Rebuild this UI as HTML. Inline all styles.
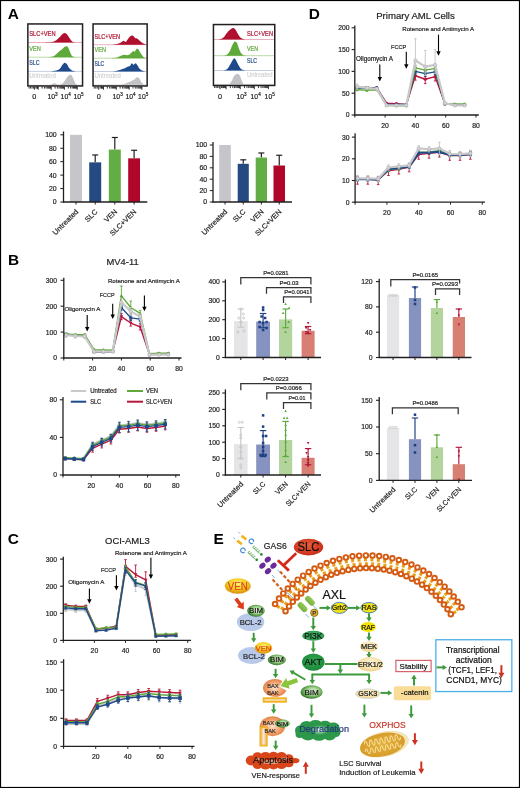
<!DOCTYPE html>
<html><head><meta charset="utf-8"><style>
html,body{margin:0;padding:0;background:#fff;}
body{width:520px;height:788px;overflow:hidden;}
svg{display:block;font-family:"Liberation Sans", sans-serif;will-change:transform;}
</style></head><body>
<svg width="520" height="788" viewBox="0 0 520 788">
<defs>
<radialGradient id="gVen" cx="50%" cy="35%" r="65%"><stop offset="0" stop-color="#fff47a"/><stop offset="0.55" stop-color="#f4cc1e"/><stop offset="1" stop-color="#d88a10"/></radialGradient>
<radialGradient id="gBim" cx="55%" cy="45%" r="60%"><stop offset="0" stop-color="#f4faf0"/><stop offset="0.5" stop-color="#9acb84"/><stop offset="0.85" stop-color="#3f8a36"/><stop offset="1" stop-color="#1a4f1a"/></radialGradient>
<radialGradient id="gSlc" cx="45%" cy="40%" r="65%"><stop offset="0" stop-color="#e8603a"/><stop offset="1" stop-color="#c82816"/></radialGradient>
<radialGradient id="gBeige" cx="50%" cy="40%" r="65%"><stop offset="0" stop-color="#fdf4dc"/><stop offset="0.6" stop-color="#f7e2aa"/><stop offset="1" stop-color="#eccb7e"/></radialGradient>
<radialGradient id="gBax" cx="50%" cy="50%" r="60%"><stop offset="0" stop-color="#fde2cc"/><stop offset="0.5" stop-color="#f2a874"/><stop offset="1" stop-color="#dc7030"/></radialGradient>
<radialGradient id="gPi3k" cx="50%" cy="40%" r="65%"><stop offset="0" stop-color="#44b462"/><stop offset="1" stop-color="#25944a"/></radialGradient>
<radialGradient id="gAkt" cx="50%" cy="40%" r="65%"><stop offset="0" stop-color="#30a650"/><stop offset="1" stop-color="#1a8538"/></radialGradient>
<radialGradient id="gDeg" cx="55%" cy="50%" r="50%"><stop offset="0" stop-color="#ffffff"/><stop offset="0.35" stop-color="#7cc890"/><stop offset="0.7" stop-color="#2e9a4c"/><stop offset="1" stop-color="#2a924a"/></radialGradient>
<radialGradient id="gMito" cx="50%" cy="50%" r="55%"><stop offset="0" stop-color="#e4b23e"/><stop offset="1" stop-color="#d69a28"/></radialGradient>
<linearGradient id="gKin" x1="0" y1="0" x2="0" y2="1"><stop offset="0" stop-color="#98ca5c"/><stop offset="1" stop-color="#74b03e"/></linearGradient>
<linearGradient id="gYbar" x1="0" y1="0" x2="0" y2="1"><stop offset="0" stop-color="#f0b848"/><stop offset="0.5" stop-color="#fbe6d6"/><stop offset="1" stop-color="#f0b848"/></linearGradient>
<linearGradient id="gYbarV" x1="0" y1="0" x2="1" y2="0"><stop offset="0" stop-color="#eeb070"/><stop offset="0.5" stop-color="#fbe6d6"/><stop offset="1" stop-color="#eeb070"/></linearGradient>
</defs>
<rect x="0.5" y="0.5" width="519" height="787" fill="#fff" stroke="#000" stroke-width="1.2"/>
<text x="7.70" y="19.20" font-size="15.4" font-weight="bold" fill="#000">A</text>
<line x1="27.85" y1="42.50" x2="82.55" y2="42.50" stroke="#e8b0bd" stroke-width="1"/>
<path d="M45.50,42.50 C46.58,42.43 50.22,42.48 52.00,42.10 C53.78,41.72 54.95,41.00 56.20,40.20 C57.45,39.40 58.45,38.35 59.50,37.30 C60.55,36.25 61.62,34.63 62.50,33.90 C63.38,33.17 64.05,32.83 64.80,32.90 C65.55,32.97 66.30,33.57 67.00,34.30 C67.70,35.03 68.33,36.30 69.00,37.30 C69.67,38.30 70.33,39.52 71.00,40.30 C71.67,41.08 72.17,41.63 73.00,42.00 C73.83,42.37 75.50,42.42 76.00,42.50 Z" fill="#b0102e" stroke="none" stroke-width="1"/>
<text x="29.25" y="36.30" font-size="6.5" fill="#b0102e" stroke="#b0102e" stroke-width="0.2" textLength="26.3" lengthAdjust="spacingAndGlyphs">SLC+VEN</text>
<line x1="27.85" y1="57.20" x2="82.55" y2="57.20" stroke="#b9dca6" stroke-width="1"/>
<path d="M47.50,57.20 C48.42,57.07 51.58,56.87 53.00,56.40 C54.42,55.93 55.00,55.23 56.00,54.40 C57.00,53.57 58.03,52.23 59.00,51.40 C59.97,50.57 61.00,50.07 61.80,49.40 C62.60,48.73 63.18,47.90 63.80,47.40 C64.42,46.90 64.92,46.53 65.50,46.40 C66.08,46.27 66.72,46.13 67.30,46.60 C67.88,47.07 68.47,48.10 69.00,49.20 C69.53,50.30 69.92,52.03 70.50,53.20 C71.08,54.37 71.58,55.53 72.50,56.20 C73.42,56.87 75.42,57.03 76.00,57.20 Z" fill="#5fa83a" stroke="none" stroke-width="1"/>
<text x="29.25" y="51.00" font-size="6.5" fill="#5fa83a" stroke="#5fa83a" stroke-width="0.2" textLength="11.5" lengthAdjust="spacingAndGlyphs">VEN</text>
<line x1="27.85" y1="71.40" x2="82.55" y2="71.40" stroke="#c5cfe3" stroke-width="1"/>
<path d="M51.00,71.40 C51.92,71.27 55.00,71.07 56.50,70.60 C58.00,70.13 59.03,69.53 60.00,68.60 C60.97,67.67 61.50,65.97 62.30,65.00 C63.10,64.03 64.02,62.92 64.80,62.80 C65.58,62.68 66.30,63.47 67.00,64.30 C67.70,65.13 68.25,66.82 69.00,67.80 C69.75,68.78 70.42,69.60 71.50,70.20 C72.58,70.80 74.83,71.20 75.50,71.40 Z" fill="#1f4a8a" stroke="none" stroke-width="1"/>
<text x="29.25" y="65.00" font-size="6.5" fill="#1f4a8a" stroke="#1f4a8a" stroke-width="0.2" textLength="10.3" lengthAdjust="spacingAndGlyphs">SLC</text>
<line x1="27.85" y1="85.20" x2="82.55" y2="85.20" stroke="#e3e3e5" stroke-width="1"/>
<path d="M50.00,85.20 C50.72,84.88 53.05,83.42 54.30,83.30 C55.55,83.18 56.47,84.28 57.50,84.50 C58.53,84.72 59.58,84.85 60.50,84.60 C61.42,84.35 62.12,83.90 63.00,83.00 C63.88,82.10 64.97,80.33 65.80,79.20 C66.63,78.07 67.27,76.93 68.00,76.20 C68.73,75.47 69.50,74.80 70.20,74.80 C70.90,74.80 71.57,75.30 72.20,76.20 C72.83,77.10 73.40,78.90 74.00,80.20 C74.60,81.50 75.13,83.17 75.80,84.00 C76.47,84.83 77.63,85.00 78.00,85.20 Z" fill="#c2c2c6" stroke="none" stroke-width="1"/>
<text x="29.25" y="78.00" font-size="6.5" fill="#d4d4d6" stroke="#d4d4d6" stroke-width="0.2" textLength="26.5" lengthAdjust="spacingAndGlyphs">Untreated</text>
<rect x="27.85" y="23.95" width="54.70" height="62.00" fill="none" stroke="#231f20" stroke-width="1.5"/>
<path d="M36.94,86.55v2.00M37.61,86.55v2.00M38.20,86.55v3.20M42.11,86.55v2.00M44.40,86.55v2.00M46.03,86.55v2.00M47.29,86.55v2.00M48.32,86.55v2.00M49.19,86.55v2.00M49.94,86.55v2.00M50.61,86.55v2.00M51.20,86.55v3.20M55.11,86.55v2.00M57.40,86.55v2.00M59.03,86.55v2.00M60.29,86.55v2.00M61.32,86.55v2.00M62.19,86.55v2.00M62.94,86.55v2.00M63.61,86.55v2.00M64.40,86.55v3.20M68.31,86.55v2.00M70.60,86.55v2.00M72.23,86.55v2.00M73.49,86.55v2.00M74.52,86.55v2.00M75.39,86.55v2.00M76.14,86.55v2.00M76.81,86.55v2.00M77.20,86.55v3.2M29.05,86.55v2.00M30.55,86.55v2.00M32.05,86.55v2.00M33.55,86.55v2.00M34.40,86.55v3.20M35.90,86.55v2.00M37.40,86.55v2.00" fill="none" stroke="#231f20" stroke-width="0.9"/>
<text x="34.40" y="98.90" font-size="7.3" text-anchor="middle" fill="#231f20" stroke="#231f20" stroke-width="0.2">0</text>
<text x="47.40" y="98.90" font-size="7.3" fill="#231f20" stroke="#231f20" stroke-width="0.2" textLength="7.6" lengthAdjust="spacingAndGlyphs">10</text>
<text x="55.10" y="95.70" font-size="4.6" fill="#231f20" stroke="#231f20" stroke-width="0.2">3</text>
<text x="60.60" y="98.90" font-size="7.3" fill="#231f20" stroke="#231f20" stroke-width="0.2" textLength="7.6" lengthAdjust="spacingAndGlyphs">10</text>
<text x="68.30" y="95.70" font-size="4.6" fill="#231f20" stroke="#231f20" stroke-width="0.2">4</text>
<text x="73.40" y="98.90" font-size="7.3" fill="#231f20" stroke="#231f20" stroke-width="0.2" textLength="7.6" lengthAdjust="spacingAndGlyphs">10</text>
<text x="81.10" y="95.70" font-size="4.6" fill="#231f20" stroke="#231f20" stroke-width="0.2">5</text>
<line x1="93.05" y1="44.70" x2="147.15" y2="44.70" stroke="#e8b0bd" stroke-width="1"/>
<path d="M111.00,44.70 C112.00,44.57 115.33,44.27 117.00,43.90 C118.67,43.53 119.92,43.02 121.00,42.50 C122.08,41.98 122.70,40.90 123.50,40.80 C124.30,40.70 124.97,42.33 125.80,41.90 C126.63,41.47 127.55,39.25 128.50,38.20 C129.45,37.15 130.67,35.95 131.50,35.60 C132.33,35.25 132.92,35.68 133.50,36.10 C134.08,36.52 134.42,37.70 135.00,38.10 C135.58,38.50 136.17,38.03 137.00,38.50 C137.83,38.97 139.00,40.12 140.00,40.90 C141.00,41.68 141.83,42.57 143.00,43.20 C144.17,43.83 146.33,44.45 147.00,44.70 Z" fill="#b0102e" stroke="none" stroke-width="1"/>
<text x="94.45" y="38.50" font-size="6.5" fill="#b0102e" stroke="#b0102e" stroke-width="0.2" textLength="25.6" lengthAdjust="spacingAndGlyphs">SLC+VEN</text>
<line x1="93.05" y1="58.20" x2="147.15" y2="58.20" stroke="#b9dca6" stroke-width="1"/>
<path d="M111.00,58.20 C112.00,58.08 115.33,57.90 117.00,57.50 C118.67,57.10 119.73,56.25 121.00,55.80 C122.27,55.35 123.60,54.88 124.60,54.80 C125.60,54.72 126.18,55.33 127.00,55.30 C127.82,55.27 128.75,55.05 129.50,54.60 C130.25,54.15 130.87,53.22 131.50,52.60 C132.13,51.98 132.75,51.07 133.30,50.90 C133.85,50.73 134.23,51.95 134.80,51.60 C135.37,51.25 136.08,49.17 136.70,48.80 C137.32,48.43 137.90,48.80 138.50,49.40 C139.10,50.00 139.75,51.52 140.30,52.40 C140.85,53.28 141.18,53.87 141.80,54.70 C142.42,55.53 143.13,56.82 144.00,57.40 C144.87,57.98 146.50,58.07 147.00,58.20 Z" fill="#5fa83a" stroke="none" stroke-width="1"/>
<text x="94.45" y="52.20" font-size="6.5" fill="#5fa83a" stroke="#5fa83a" stroke-width="0.2" textLength="11.5" lengthAdjust="spacingAndGlyphs">VEN</text>
<line x1="93.05" y1="71.50" x2="147.15" y2="71.50" stroke="#c5cfe3" stroke-width="1"/>
<path d="M110.00,71.50 C111.00,71.40 114.13,71.25 116.00,70.90 C117.87,70.55 119.70,69.85 121.20,69.40 C122.70,68.95 123.87,68.68 125.00,68.20 C126.13,67.72 127.17,66.88 128.00,66.50 C128.83,66.12 129.37,66.43 130.00,65.90 C130.63,65.37 131.20,63.48 131.80,63.30 C132.40,63.12 132.97,64.80 133.60,64.80 C134.23,64.80 134.95,63.18 135.60,63.30 C136.25,63.42 136.83,64.58 137.50,65.50 C138.17,66.42 138.85,67.95 139.60,68.80 C140.35,69.65 141.10,70.15 142.00,70.60 C142.90,71.05 144.50,71.35 145.00,71.50 Z" fill="#1f4a8a" stroke="none" stroke-width="1"/>
<text x="94.45" y="65.60" font-size="6.5" fill="#1f4a8a" stroke="#1f4a8a" stroke-width="0.2" textLength="9.8" lengthAdjust="spacingAndGlyphs">SLC</text>
<line x1="93.05" y1="84.80" x2="147.15" y2="84.80" stroke="#e3e3e5" stroke-width="1"/>
<path d="M121.00,84.80 C121.83,84.53 124.43,83.75 126.00,83.20 C127.57,82.65 129.23,81.98 130.40,81.50 C131.57,81.02 132.15,80.82 133.00,80.30 C133.85,79.78 134.78,78.92 135.50,78.40 C136.22,77.88 136.67,77.18 137.30,77.20 C137.93,77.22 138.63,77.70 139.30,78.50 C139.97,79.30 140.52,80.95 141.30,82.00 C142.08,83.05 143.55,84.33 144.00,84.80 Z" fill="#c2c2c6" stroke="none" stroke-width="1"/>
<text x="94.45" y="78.30" font-size="6.5" fill="#d4d4d6" stroke="#d4d4d6" stroke-width="0.2" textLength="26.3" lengthAdjust="spacingAndGlyphs">Untreated</text>
<rect x="93.05" y="23.95" width="54.10" height="62.00" fill="none" stroke="#231f20" stroke-width="1.5"/>
<path d="M101.52,86.55v2.00M102.26,86.55v2.00M102.91,86.55v2.00M103.50,86.55v3.20M107.35,86.55v2.00M109.61,86.55v2.00M111.21,86.55v2.00M112.45,86.55v2.00M113.46,86.55v2.00M114.32,86.55v2.00M115.06,86.55v2.00M115.71,86.55v2.00M116.30,86.55v3.20M120.15,86.55v2.00M122.41,86.55v2.00M124.01,86.55v2.00M125.25,86.55v2.00M126.26,86.55v2.00M127.12,86.55v2.00M127.86,86.55v2.00M128.51,86.55v2.00M129.20,86.55v3.20M133.05,86.55v2.00M135.31,86.55v2.00M136.91,86.55v2.00M138.15,86.55v2.00M139.16,86.55v2.00M140.02,86.55v2.00M140.76,86.55v2.00M141.41,86.55v2.00M141.90,86.55v3.2M94.25,86.55v2.00M95.75,86.55v2.00M97.25,86.55v2.00M98.70,86.55v3.20M100.20,86.55v2.00M101.70,86.55v2.00" fill="none" stroke="#231f20" stroke-width="0.9"/>
<text x="98.70" y="98.90" font-size="7.3" text-anchor="middle" fill="#231f20" stroke="#231f20" stroke-width="0.2">0</text>
<text x="112.50" y="98.90" font-size="7.3" fill="#231f20" stroke="#231f20" stroke-width="0.2" textLength="7.6" lengthAdjust="spacingAndGlyphs">10</text>
<text x="120.20" y="95.70" font-size="4.6" fill="#231f20" stroke="#231f20" stroke-width="0.2">3</text>
<text x="125.40" y="98.90" font-size="7.3" fill="#231f20" stroke="#231f20" stroke-width="0.2" textLength="7.6" lengthAdjust="spacingAndGlyphs">10</text>
<text x="133.10" y="95.70" font-size="4.6" fill="#231f20" stroke="#231f20" stroke-width="0.2">4</text>
<text x="138.10" y="98.90" font-size="7.3" fill="#231f20" stroke="#231f20" stroke-width="0.2" textLength="7.6" lengthAdjust="spacingAndGlyphs">10</text>
<text x="145.80" y="95.70" font-size="4.6" fill="#231f20" stroke="#231f20" stroke-width="0.2">5</text>
<line x1="213.45" y1="39.50" x2="274.75" y2="39.50" stroke="#e8b0bd" stroke-width="1"/>
<path d="M218.00,39.50 C218.58,39.37 220.50,39.13 221.50,38.70 C222.50,38.27 223.17,37.77 224.00,36.90 C224.83,36.03 225.75,34.50 226.50,33.50 C227.25,32.50 227.75,31.67 228.50,30.90 C229.25,30.13 230.15,29.37 231.00,28.90 C231.85,28.43 232.77,27.83 233.60,28.10 C234.43,28.37 235.18,29.37 236.00,30.50 C236.82,31.63 237.67,33.67 238.50,34.90 C239.33,36.13 240.08,37.18 241.00,37.90 C241.92,38.62 243.00,38.93 244.00,39.20 C245.00,39.47 246.50,39.45 247.00,39.50 Z" fill="#b0102e" stroke="none" stroke-width="1"/>
<text x="247.00" y="35.80" font-size="6.5" fill="#b0102e" stroke="#b0102e" stroke-width="0.2" textLength="26" lengthAdjust="spacingAndGlyphs">SLC+VEN</text>
<line x1="213.45" y1="55.70" x2="274.75" y2="55.70" stroke="#b9dca6" stroke-width="1"/>
<path d="M224.00,55.70 C224.58,55.45 226.50,55.03 227.50,54.20 C228.50,53.37 229.20,52.20 230.00,50.70 C230.80,49.20 231.50,46.73 232.30,45.20 C233.10,43.67 234.02,41.88 234.80,41.50 C235.58,41.12 236.30,41.70 237.00,42.90 C237.70,44.10 238.33,47.00 239.00,48.70 C239.67,50.40 240.25,52.00 241.00,53.10 C241.75,54.20 242.67,54.87 243.50,55.30 C244.33,55.73 245.58,55.63 246.00,55.70 Z" fill="#5fa83a" stroke="none" stroke-width="1"/>
<text x="247.00" y="50.60" font-size="6.5" fill="#5fa83a" stroke="#5fa83a" stroke-width="0.2" textLength="11" lengthAdjust="spacingAndGlyphs">VEN</text>
<line x1="213.45" y1="70.50" x2="274.75" y2="70.50" stroke="#c5cfe3" stroke-width="1"/>
<path d="M223.50,70.50 C224.17,70.20 226.33,69.78 227.50,68.70 C228.67,67.62 229.42,65.72 230.50,64.00 C231.58,62.28 232.95,58.78 234.00,58.40 C235.05,58.02 235.97,60.43 236.80,61.70 C237.63,62.97 238.22,64.73 239.00,66.00 C239.78,67.27 240.50,68.55 241.50,69.30 C242.50,70.05 244.42,70.30 245.00,70.50 Z" fill="#1f4a8a" stroke="none" stroke-width="1"/>
<text x="247.00" y="63.00" font-size="6.5" fill="#1f4a8a" stroke="#1f4a8a" stroke-width="0.2" textLength="10" lengthAdjust="spacingAndGlyphs">SLC</text>
<line x1="213.45" y1="84.30" x2="274.75" y2="84.30" stroke="#e3e3e5" stroke-width="1"/>
<path d="M229.50,84.30 C229.88,83.72 231.05,82.13 231.80,80.80 C232.55,79.47 233.08,77.47 234.00,76.30 C234.92,75.13 236.30,73.85 237.30,73.80 C238.30,73.75 239.22,74.75 240.00,76.00 C240.78,77.25 241.42,79.92 242.00,81.30 C242.58,82.68 243.25,83.80 243.50,84.30 Z" fill="#c2c2c6" stroke="none" stroke-width="1"/>
<text x="247.00" y="77.20" font-size="6.5" fill="#d4d4d6" stroke="#d4d4d6" stroke-width="0.2" textLength="25.6" lengthAdjust="spacingAndGlyphs">Untreated</text>
<rect x="213.45" y="24.55" width="61.30" height="60.90" fill="none" stroke="#231f20" stroke-width="1.5"/>
<path d="M222.97,86.05v2.00M223.92,86.05v2.00M224.73,86.05v2.00M225.45,86.05v2.00M226.10,86.05v3.20M230.34,86.05v2.00M232.83,86.05v2.00M234.59,86.05v2.00M235.96,86.05v2.00M237.07,86.05v2.00M238.02,86.05v2.00M238.83,86.05v2.00M239.55,86.05v2.00M240.20,86.05v3.20M244.44,86.05v2.00M246.93,86.05v2.00M248.69,86.05v2.00M250.06,86.05v2.00M251.17,86.05v2.00M252.12,86.05v2.00M252.93,86.05v2.00M253.65,86.05v2.00M254.30,86.05v3.20M258.54,86.05v2.00M261.03,86.05v2.00M262.79,86.05v2.00M264.16,86.05v2.00M265.27,86.05v2.00M266.22,86.05v2.00M267.03,86.05v2.00M267.75,86.05v2.00M268.40,86.05v3.2M214.65,86.05v2.00M216.15,86.05v2.00M217.65,86.05v2.00M219.15,86.05v2.00M220.10,86.05v3.20M221.60,86.05v2.00M223.10,86.05v2.00" fill="none" stroke="#231f20" stroke-width="0.9"/>
<text x="220.10" y="98.90" font-size="7.3" text-anchor="middle" fill="#231f20" stroke="#231f20" stroke-width="0.2">0</text>
<text x="236.40" y="98.90" font-size="7.3" fill="#231f20" stroke="#231f20" stroke-width="0.2" textLength="7.6" lengthAdjust="spacingAndGlyphs">10</text>
<text x="244.10" y="95.70" font-size="4.6" fill="#231f20" stroke="#231f20" stroke-width="0.2">3</text>
<text x="250.50" y="98.90" font-size="7.3" fill="#231f20" stroke="#231f20" stroke-width="0.2" textLength="7.6" lengthAdjust="spacingAndGlyphs">10</text>
<text x="258.20" y="95.70" font-size="4.6" fill="#231f20" stroke="#231f20" stroke-width="0.2">4</text>
<text x="264.60" y="98.90" font-size="7.3" fill="#231f20" stroke="#231f20" stroke-width="0.2" textLength="7.6" lengthAdjust="spacingAndGlyphs">10</text>
<text x="272.30" y="95.70" font-size="4.6" fill="#231f20" stroke="#231f20" stroke-width="0.2">5</text>
<rect x="70.00" y="134.80" width="12.00" height="67.20" fill="#c5c5ca"/>
<line x1="95.20" y1="162.35" x2="95.20" y2="154.96" stroke="#231f20" stroke-width="1.2"/>
<line x1="92.20" y1="154.96" x2="98.20" y2="154.96" stroke="#231f20" stroke-width="1.2"/>
<rect x="89.20" y="162.35" width="12.00" height="39.65" fill="#254a82"/>
<line x1="114.80" y1="149.58" x2="114.80" y2="137.49" stroke="#231f20" stroke-width="1.2"/>
<line x1="111.80" y1="137.49" x2="117.80" y2="137.49" stroke="#231f20" stroke-width="1.2"/>
<rect x="108.80" y="149.58" width="12.00" height="52.42" fill="#62ad45"/>
<line x1="134.10" y1="158.32" x2="134.10" y2="150.26" stroke="#231f20" stroke-width="1.2"/>
<line x1="131.10" y1="150.26" x2="137.10" y2="150.26" stroke="#231f20" stroke-width="1.2"/>
<rect x="128.20" y="158.32" width="11.80" height="43.68" fill="#b0062a"/>
<line x1="63.50" y1="131.50" x2="63.50" y2="202.60" stroke="#231f20" stroke-width="1.3"/>
<line x1="62.90" y1="202.00" x2="147.30" y2="202.00" stroke="#231f20" stroke-width="1.3"/>
<line x1="60.30" y1="202.00" x2="63.50" y2="202.00" stroke="#231f20" stroke-width="1"/>
<text x="56.70" y="204.48" font-size="6.9" text-anchor="end" fill="#231f20" stroke="#231f20" stroke-width="0.2">0</text>
<line x1="60.30" y1="188.56" x2="63.50" y2="188.56" stroke="#231f20" stroke-width="1"/>
<text x="56.70" y="191.04" font-size="6.9" text-anchor="end" fill="#231f20" stroke="#231f20" stroke-width="0.2">20</text>
<line x1="60.30" y1="175.12" x2="63.50" y2="175.12" stroke="#231f20" stroke-width="1"/>
<text x="56.70" y="177.60" font-size="6.9" text-anchor="end" fill="#231f20" stroke="#231f20" stroke-width="0.2">40</text>
<line x1="60.30" y1="161.68" x2="63.50" y2="161.68" stroke="#231f20" stroke-width="1"/>
<text x="56.70" y="164.16" font-size="6.9" text-anchor="end" fill="#231f20" stroke="#231f20" stroke-width="0.2">60</text>
<line x1="60.30" y1="148.24" x2="63.50" y2="148.24" stroke="#231f20" stroke-width="1"/>
<text x="56.70" y="150.72" font-size="6.9" text-anchor="end" fill="#231f20" stroke="#231f20" stroke-width="0.2">80</text>
<line x1="60.30" y1="134.80" x2="63.50" y2="134.80" stroke="#231f20" stroke-width="1"/>
<text x="56.70" y="137.28" font-size="6.9" text-anchor="end" fill="#231f20" stroke="#231f20" stroke-width="0.2">100</text>
<line x1="76.00" y1="202.00" x2="76.00" y2="204.50" stroke="#231f20" stroke-width="1"/>
<line x1="95.20" y1="202.00" x2="95.20" y2="204.50" stroke="#231f20" stroke-width="1"/>
<line x1="114.80" y1="202.00" x2="114.80" y2="204.50" stroke="#231f20" stroke-width="1"/>
<line x1="134.10" y1="202.00" x2="134.10" y2="204.50" stroke="#231f20" stroke-width="1"/>
<text x="0" y="0" font-size="7.2" text-anchor="end" fill="#231f20" stroke="#231f20" stroke-width="0.2" transform="translate(78.80,212.20) rotate(-45)" textLength="33" lengthAdjust="spacingAndGlyphs">Untreated</text>
<text x="0" y="0" font-size="7.2" text-anchor="end" fill="#231f20" stroke="#231f20" stroke-width="0.2" transform="translate(98.00,212.20) rotate(-45)" textLength="14.5" lengthAdjust="spacingAndGlyphs">SLC</text>
<text x="0" y="0" font-size="7.2" text-anchor="end" fill="#231f20" stroke="#231f20" stroke-width="0.2" transform="translate(117.60,212.20) rotate(-45)" textLength="15" lengthAdjust="spacingAndGlyphs">VEN</text>
<text x="0" y="0" font-size="7.2" text-anchor="end" fill="#231f20" stroke="#231f20" stroke-width="0.2" transform="translate(136.90,212.20) rotate(-45)" textLength="34" lengthAdjust="spacingAndGlyphs">SLC+VEN</text>
<rect x="219.20" y="145.00" width="11.60" height="57.00" fill="#c5c5ca"/>
<line x1="243.25" y1="163.81" x2="243.25" y2="159.82" stroke="#231f20" stroke-width="1.2"/>
<line x1="240.25" y1="159.82" x2="246.25" y2="159.82" stroke="#231f20" stroke-width="1.2"/>
<rect x="237.70" y="163.81" width="11.10" height="38.19" fill="#254a82"/>
<line x1="261.35" y1="157.54" x2="261.35" y2="152.98" stroke="#231f20" stroke-width="1.2"/>
<line x1="258.35" y1="152.98" x2="264.35" y2="152.98" stroke="#231f20" stroke-width="1.2"/>
<rect x="255.70" y="157.54" width="11.30" height="44.46" fill="#62ad45"/>
<line x1="279.25" y1="165.52" x2="279.25" y2="155.26" stroke="#231f20" stroke-width="1.2"/>
<line x1="276.25" y1="155.26" x2="282.25" y2="155.26" stroke="#231f20" stroke-width="1.2"/>
<rect x="273.50" y="165.52" width="11.50" height="36.48" fill="#b0062a"/>
<line x1="213.00" y1="142.00" x2="213.00" y2="202.60" stroke="#231f20" stroke-width="1.3"/>
<line x1="212.40" y1="202.00" x2="292.00" y2="202.00" stroke="#231f20" stroke-width="1.3"/>
<line x1="209.80" y1="202.00" x2="213.00" y2="202.00" stroke="#231f20" stroke-width="1"/>
<text x="207.20" y="204.48" font-size="6.9" text-anchor="end" fill="#231f20" stroke="#231f20" stroke-width="0.2">0</text>
<line x1="209.80" y1="190.60" x2="213.00" y2="190.60" stroke="#231f20" stroke-width="1"/>
<text x="207.20" y="193.08" font-size="6.9" text-anchor="end" fill="#231f20" stroke="#231f20" stroke-width="0.2">20</text>
<line x1="209.80" y1="179.20" x2="213.00" y2="179.20" stroke="#231f20" stroke-width="1"/>
<text x="207.20" y="181.68" font-size="6.9" text-anchor="end" fill="#231f20" stroke="#231f20" stroke-width="0.2">40</text>
<line x1="209.80" y1="167.80" x2="213.00" y2="167.80" stroke="#231f20" stroke-width="1"/>
<text x="207.20" y="170.28" font-size="6.9" text-anchor="end" fill="#231f20" stroke="#231f20" stroke-width="0.2">60</text>
<line x1="209.80" y1="156.40" x2="213.00" y2="156.40" stroke="#231f20" stroke-width="1"/>
<text x="207.20" y="158.88" font-size="6.9" text-anchor="end" fill="#231f20" stroke="#231f20" stroke-width="0.2">80</text>
<line x1="209.80" y1="145.00" x2="213.00" y2="145.00" stroke="#231f20" stroke-width="1"/>
<text x="207.20" y="147.48" font-size="6.9" text-anchor="end" fill="#231f20" stroke="#231f20" stroke-width="0.2">100</text>
<line x1="225.00" y1="202.00" x2="225.00" y2="204.50" stroke="#231f20" stroke-width="1"/>
<line x1="243.25" y1="202.00" x2="243.25" y2="204.50" stroke="#231f20" stroke-width="1"/>
<line x1="261.35" y1="202.00" x2="261.35" y2="204.50" stroke="#231f20" stroke-width="1"/>
<line x1="279.25" y1="202.00" x2="279.25" y2="204.50" stroke="#231f20" stroke-width="1"/>
<text x="0" y="0" font-size="7.2" text-anchor="end" fill="#231f20" stroke="#231f20" stroke-width="0.2" transform="translate(227.80,212.20) rotate(-45)" textLength="33" lengthAdjust="spacingAndGlyphs">Untreated</text>
<text x="0" y="0" font-size="7.2" text-anchor="end" fill="#231f20" stroke="#231f20" stroke-width="0.2" transform="translate(246.05,212.20) rotate(-45)" textLength="14.5" lengthAdjust="spacingAndGlyphs">SLC</text>
<text x="0" y="0" font-size="7.2" text-anchor="end" fill="#231f20" stroke="#231f20" stroke-width="0.2" transform="translate(264.15,212.20) rotate(-45)" textLength="15" lengthAdjust="spacingAndGlyphs">VEN</text>
<text x="0" y="0" font-size="7.2" text-anchor="end" fill="#231f20" stroke="#231f20" stroke-width="0.2" transform="translate(282.05,212.20) rotate(-45)" textLength="34" lengthAdjust="spacingAndGlyphs">SLC+VEN</text>
<text x="308.70" y="19.20" font-size="15.4" font-weight="bold" fill="#000">D</text>
<text x="376.20" y="19.30" font-size="9.8" fill="#231f20" stroke="#231f20" stroke-width="0.2" textLength="78.6" lengthAdjust="spacingAndGlyphs">Primary AML Cells</text>
<line x1="357.07" y1="87.53" x2="357.07" y2="86.66" stroke="#b8163a" stroke-width="0.9"/>
<line x1="355.77" y1="86.66" x2="358.37" y2="86.66" stroke="#b8163a" stroke-width="0.9"/>
<line x1="357.07" y1="87.53" x2="357.07" y2="88.40" stroke="#b8163a" stroke-width="0.9"/>
<line x1="355.77" y1="88.40" x2="358.37" y2="88.40" stroke="#b8163a" stroke-width="0.9"/>
<line x1="366.92" y1="87.53" x2="366.92" y2="86.66" stroke="#b8163a" stroke-width="0.9"/>
<line x1="365.62" y1="86.66" x2="368.22" y2="86.66" stroke="#b8163a" stroke-width="0.9"/>
<line x1="366.92" y1="87.53" x2="366.92" y2="88.40" stroke="#b8163a" stroke-width="0.9"/>
<line x1="365.62" y1="88.40" x2="368.22" y2="88.40" stroke="#b8163a" stroke-width="0.9"/>
<line x1="376.77" y1="87.97" x2="376.77" y2="87.10" stroke="#b8163a" stroke-width="0.9"/>
<line x1="375.47" y1="87.10" x2="378.07" y2="87.10" stroke="#b8163a" stroke-width="0.9"/>
<line x1="376.77" y1="87.97" x2="376.77" y2="88.84" stroke="#b8163a" stroke-width="0.9"/>
<line x1="375.47" y1="88.84" x2="378.07" y2="88.84" stroke="#b8163a" stroke-width="0.9"/>
<line x1="386.62" y1="103.23" x2="386.62" y2="102.79" stroke="#b8163a" stroke-width="0.9"/>
<line x1="385.31" y1="102.79" x2="387.92" y2="102.79" stroke="#b8163a" stroke-width="0.9"/>
<line x1="386.62" y1="103.23" x2="386.62" y2="103.66" stroke="#b8163a" stroke-width="0.9"/>
<line x1="385.31" y1="103.66" x2="387.92" y2="103.66" stroke="#b8163a" stroke-width="0.9"/>
<line x1="396.46" y1="103.66" x2="396.46" y2="103.23" stroke="#b8163a" stroke-width="0.9"/>
<line x1="395.16" y1="103.23" x2="397.76" y2="103.23" stroke="#b8163a" stroke-width="0.9"/>
<line x1="396.46" y1="103.66" x2="396.46" y2="104.10" stroke="#b8163a" stroke-width="0.9"/>
<line x1="395.16" y1="104.10" x2="397.76" y2="104.10" stroke="#b8163a" stroke-width="0.9"/>
<line x1="406.31" y1="104.54" x2="406.31" y2="104.10" stroke="#b8163a" stroke-width="0.9"/>
<line x1="405.01" y1="104.10" x2="407.61" y2="104.10" stroke="#b8163a" stroke-width="0.9"/>
<line x1="406.31" y1="104.54" x2="406.31" y2="104.97" stroke="#b8163a" stroke-width="0.9"/>
<line x1="405.01" y1="104.97" x2="407.61" y2="104.97" stroke="#b8163a" stroke-width="0.9"/>
<line x1="415.40" y1="75.76" x2="415.40" y2="73.14" stroke="#b8163a" stroke-width="0.9"/>
<line x1="414.10" y1="73.14" x2="416.70" y2="73.14" stroke="#b8163a" stroke-width="0.9"/>
<line x1="415.40" y1="75.76" x2="415.40" y2="80.12" stroke="#b8163a" stroke-width="0.9"/>
<line x1="414.10" y1="80.12" x2="416.70" y2="80.12" stroke="#b8163a" stroke-width="0.9"/>
<line x1="425.25" y1="79.25" x2="425.25" y2="76.63" stroke="#b8163a" stroke-width="0.9"/>
<line x1="423.95" y1="76.63" x2="426.55" y2="76.63" stroke="#b8163a" stroke-width="0.9"/>
<line x1="425.25" y1="79.25" x2="425.25" y2="83.61" stroke="#b8163a" stroke-width="0.9"/>
<line x1="423.95" y1="83.61" x2="426.55" y2="83.61" stroke="#b8163a" stroke-width="0.9"/>
<line x1="435.10" y1="76.63" x2="435.10" y2="74.02" stroke="#b8163a" stroke-width="0.9"/>
<line x1="433.80" y1="74.02" x2="436.40" y2="74.02" stroke="#b8163a" stroke-width="0.9"/>
<line x1="435.10" y1="76.63" x2="435.10" y2="80.99" stroke="#b8163a" stroke-width="0.9"/>
<line x1="433.80" y1="80.99" x2="436.40" y2="80.99" stroke="#b8163a" stroke-width="0.9"/>
<line x1="444.94" y1="103.66" x2="444.94" y2="103.23" stroke="#b8163a" stroke-width="0.9"/>
<line x1="443.64" y1="103.23" x2="446.24" y2="103.23" stroke="#b8163a" stroke-width="0.9"/>
<line x1="444.94" y1="103.66" x2="444.94" y2="104.10" stroke="#b8163a" stroke-width="0.9"/>
<line x1="443.64" y1="104.10" x2="446.24" y2="104.10" stroke="#b8163a" stroke-width="0.9"/>
<line x1="454.79" y1="104.97" x2="454.79" y2="104.54" stroke="#b8163a" stroke-width="0.9"/>
<line x1="453.49" y1="104.54" x2="456.09" y2="104.54" stroke="#b8163a" stroke-width="0.9"/>
<line x1="454.79" y1="104.97" x2="454.79" y2="105.41" stroke="#b8163a" stroke-width="0.9"/>
<line x1="453.49" y1="105.41" x2="456.09" y2="105.41" stroke="#b8163a" stroke-width="0.9"/>
<line x1="464.64" y1="105.41" x2="464.64" y2="104.97" stroke="#b8163a" stroke-width="0.9"/>
<line x1="463.34" y1="104.97" x2="465.94" y2="104.97" stroke="#b8163a" stroke-width="0.9"/>
<line x1="464.64" y1="105.41" x2="464.64" y2="105.84" stroke="#b8163a" stroke-width="0.9"/>
<line x1="463.34" y1="105.84" x2="465.94" y2="105.84" stroke="#b8163a" stroke-width="0.9"/>
<path d="M357.07,87.53 L366.92,87.53 L376.77,87.97 L386.62,103.23 L396.46,103.66 L406.31,104.54 L415.40,75.76 L425.25,79.25 L435.10,76.63 L444.94,103.66 L454.79,104.97 L464.64,105.41" fill="none" stroke="#b8163a" stroke-width="1.4" stroke-linejoin="round"/>
<circle cx="357.07" cy="87.53" r="1.60" fill="#b8163a"/>
<circle cx="366.92" cy="87.53" r="1.60" fill="#b8163a"/>
<circle cx="376.77" cy="87.97" r="1.60" fill="#b8163a"/>
<circle cx="386.62" cy="103.23" r="1.60" fill="#b8163a"/>
<circle cx="396.46" cy="103.66" r="1.60" fill="#b8163a"/>
<circle cx="406.31" cy="104.54" r="1.60" fill="#b8163a"/>
<circle cx="415.40" cy="75.76" r="1.60" fill="#b8163a"/>
<circle cx="425.25" cy="79.25" r="1.60" fill="#b8163a"/>
<circle cx="435.10" cy="76.63" r="1.60" fill="#b8163a"/>
<circle cx="444.94" cy="103.66" r="1.60" fill="#b8163a"/>
<circle cx="454.79" cy="104.97" r="1.60" fill="#b8163a"/>
<circle cx="464.64" cy="105.41" r="1.60" fill="#b8163a"/>
<line x1="357.07" y1="87.97" x2="357.07" y2="87.10" stroke="#1f4a8a" stroke-width="0.9"/>
<line x1="355.77" y1="87.10" x2="358.37" y2="87.10" stroke="#1f4a8a" stroke-width="0.9"/>
<line x1="357.07" y1="87.97" x2="357.07" y2="88.84" stroke="#1f4a8a" stroke-width="0.9"/>
<line x1="355.77" y1="88.84" x2="358.37" y2="88.84" stroke="#1f4a8a" stroke-width="0.9"/>
<line x1="366.92" y1="87.97" x2="366.92" y2="87.10" stroke="#1f4a8a" stroke-width="0.9"/>
<line x1="365.62" y1="87.10" x2="368.22" y2="87.10" stroke="#1f4a8a" stroke-width="0.9"/>
<line x1="366.92" y1="87.97" x2="366.92" y2="88.84" stroke="#1f4a8a" stroke-width="0.9"/>
<line x1="365.62" y1="88.84" x2="368.22" y2="88.84" stroke="#1f4a8a" stroke-width="0.9"/>
<line x1="376.77" y1="87.97" x2="376.77" y2="87.10" stroke="#1f4a8a" stroke-width="0.9"/>
<line x1="375.47" y1="87.10" x2="378.07" y2="87.10" stroke="#1f4a8a" stroke-width="0.9"/>
<line x1="376.77" y1="87.97" x2="376.77" y2="88.84" stroke="#1f4a8a" stroke-width="0.9"/>
<line x1="375.47" y1="88.84" x2="378.07" y2="88.84" stroke="#1f4a8a" stroke-width="0.9"/>
<line x1="386.62" y1="104.54" x2="386.62" y2="104.10" stroke="#1f4a8a" stroke-width="0.9"/>
<line x1="385.31" y1="104.10" x2="387.92" y2="104.10" stroke="#1f4a8a" stroke-width="0.9"/>
<line x1="386.62" y1="104.54" x2="386.62" y2="104.97" stroke="#1f4a8a" stroke-width="0.9"/>
<line x1="385.31" y1="104.97" x2="387.92" y2="104.97" stroke="#1f4a8a" stroke-width="0.9"/>
<line x1="396.46" y1="104.54" x2="396.46" y2="104.10" stroke="#1f4a8a" stroke-width="0.9"/>
<line x1="395.16" y1="104.10" x2="397.76" y2="104.10" stroke="#1f4a8a" stroke-width="0.9"/>
<line x1="396.46" y1="104.54" x2="396.46" y2="104.97" stroke="#1f4a8a" stroke-width="0.9"/>
<line x1="395.16" y1="104.97" x2="397.76" y2="104.97" stroke="#1f4a8a" stroke-width="0.9"/>
<line x1="406.31" y1="104.54" x2="406.31" y2="104.10" stroke="#1f4a8a" stroke-width="0.9"/>
<line x1="405.01" y1="104.10" x2="407.61" y2="104.10" stroke="#1f4a8a" stroke-width="0.9"/>
<line x1="406.31" y1="104.54" x2="406.31" y2="104.97" stroke="#1f4a8a" stroke-width="0.9"/>
<line x1="405.01" y1="104.97" x2="407.61" y2="104.97" stroke="#1f4a8a" stroke-width="0.9"/>
<line x1="415.40" y1="71.40" x2="415.40" y2="68.78" stroke="#1f4a8a" stroke-width="0.9"/>
<line x1="414.10" y1="68.78" x2="416.70" y2="68.78" stroke="#1f4a8a" stroke-width="0.9"/>
<line x1="415.40" y1="71.40" x2="415.40" y2="74.02" stroke="#1f4a8a" stroke-width="0.9"/>
<line x1="414.10" y1="74.02" x2="416.70" y2="74.02" stroke="#1f4a8a" stroke-width="0.9"/>
<line x1="425.25" y1="73.58" x2="425.25" y2="70.96" stroke="#1f4a8a" stroke-width="0.9"/>
<line x1="423.95" y1="70.96" x2="426.55" y2="70.96" stroke="#1f4a8a" stroke-width="0.9"/>
<line x1="425.25" y1="73.58" x2="425.25" y2="76.20" stroke="#1f4a8a" stroke-width="0.9"/>
<line x1="423.95" y1="76.20" x2="426.55" y2="76.20" stroke="#1f4a8a" stroke-width="0.9"/>
<line x1="435.10" y1="71.84" x2="435.10" y2="69.22" stroke="#1f4a8a" stroke-width="0.9"/>
<line x1="433.80" y1="69.22" x2="436.40" y2="69.22" stroke="#1f4a8a" stroke-width="0.9"/>
<line x1="435.10" y1="71.84" x2="435.10" y2="74.45" stroke="#1f4a8a" stroke-width="0.9"/>
<line x1="433.80" y1="74.45" x2="436.40" y2="74.45" stroke="#1f4a8a" stroke-width="0.9"/>
<line x1="444.94" y1="104.10" x2="444.94" y2="103.66" stroke="#1f4a8a" stroke-width="0.9"/>
<line x1="443.64" y1="103.66" x2="446.24" y2="103.66" stroke="#1f4a8a" stroke-width="0.9"/>
<line x1="444.94" y1="104.10" x2="444.94" y2="104.54" stroke="#1f4a8a" stroke-width="0.9"/>
<line x1="443.64" y1="104.54" x2="446.24" y2="104.54" stroke="#1f4a8a" stroke-width="0.9"/>
<line x1="454.79" y1="104.54" x2="454.79" y2="104.10" stroke="#1f4a8a" stroke-width="0.9"/>
<line x1="453.49" y1="104.10" x2="456.09" y2="104.10" stroke="#1f4a8a" stroke-width="0.9"/>
<line x1="454.79" y1="104.54" x2="454.79" y2="104.97" stroke="#1f4a8a" stroke-width="0.9"/>
<line x1="453.49" y1="104.97" x2="456.09" y2="104.97" stroke="#1f4a8a" stroke-width="0.9"/>
<line x1="464.64" y1="104.54" x2="464.64" y2="104.10" stroke="#1f4a8a" stroke-width="0.9"/>
<line x1="463.34" y1="104.10" x2="465.94" y2="104.10" stroke="#1f4a8a" stroke-width="0.9"/>
<line x1="464.64" y1="104.54" x2="464.64" y2="104.97" stroke="#1f4a8a" stroke-width="0.9"/>
<line x1="463.34" y1="104.97" x2="465.94" y2="104.97" stroke="#1f4a8a" stroke-width="0.9"/>
<path d="M357.07,87.97 L366.92,87.97 L376.77,87.97 L386.62,104.54 L396.46,104.54 L406.31,104.54 L415.40,71.40 L425.25,73.58 L435.10,71.84 L444.94,104.10 L454.79,104.54 L464.64,104.54" fill="none" stroke="#1f4a8a" stroke-width="1.4" stroke-linejoin="round"/>
<circle cx="357.07" cy="87.97" r="1.60" fill="#1f4a8a"/>
<circle cx="366.92" cy="87.97" r="1.60" fill="#1f4a8a"/>
<circle cx="376.77" cy="87.97" r="1.60" fill="#1f4a8a"/>
<circle cx="386.62" cy="104.54" r="1.60" fill="#1f4a8a"/>
<circle cx="396.46" cy="104.54" r="1.60" fill="#1f4a8a"/>
<circle cx="406.31" cy="104.54" r="1.60" fill="#1f4a8a"/>
<circle cx="415.40" cy="71.40" r="1.60" fill="#1f4a8a"/>
<circle cx="425.25" cy="73.58" r="1.60" fill="#1f4a8a"/>
<circle cx="435.10" cy="71.84" r="1.60" fill="#1f4a8a"/>
<circle cx="444.94" cy="104.10" r="1.60" fill="#1f4a8a"/>
<circle cx="454.79" cy="104.54" r="1.60" fill="#1f4a8a"/>
<circle cx="464.64" cy="104.54" r="1.60" fill="#1f4a8a"/>
<line x1="357.07" y1="89.71" x2="357.07" y2="88.84" stroke="#5fa83a" stroke-width="0.9"/>
<line x1="355.77" y1="88.84" x2="358.37" y2="88.84" stroke="#5fa83a" stroke-width="0.9"/>
<line x1="357.07" y1="89.71" x2="357.07" y2="90.58" stroke="#5fa83a" stroke-width="0.9"/>
<line x1="355.77" y1="90.58" x2="358.37" y2="90.58" stroke="#5fa83a" stroke-width="0.9"/>
<line x1="366.92" y1="90.15" x2="366.92" y2="89.28" stroke="#5fa83a" stroke-width="0.9"/>
<line x1="365.62" y1="89.28" x2="368.22" y2="89.28" stroke="#5fa83a" stroke-width="0.9"/>
<line x1="366.92" y1="90.15" x2="366.92" y2="91.02" stroke="#5fa83a" stroke-width="0.9"/>
<line x1="365.62" y1="91.02" x2="368.22" y2="91.02" stroke="#5fa83a" stroke-width="0.9"/>
<line x1="376.77" y1="89.71" x2="376.77" y2="88.84" stroke="#5fa83a" stroke-width="0.9"/>
<line x1="375.47" y1="88.84" x2="378.07" y2="88.84" stroke="#5fa83a" stroke-width="0.9"/>
<line x1="376.77" y1="89.71" x2="376.77" y2="90.58" stroke="#5fa83a" stroke-width="0.9"/>
<line x1="375.47" y1="90.58" x2="378.07" y2="90.58" stroke="#5fa83a" stroke-width="0.9"/>
<line x1="386.62" y1="105.41" x2="386.62" y2="104.97" stroke="#5fa83a" stroke-width="0.9"/>
<line x1="385.31" y1="104.97" x2="387.92" y2="104.97" stroke="#5fa83a" stroke-width="0.9"/>
<line x1="386.62" y1="105.41" x2="386.62" y2="105.84" stroke="#5fa83a" stroke-width="0.9"/>
<line x1="385.31" y1="105.84" x2="387.92" y2="105.84" stroke="#5fa83a" stroke-width="0.9"/>
<line x1="396.46" y1="105.84" x2="396.46" y2="105.41" stroke="#5fa83a" stroke-width="0.9"/>
<line x1="395.16" y1="105.41" x2="397.76" y2="105.41" stroke="#5fa83a" stroke-width="0.9"/>
<line x1="396.46" y1="105.84" x2="396.46" y2="106.28" stroke="#5fa83a" stroke-width="0.9"/>
<line x1="395.16" y1="106.28" x2="397.76" y2="106.28" stroke="#5fa83a" stroke-width="0.9"/>
<line x1="406.31" y1="105.84" x2="406.31" y2="105.41" stroke="#5fa83a" stroke-width="0.9"/>
<line x1="405.01" y1="105.41" x2="407.61" y2="105.41" stroke="#5fa83a" stroke-width="0.9"/>
<line x1="406.31" y1="105.84" x2="406.31" y2="106.28" stroke="#5fa83a" stroke-width="0.9"/>
<line x1="405.01" y1="106.28" x2="407.61" y2="106.28" stroke="#5fa83a" stroke-width="0.9"/>
<line x1="415.40" y1="67.91" x2="415.40" y2="65.30" stroke="#5fa83a" stroke-width="0.9"/>
<line x1="414.10" y1="65.30" x2="416.70" y2="65.30" stroke="#5fa83a" stroke-width="0.9"/>
<line x1="415.40" y1="67.91" x2="415.40" y2="70.53" stroke="#5fa83a" stroke-width="0.9"/>
<line x1="414.10" y1="70.53" x2="416.70" y2="70.53" stroke="#5fa83a" stroke-width="0.9"/>
<line x1="425.25" y1="70.09" x2="425.25" y2="67.48" stroke="#5fa83a" stroke-width="0.9"/>
<line x1="423.95" y1="67.48" x2="426.55" y2="67.48" stroke="#5fa83a" stroke-width="0.9"/>
<line x1="425.25" y1="70.09" x2="425.25" y2="72.71" stroke="#5fa83a" stroke-width="0.9"/>
<line x1="423.95" y1="72.71" x2="426.55" y2="72.71" stroke="#5fa83a" stroke-width="0.9"/>
<line x1="435.10" y1="68.35" x2="435.10" y2="65.73" stroke="#5fa83a" stroke-width="0.9"/>
<line x1="433.80" y1="65.73" x2="436.40" y2="65.73" stroke="#5fa83a" stroke-width="0.9"/>
<line x1="435.10" y1="68.35" x2="435.10" y2="70.96" stroke="#5fa83a" stroke-width="0.9"/>
<line x1="433.80" y1="70.96" x2="436.40" y2="70.96" stroke="#5fa83a" stroke-width="0.9"/>
<line x1="444.94" y1="104.10" x2="444.94" y2="103.66" stroke="#5fa83a" stroke-width="0.9"/>
<line x1="443.64" y1="103.66" x2="446.24" y2="103.66" stroke="#5fa83a" stroke-width="0.9"/>
<line x1="444.94" y1="104.10" x2="444.94" y2="104.54" stroke="#5fa83a" stroke-width="0.9"/>
<line x1="443.64" y1="104.54" x2="446.24" y2="104.54" stroke="#5fa83a" stroke-width="0.9"/>
<line x1="454.79" y1="104.10" x2="454.79" y2="103.66" stroke="#5fa83a" stroke-width="0.9"/>
<line x1="453.49" y1="103.66" x2="456.09" y2="103.66" stroke="#5fa83a" stroke-width="0.9"/>
<line x1="454.79" y1="104.10" x2="454.79" y2="104.54" stroke="#5fa83a" stroke-width="0.9"/>
<line x1="453.49" y1="104.54" x2="456.09" y2="104.54" stroke="#5fa83a" stroke-width="0.9"/>
<line x1="464.64" y1="104.10" x2="464.64" y2="103.66" stroke="#5fa83a" stroke-width="0.9"/>
<line x1="463.34" y1="103.66" x2="465.94" y2="103.66" stroke="#5fa83a" stroke-width="0.9"/>
<line x1="464.64" y1="104.10" x2="464.64" y2="104.54" stroke="#5fa83a" stroke-width="0.9"/>
<line x1="463.34" y1="104.54" x2="465.94" y2="104.54" stroke="#5fa83a" stroke-width="0.9"/>
<path d="M357.07,89.71 L366.92,90.15 L376.77,89.71 L386.62,105.41 L396.46,105.84 L406.31,105.84 L415.40,67.91 L425.25,70.09 L435.10,68.35 L444.94,104.10 L454.79,104.10 L464.64,104.10" fill="none" stroke="#5fa83a" stroke-width="1.4" stroke-linejoin="round"/>
<circle cx="357.07" cy="89.71" r="1.60" fill="#5fa83a"/>
<circle cx="366.92" cy="90.15" r="1.60" fill="#5fa83a"/>
<circle cx="376.77" cy="89.71" r="1.60" fill="#5fa83a"/>
<circle cx="386.62" cy="105.41" r="1.60" fill="#5fa83a"/>
<circle cx="396.46" cy="105.84" r="1.60" fill="#5fa83a"/>
<circle cx="406.31" cy="105.84" r="1.60" fill="#5fa83a"/>
<circle cx="415.40" cy="67.91" r="1.60" fill="#5fa83a"/>
<circle cx="425.25" cy="70.09" r="1.60" fill="#5fa83a"/>
<circle cx="435.10" cy="68.35" r="1.60" fill="#5fa83a"/>
<circle cx="444.94" cy="104.10" r="1.60" fill="#5fa83a"/>
<circle cx="454.79" cy="104.10" r="1.60" fill="#5fa83a"/>
<circle cx="464.64" cy="104.10" r="1.60" fill="#5fa83a"/>
<line x1="357.07" y1="86.66" x2="357.07" y2="84.04" stroke="#c4c4c6" stroke-width="0.9"/>
<line x1="355.77" y1="84.04" x2="358.37" y2="84.04" stroke="#c4c4c6" stroke-width="0.9"/>
<line x1="357.07" y1="86.66" x2="357.07" y2="89.28" stroke="#c4c4c6" stroke-width="0.9"/>
<line x1="355.77" y1="89.28" x2="358.37" y2="89.28" stroke="#c4c4c6" stroke-width="0.9"/>
<line x1="366.92" y1="87.97" x2="366.92" y2="86.66" stroke="#c4c4c6" stroke-width="0.9"/>
<line x1="365.62" y1="86.66" x2="368.22" y2="86.66" stroke="#c4c4c6" stroke-width="0.9"/>
<line x1="366.92" y1="87.97" x2="366.92" y2="89.28" stroke="#c4c4c6" stroke-width="0.9"/>
<line x1="365.62" y1="89.28" x2="368.22" y2="89.28" stroke="#c4c4c6" stroke-width="0.9"/>
<line x1="376.77" y1="88.84" x2="376.77" y2="87.53" stroke="#c4c4c6" stroke-width="0.9"/>
<line x1="375.47" y1="87.53" x2="378.07" y2="87.53" stroke="#c4c4c6" stroke-width="0.9"/>
<line x1="376.77" y1="88.84" x2="376.77" y2="90.15" stroke="#c4c4c6" stroke-width="0.9"/>
<line x1="375.47" y1="90.15" x2="378.07" y2="90.15" stroke="#c4c4c6" stroke-width="0.9"/>
<line x1="386.62" y1="105.41" x2="386.62" y2="104.54" stroke="#c4c4c6" stroke-width="0.9"/>
<line x1="385.31" y1="104.54" x2="387.92" y2="104.54" stroke="#c4c4c6" stroke-width="0.9"/>
<line x1="386.62" y1="105.41" x2="386.62" y2="106.28" stroke="#c4c4c6" stroke-width="0.9"/>
<line x1="385.31" y1="106.28" x2="387.92" y2="106.28" stroke="#c4c4c6" stroke-width="0.9"/>
<line x1="396.46" y1="105.41" x2="396.46" y2="104.54" stroke="#c4c4c6" stroke-width="0.9"/>
<line x1="395.16" y1="104.54" x2="397.76" y2="104.54" stroke="#c4c4c6" stroke-width="0.9"/>
<line x1="396.46" y1="105.41" x2="396.46" y2="106.28" stroke="#c4c4c6" stroke-width="0.9"/>
<line x1="395.16" y1="106.28" x2="397.76" y2="106.28" stroke="#c4c4c6" stroke-width="0.9"/>
<line x1="406.31" y1="105.41" x2="406.31" y2="104.54" stroke="#c4c4c6" stroke-width="0.9"/>
<line x1="405.01" y1="104.54" x2="407.61" y2="104.54" stroke="#c4c4c6" stroke-width="0.9"/>
<line x1="406.31" y1="105.41" x2="406.31" y2="106.28" stroke="#c4c4c6" stroke-width="0.9"/>
<line x1="405.01" y1="106.28" x2="407.61" y2="106.28" stroke="#c4c4c6" stroke-width="0.9"/>
<line x1="415.40" y1="60.50" x2="415.40" y2="38.70" stroke="#c4c4c6" stroke-width="0.9"/>
<line x1="414.10" y1="38.70" x2="416.70" y2="38.70" stroke="#c4c4c6" stroke-width="0.9"/>
<line x1="415.40" y1="60.50" x2="415.40" y2="69.22" stroke="#c4c4c6" stroke-width="0.9"/>
<line x1="414.10" y1="69.22" x2="416.70" y2="69.22" stroke="#c4c4c6" stroke-width="0.9"/>
<line x1="425.25" y1="66.60" x2="425.25" y2="50.47" stroke="#c4c4c6" stroke-width="0.9"/>
<line x1="423.95" y1="50.47" x2="426.55" y2="50.47" stroke="#c4c4c6" stroke-width="0.9"/>
<line x1="425.25" y1="66.60" x2="425.25" y2="75.32" stroke="#c4c4c6" stroke-width="0.9"/>
<line x1="423.95" y1="75.32" x2="426.55" y2="75.32" stroke="#c4c4c6" stroke-width="0.9"/>
<line x1="435.10" y1="64.86" x2="435.10" y2="49.60" stroke="#c4c4c6" stroke-width="0.9"/>
<line x1="433.80" y1="49.60" x2="436.40" y2="49.60" stroke="#c4c4c6" stroke-width="0.9"/>
<line x1="435.10" y1="64.86" x2="435.10" y2="73.58" stroke="#c4c4c6" stroke-width="0.9"/>
<line x1="433.80" y1="73.58" x2="436.40" y2="73.58" stroke="#c4c4c6" stroke-width="0.9"/>
<line x1="444.94" y1="103.23" x2="444.94" y2="101.92" stroke="#c4c4c6" stroke-width="0.9"/>
<line x1="443.64" y1="101.92" x2="446.24" y2="101.92" stroke="#c4c4c6" stroke-width="0.9"/>
<line x1="444.94" y1="103.23" x2="444.94" y2="104.54" stroke="#c4c4c6" stroke-width="0.9"/>
<line x1="443.64" y1="104.54" x2="446.24" y2="104.54" stroke="#c4c4c6" stroke-width="0.9"/>
<line x1="454.79" y1="105.41" x2="454.79" y2="104.54" stroke="#c4c4c6" stroke-width="0.9"/>
<line x1="453.49" y1="104.54" x2="456.09" y2="104.54" stroke="#c4c4c6" stroke-width="0.9"/>
<line x1="454.79" y1="105.41" x2="454.79" y2="106.28" stroke="#c4c4c6" stroke-width="0.9"/>
<line x1="453.49" y1="106.28" x2="456.09" y2="106.28" stroke="#c4c4c6" stroke-width="0.9"/>
<line x1="464.64" y1="105.41" x2="464.64" y2="104.54" stroke="#c4c4c6" stroke-width="0.9"/>
<line x1="463.34" y1="104.54" x2="465.94" y2="104.54" stroke="#c4c4c6" stroke-width="0.9"/>
<line x1="464.64" y1="105.41" x2="464.64" y2="106.28" stroke="#c4c4c6" stroke-width="0.9"/>
<line x1="463.34" y1="106.28" x2="465.94" y2="106.28" stroke="#c4c4c6" stroke-width="0.9"/>
<path d="M357.07,86.66 L366.92,87.97 L376.77,88.84 L386.62,105.41 L396.46,105.41 L406.31,105.41 L415.40,60.50 L425.25,66.60 L435.10,64.86 L444.94,103.23 L454.79,105.41 L464.64,105.41" fill="none" stroke="#c9c9cb" stroke-width="2.2" stroke-linejoin="round"/>
<circle cx="357.07" cy="86.66" r="1.70" fill="#d4d4d6" stroke="#b0b0b4" stroke-width="0.6"/>
<circle cx="366.92" cy="87.97" r="1.70" fill="#d4d4d6" stroke="#b0b0b4" stroke-width="0.6"/>
<circle cx="376.77" cy="88.84" r="1.70" fill="#d4d4d6" stroke="#b0b0b4" stroke-width="0.6"/>
<circle cx="386.62" cy="105.41" r="1.70" fill="#d4d4d6" stroke="#b0b0b4" stroke-width="0.6"/>
<circle cx="396.46" cy="105.41" r="1.70" fill="#d4d4d6" stroke="#b0b0b4" stroke-width="0.6"/>
<circle cx="406.31" cy="105.41" r="1.70" fill="#d4d4d6" stroke="#b0b0b4" stroke-width="0.6"/>
<circle cx="415.40" cy="60.50" r="1.70" fill="#d4d4d6" stroke="#b0b0b4" stroke-width="0.6"/>
<circle cx="425.25" cy="66.60" r="1.70" fill="#d4d4d6" stroke="#b0b0b4" stroke-width="0.6"/>
<circle cx="435.10" cy="64.86" r="1.70" fill="#d4d4d6" stroke="#b0b0b4" stroke-width="0.6"/>
<circle cx="444.94" cy="103.23" r="1.70" fill="#d4d4d6" stroke="#b0b0b4" stroke-width="0.6"/>
<circle cx="454.79" cy="105.41" r="1.70" fill="#d4d4d6" stroke="#b0b0b4" stroke-width="0.6"/>
<circle cx="464.64" cy="105.41" r="1.70" fill="#d4d4d6" stroke="#b0b0b4" stroke-width="0.6"/>
<line x1="354.80" y1="25.50" x2="354.80" y2="115.60" stroke="#231f20" stroke-width="1.3"/>
<line x1="354.20" y1="115.00" x2="478.80" y2="115.00" stroke="#231f20" stroke-width="1.3"/>
<line x1="351.60" y1="115.00" x2="354.80" y2="115.00" stroke="#231f20" stroke-width="1.1"/>
<text x="349.50" y="117.45" font-size="6.8" text-anchor="end" fill="#231f20" stroke="#231f20" stroke-width="0.2">0</text>
<line x1="351.60" y1="93.20" x2="354.80" y2="93.20" stroke="#231f20" stroke-width="1.1"/>
<text x="349.50" y="95.65" font-size="6.8" text-anchor="end" fill="#231f20" stroke="#231f20" stroke-width="0.2">50</text>
<line x1="351.60" y1="71.40" x2="354.80" y2="71.40" stroke="#231f20" stroke-width="1.1"/>
<text x="349.50" y="73.85" font-size="6.8" text-anchor="end" fill="#231f20" stroke="#231f20" stroke-width="0.2">100</text>
<line x1="351.60" y1="49.60" x2="354.80" y2="49.60" stroke="#231f20" stroke-width="1.1"/>
<text x="349.50" y="52.05" font-size="6.8" text-anchor="end" fill="#231f20" stroke="#231f20" stroke-width="0.2">150</text>
<line x1="351.60" y1="27.80" x2="354.80" y2="27.80" stroke="#231f20" stroke-width="1.1"/>
<text x="349.50" y="30.25" font-size="6.8" text-anchor="end" fill="#231f20" stroke="#231f20" stroke-width="0.2">200</text>
<line x1="354.80" y1="115.00" x2="354.80" y2="117.50" stroke="#231f20" stroke-width="1"/>
<line x1="385.10" y1="115.00" x2="385.10" y2="117.50" stroke="#231f20" stroke-width="1"/>
<line x1="415.40" y1="115.00" x2="415.40" y2="117.50" stroke="#231f20" stroke-width="1"/>
<line x1="445.70" y1="115.00" x2="445.70" y2="117.50" stroke="#231f20" stroke-width="1"/>
<line x1="476.00" y1="115.00" x2="476.00" y2="117.50" stroke="#231f20" stroke-width="1"/>
<text x="385.10" y="128.30" font-size="6.8" text-anchor="middle" fill="#231f20" stroke="#231f20" stroke-width="0.2">20</text>
<text x="415.40" y="128.30" font-size="6.8" text-anchor="middle" fill="#231f20" stroke="#231f20" stroke-width="0.2">40</text>
<text x="445.70" y="128.30" font-size="6.8" text-anchor="middle" fill="#231f20" stroke="#231f20" stroke-width="0.2">60</text>
<text x="476.00" y="128.30" font-size="6.8" text-anchor="middle" fill="#231f20" stroke="#231f20" stroke-width="0.2">80</text>
<text x="356.00" y="60.80" font-size="6.3" fill="#231f20" stroke="#231f20" stroke-width="0.2" textLength="37" lengthAdjust="spacingAndGlyphs">Oligomycin A</text>
<line x1="379.80" y1="64.50" x2="379.80" y2="77.40" stroke="#000" stroke-width="1.1"/>
<path d="M377.60,76.90 L382.00,76.90 L379.80,81.40 Z" fill="#000" stroke="none" stroke-width="1"/>
<text x="391.00" y="48.60" font-size="6.1" fill="#231f20" stroke="#231f20" stroke-width="0.2" textLength="15.3" lengthAdjust="spacingAndGlyphs">FCCP</text>
<line x1="406.30" y1="51.80" x2="406.30" y2="64.80" stroke="#000" stroke-width="1.1"/>
<path d="M404.10,64.30 L408.50,64.30 L406.30,68.80 Z" fill="#000" stroke="none" stroke-width="1"/>
<text x="402.30" y="31.20" font-size="6.2" fill="#231f20" stroke="#231f20" stroke-width="0.2" textLength="71.7" lengthAdjust="spacingAndGlyphs">Rotenone and Antimycin A</text>
<line x1="438.50" y1="34.60" x2="438.50" y2="51.80" stroke="#000" stroke-width="1.1"/>
<path d="M436.30,51.30 L440.70,51.30 L438.50,55.80 Z" fill="#000" stroke="none" stroke-width="1"/>
<line x1="357.49" y1="179.41" x2="357.49" y2="176.16" stroke="#b8163a" stroke-width="0.9"/>
<line x1="356.19" y1="176.16" x2="358.79" y2="176.16" stroke="#b8163a" stroke-width="0.9"/>
<line x1="357.49" y1="179.41" x2="357.49" y2="184.19" stroke="#b8163a" stroke-width="0.9"/>
<line x1="356.19" y1="184.19" x2="358.79" y2="184.19" stroke="#b8163a" stroke-width="0.9"/>
<line x1="367.82" y1="179.41" x2="367.82" y2="176.16" stroke="#b8163a" stroke-width="0.9"/>
<line x1="366.52" y1="176.16" x2="369.12" y2="176.16" stroke="#b8163a" stroke-width="0.9"/>
<line x1="367.82" y1="179.41" x2="367.82" y2="184.19" stroke="#b8163a" stroke-width="0.9"/>
<line x1="366.52" y1="184.19" x2="369.12" y2="184.19" stroke="#b8163a" stroke-width="0.9"/>
<line x1="378.16" y1="179.85" x2="378.16" y2="176.59" stroke="#b8163a" stroke-width="0.9"/>
<line x1="376.86" y1="176.59" x2="379.46" y2="176.59" stroke="#b8163a" stroke-width="0.9"/>
<line x1="378.16" y1="179.85" x2="378.16" y2="184.62" stroke="#b8163a" stroke-width="0.9"/>
<line x1="376.86" y1="184.62" x2="379.46" y2="184.62" stroke="#b8163a" stroke-width="0.9"/>
<line x1="388.49" y1="170.73" x2="388.49" y2="167.48" stroke="#b8163a" stroke-width="0.9"/>
<line x1="387.19" y1="167.48" x2="389.79" y2="167.48" stroke="#b8163a" stroke-width="0.9"/>
<line x1="388.49" y1="170.73" x2="388.49" y2="175.51" stroke="#b8163a" stroke-width="0.9"/>
<line x1="387.19" y1="175.51" x2="389.79" y2="175.51" stroke="#b8163a" stroke-width="0.9"/>
<line x1="398.83" y1="169.22" x2="398.83" y2="165.96" stroke="#b8163a" stroke-width="0.9"/>
<line x1="397.53" y1="165.96" x2="400.13" y2="165.96" stroke="#b8163a" stroke-width="0.9"/>
<line x1="398.83" y1="169.22" x2="398.83" y2="173.99" stroke="#b8163a" stroke-width="0.9"/>
<line x1="397.53" y1="173.99" x2="400.13" y2="173.99" stroke="#b8163a" stroke-width="0.9"/>
<line x1="409.16" y1="167.05" x2="409.16" y2="163.79" stroke="#b8163a" stroke-width="0.9"/>
<line x1="407.86" y1="163.79" x2="410.46" y2="163.79" stroke="#b8163a" stroke-width="0.9"/>
<line x1="409.16" y1="167.05" x2="409.16" y2="171.82" stroke="#b8163a" stroke-width="0.9"/>
<line x1="407.86" y1="171.82" x2="410.46" y2="171.82" stroke="#b8163a" stroke-width="0.9"/>
<line x1="418.70" y1="154.46" x2="418.70" y2="151.20" stroke="#b8163a" stroke-width="0.9"/>
<line x1="417.40" y1="151.20" x2="420.00" y2="151.20" stroke="#b8163a" stroke-width="0.9"/>
<line x1="418.70" y1="154.46" x2="418.70" y2="159.23" stroke="#b8163a" stroke-width="0.9"/>
<line x1="417.40" y1="159.23" x2="420.00" y2="159.23" stroke="#b8163a" stroke-width="0.9"/>
<line x1="429.04" y1="153.38" x2="429.04" y2="150.12" stroke="#b8163a" stroke-width="0.9"/>
<line x1="427.74" y1="150.12" x2="430.34" y2="150.12" stroke="#b8163a" stroke-width="0.9"/>
<line x1="429.04" y1="153.38" x2="429.04" y2="158.15" stroke="#b8163a" stroke-width="0.9"/>
<line x1="427.74" y1="158.15" x2="430.34" y2="158.15" stroke="#b8163a" stroke-width="0.9"/>
<line x1="439.37" y1="152.29" x2="439.37" y2="149.03" stroke="#b8163a" stroke-width="0.9"/>
<line x1="438.07" y1="149.03" x2="440.67" y2="149.03" stroke="#b8163a" stroke-width="0.9"/>
<line x1="439.37" y1="152.29" x2="439.37" y2="157.06" stroke="#b8163a" stroke-width="0.9"/>
<line x1="438.07" y1="157.06" x2="440.67" y2="157.06" stroke="#b8163a" stroke-width="0.9"/>
<line x1="449.71" y1="155.54" x2="449.71" y2="152.29" stroke="#b8163a" stroke-width="0.9"/>
<line x1="448.41" y1="152.29" x2="451.01" y2="152.29" stroke="#b8163a" stroke-width="0.9"/>
<line x1="449.71" y1="155.54" x2="449.71" y2="160.32" stroke="#b8163a" stroke-width="0.9"/>
<line x1="448.41" y1="160.32" x2="451.01" y2="160.32" stroke="#b8163a" stroke-width="0.9"/>
<line x1="460.04" y1="155.54" x2="460.04" y2="152.29" stroke="#b8163a" stroke-width="0.9"/>
<line x1="458.74" y1="152.29" x2="461.34" y2="152.29" stroke="#b8163a" stroke-width="0.9"/>
<line x1="460.04" y1="155.54" x2="460.04" y2="160.32" stroke="#b8163a" stroke-width="0.9"/>
<line x1="458.74" y1="160.32" x2="461.34" y2="160.32" stroke="#b8163a" stroke-width="0.9"/>
<line x1="470.38" y1="154.46" x2="470.38" y2="151.20" stroke="#b8163a" stroke-width="0.9"/>
<line x1="469.07" y1="151.20" x2="471.68" y2="151.20" stroke="#b8163a" stroke-width="0.9"/>
<line x1="470.38" y1="154.46" x2="470.38" y2="159.23" stroke="#b8163a" stroke-width="0.9"/>
<line x1="469.07" y1="159.23" x2="471.68" y2="159.23" stroke="#b8163a" stroke-width="0.9"/>
<path d="M357.49,179.41 L367.82,179.41 L378.16,179.85 L388.49,170.73 L398.83,169.22 L409.16,167.05 L418.70,154.46 L429.04,153.38 L439.37,152.29 L449.71,155.54 L460.04,155.54 L470.38,154.46" fill="none" stroke="#b8163a" stroke-width="1.4" stroke-linejoin="round"/>
<circle cx="357.49" cy="179.41" r="1.30" fill="#b8163a"/>
<circle cx="367.82" cy="179.41" r="1.30" fill="#b8163a"/>
<circle cx="378.16" cy="179.85" r="1.30" fill="#b8163a"/>
<circle cx="388.49" cy="170.73" r="1.30" fill="#b8163a"/>
<circle cx="398.83" cy="169.22" r="1.30" fill="#b8163a"/>
<circle cx="409.16" cy="167.05" r="1.30" fill="#b8163a"/>
<circle cx="418.70" cy="154.46" r="1.30" fill="#b8163a"/>
<circle cx="429.04" cy="153.38" r="1.30" fill="#b8163a"/>
<circle cx="439.37" cy="152.29" r="1.30" fill="#b8163a"/>
<circle cx="449.71" cy="155.54" r="1.30" fill="#b8163a"/>
<circle cx="460.04" cy="155.54" r="1.30" fill="#b8163a"/>
<circle cx="470.38" cy="154.46" r="1.30" fill="#b8163a"/>
<line x1="357.49" y1="179.20" x2="357.49" y2="177.46" stroke="#5fa83a" stroke-width="0.9"/>
<line x1="356.19" y1="177.46" x2="358.79" y2="177.46" stroke="#5fa83a" stroke-width="0.9"/>
<line x1="357.49" y1="179.20" x2="357.49" y2="180.93" stroke="#5fa83a" stroke-width="0.9"/>
<line x1="356.19" y1="180.93" x2="358.79" y2="180.93" stroke="#5fa83a" stroke-width="0.9"/>
<line x1="367.82" y1="179.20" x2="367.82" y2="177.46" stroke="#5fa83a" stroke-width="0.9"/>
<line x1="366.52" y1="177.46" x2="369.12" y2="177.46" stroke="#5fa83a" stroke-width="0.9"/>
<line x1="367.82" y1="179.20" x2="367.82" y2="180.93" stroke="#5fa83a" stroke-width="0.9"/>
<line x1="366.52" y1="180.93" x2="369.12" y2="180.93" stroke="#5fa83a" stroke-width="0.9"/>
<line x1="378.16" y1="179.41" x2="378.16" y2="177.68" stroke="#5fa83a" stroke-width="0.9"/>
<line x1="376.86" y1="177.68" x2="379.46" y2="177.68" stroke="#5fa83a" stroke-width="0.9"/>
<line x1="378.16" y1="179.41" x2="378.16" y2="181.15" stroke="#5fa83a" stroke-width="0.9"/>
<line x1="376.86" y1="181.15" x2="379.46" y2="181.15" stroke="#5fa83a" stroke-width="0.9"/>
<line x1="388.49" y1="169.65" x2="388.49" y2="167.91" stroke="#5fa83a" stroke-width="0.9"/>
<line x1="387.19" y1="167.91" x2="389.79" y2="167.91" stroke="#5fa83a" stroke-width="0.9"/>
<line x1="388.49" y1="169.65" x2="388.49" y2="171.39" stroke="#5fa83a" stroke-width="0.9"/>
<line x1="387.19" y1="171.39" x2="389.79" y2="171.39" stroke="#5fa83a" stroke-width="0.9"/>
<line x1="398.83" y1="168.56" x2="398.83" y2="166.83" stroke="#5fa83a" stroke-width="0.9"/>
<line x1="397.53" y1="166.83" x2="400.13" y2="166.83" stroke="#5fa83a" stroke-width="0.9"/>
<line x1="398.83" y1="168.56" x2="398.83" y2="170.30" stroke="#5fa83a" stroke-width="0.9"/>
<line x1="397.53" y1="170.30" x2="400.13" y2="170.30" stroke="#5fa83a" stroke-width="0.9"/>
<line x1="409.16" y1="166.39" x2="409.16" y2="164.66" stroke="#5fa83a" stroke-width="0.9"/>
<line x1="407.86" y1="164.66" x2="410.46" y2="164.66" stroke="#5fa83a" stroke-width="0.9"/>
<line x1="409.16" y1="166.39" x2="409.16" y2="168.13" stroke="#5fa83a" stroke-width="0.9"/>
<line x1="407.86" y1="168.13" x2="410.46" y2="168.13" stroke="#5fa83a" stroke-width="0.9"/>
<line x1="418.70" y1="152.29" x2="418.70" y2="150.55" stroke="#5fa83a" stroke-width="0.9"/>
<line x1="417.40" y1="150.55" x2="420.00" y2="150.55" stroke="#5fa83a" stroke-width="0.9"/>
<line x1="418.70" y1="152.29" x2="418.70" y2="154.03" stroke="#5fa83a" stroke-width="0.9"/>
<line x1="417.40" y1="154.03" x2="420.00" y2="154.03" stroke="#5fa83a" stroke-width="0.9"/>
<line x1="429.04" y1="151.86" x2="429.04" y2="150.12" stroke="#5fa83a" stroke-width="0.9"/>
<line x1="427.74" y1="150.12" x2="430.34" y2="150.12" stroke="#5fa83a" stroke-width="0.9"/>
<line x1="429.04" y1="151.86" x2="429.04" y2="153.59" stroke="#5fa83a" stroke-width="0.9"/>
<line x1="427.74" y1="153.59" x2="430.34" y2="153.59" stroke="#5fa83a" stroke-width="0.9"/>
<line x1="439.37" y1="150.77" x2="439.37" y2="149.03" stroke="#5fa83a" stroke-width="0.9"/>
<line x1="438.07" y1="149.03" x2="440.67" y2="149.03" stroke="#5fa83a" stroke-width="0.9"/>
<line x1="439.37" y1="150.77" x2="439.37" y2="152.51" stroke="#5fa83a" stroke-width="0.9"/>
<line x1="438.07" y1="152.51" x2="440.67" y2="152.51" stroke="#5fa83a" stroke-width="0.9"/>
<line x1="449.71" y1="154.89" x2="449.71" y2="153.16" stroke="#5fa83a" stroke-width="0.9"/>
<line x1="448.41" y1="153.16" x2="451.01" y2="153.16" stroke="#5fa83a" stroke-width="0.9"/>
<line x1="449.71" y1="154.89" x2="449.71" y2="156.63" stroke="#5fa83a" stroke-width="0.9"/>
<line x1="448.41" y1="156.63" x2="451.01" y2="156.63" stroke="#5fa83a" stroke-width="0.9"/>
<line x1="460.04" y1="154.89" x2="460.04" y2="153.16" stroke="#5fa83a" stroke-width="0.9"/>
<line x1="458.74" y1="153.16" x2="461.34" y2="153.16" stroke="#5fa83a" stroke-width="0.9"/>
<line x1="460.04" y1="154.89" x2="460.04" y2="156.63" stroke="#5fa83a" stroke-width="0.9"/>
<line x1="458.74" y1="156.63" x2="461.34" y2="156.63" stroke="#5fa83a" stroke-width="0.9"/>
<line x1="470.38" y1="154.03" x2="470.38" y2="152.29" stroke="#5fa83a" stroke-width="0.9"/>
<line x1="469.07" y1="152.29" x2="471.68" y2="152.29" stroke="#5fa83a" stroke-width="0.9"/>
<line x1="470.38" y1="154.03" x2="470.38" y2="155.76" stroke="#5fa83a" stroke-width="0.9"/>
<line x1="469.07" y1="155.76" x2="471.68" y2="155.76" stroke="#5fa83a" stroke-width="0.9"/>
<path d="M357.49,179.20 L367.82,179.20 L378.16,179.41 L388.49,169.65 L398.83,168.56 L409.16,166.39 L418.70,152.29 L429.04,151.86 L439.37,150.77 L449.71,154.89 L460.04,154.89 L470.38,154.03" fill="none" stroke="#5fa83a" stroke-width="1.4" stroke-linejoin="round"/>
<circle cx="357.49" cy="179.20" r="1.30" fill="#5fa83a"/>
<circle cx="367.82" cy="179.20" r="1.30" fill="#5fa83a"/>
<circle cx="378.16" cy="179.41" r="1.30" fill="#5fa83a"/>
<circle cx="388.49" cy="169.65" r="1.30" fill="#5fa83a"/>
<circle cx="398.83" cy="168.56" r="1.30" fill="#5fa83a"/>
<circle cx="409.16" cy="166.39" r="1.30" fill="#5fa83a"/>
<circle cx="418.70" cy="152.29" r="1.30" fill="#5fa83a"/>
<circle cx="429.04" cy="151.86" r="1.30" fill="#5fa83a"/>
<circle cx="439.37" cy="150.77" r="1.30" fill="#5fa83a"/>
<circle cx="449.71" cy="154.89" r="1.30" fill="#5fa83a"/>
<circle cx="460.04" cy="154.89" r="1.30" fill="#5fa83a"/>
<circle cx="470.38" cy="154.03" r="1.30" fill="#5fa83a"/>
<line x1="357.49" y1="179.20" x2="357.49" y2="177.46" stroke="#1f4a8a" stroke-width="0.9"/>
<line x1="356.19" y1="177.46" x2="358.79" y2="177.46" stroke="#1f4a8a" stroke-width="0.9"/>
<line x1="357.49" y1="179.20" x2="357.49" y2="180.93" stroke="#1f4a8a" stroke-width="0.9"/>
<line x1="356.19" y1="180.93" x2="358.79" y2="180.93" stroke="#1f4a8a" stroke-width="0.9"/>
<line x1="367.82" y1="179.20" x2="367.82" y2="177.46" stroke="#1f4a8a" stroke-width="0.9"/>
<line x1="366.52" y1="177.46" x2="369.12" y2="177.46" stroke="#1f4a8a" stroke-width="0.9"/>
<line x1="367.82" y1="179.20" x2="367.82" y2="180.93" stroke="#1f4a8a" stroke-width="0.9"/>
<line x1="366.52" y1="180.93" x2="369.12" y2="180.93" stroke="#1f4a8a" stroke-width="0.9"/>
<line x1="378.16" y1="179.63" x2="378.16" y2="177.90" stroke="#1f4a8a" stroke-width="0.9"/>
<line x1="376.86" y1="177.90" x2="379.46" y2="177.90" stroke="#1f4a8a" stroke-width="0.9"/>
<line x1="378.16" y1="179.63" x2="378.16" y2="181.37" stroke="#1f4a8a" stroke-width="0.9"/>
<line x1="376.86" y1="181.37" x2="379.46" y2="181.37" stroke="#1f4a8a" stroke-width="0.9"/>
<line x1="388.49" y1="169.00" x2="388.49" y2="167.26" stroke="#1f4a8a" stroke-width="0.9"/>
<line x1="387.19" y1="167.26" x2="389.79" y2="167.26" stroke="#1f4a8a" stroke-width="0.9"/>
<line x1="388.49" y1="169.00" x2="388.49" y2="170.73" stroke="#1f4a8a" stroke-width="0.9"/>
<line x1="387.19" y1="170.73" x2="389.79" y2="170.73" stroke="#1f4a8a" stroke-width="0.9"/>
<line x1="398.83" y1="167.91" x2="398.83" y2="166.18" stroke="#1f4a8a" stroke-width="0.9"/>
<line x1="397.53" y1="166.18" x2="400.13" y2="166.18" stroke="#1f4a8a" stroke-width="0.9"/>
<line x1="398.83" y1="167.91" x2="398.83" y2="169.65" stroke="#1f4a8a" stroke-width="0.9"/>
<line x1="397.53" y1="169.65" x2="400.13" y2="169.65" stroke="#1f4a8a" stroke-width="0.9"/>
<line x1="409.16" y1="166.83" x2="409.16" y2="165.09" stroke="#1f4a8a" stroke-width="0.9"/>
<line x1="407.86" y1="165.09" x2="410.46" y2="165.09" stroke="#1f4a8a" stroke-width="0.9"/>
<line x1="409.16" y1="166.83" x2="409.16" y2="168.56" stroke="#1f4a8a" stroke-width="0.9"/>
<line x1="407.86" y1="168.56" x2="410.46" y2="168.56" stroke="#1f4a8a" stroke-width="0.9"/>
<line x1="418.70" y1="152.72" x2="418.70" y2="150.99" stroke="#1f4a8a" stroke-width="0.9"/>
<line x1="417.40" y1="150.99" x2="420.00" y2="150.99" stroke="#1f4a8a" stroke-width="0.9"/>
<line x1="418.70" y1="152.72" x2="418.70" y2="154.46" stroke="#1f4a8a" stroke-width="0.9"/>
<line x1="417.40" y1="154.46" x2="420.00" y2="154.46" stroke="#1f4a8a" stroke-width="0.9"/>
<line x1="429.04" y1="152.51" x2="429.04" y2="150.77" stroke="#1f4a8a" stroke-width="0.9"/>
<line x1="427.74" y1="150.77" x2="430.34" y2="150.77" stroke="#1f4a8a" stroke-width="0.9"/>
<line x1="429.04" y1="152.51" x2="429.04" y2="154.24" stroke="#1f4a8a" stroke-width="0.9"/>
<line x1="427.74" y1="154.24" x2="430.34" y2="154.24" stroke="#1f4a8a" stroke-width="0.9"/>
<line x1="439.37" y1="151.86" x2="439.37" y2="150.12" stroke="#1f4a8a" stroke-width="0.9"/>
<line x1="438.07" y1="150.12" x2="440.67" y2="150.12" stroke="#1f4a8a" stroke-width="0.9"/>
<line x1="439.37" y1="151.86" x2="439.37" y2="153.59" stroke="#1f4a8a" stroke-width="0.9"/>
<line x1="438.07" y1="153.59" x2="440.67" y2="153.59" stroke="#1f4a8a" stroke-width="0.9"/>
<line x1="449.71" y1="154.89" x2="449.71" y2="153.16" stroke="#1f4a8a" stroke-width="0.9"/>
<line x1="448.41" y1="153.16" x2="451.01" y2="153.16" stroke="#1f4a8a" stroke-width="0.9"/>
<line x1="449.71" y1="154.89" x2="449.71" y2="156.63" stroke="#1f4a8a" stroke-width="0.9"/>
<line x1="448.41" y1="156.63" x2="451.01" y2="156.63" stroke="#1f4a8a" stroke-width="0.9"/>
<line x1="460.04" y1="154.89" x2="460.04" y2="153.16" stroke="#1f4a8a" stroke-width="0.9"/>
<line x1="458.74" y1="153.16" x2="461.34" y2="153.16" stroke="#1f4a8a" stroke-width="0.9"/>
<line x1="460.04" y1="154.89" x2="460.04" y2="156.63" stroke="#1f4a8a" stroke-width="0.9"/>
<line x1="458.74" y1="156.63" x2="461.34" y2="156.63" stroke="#1f4a8a" stroke-width="0.9"/>
<line x1="470.38" y1="154.03" x2="470.38" y2="152.29" stroke="#1f4a8a" stroke-width="0.9"/>
<line x1="469.07" y1="152.29" x2="471.68" y2="152.29" stroke="#1f4a8a" stroke-width="0.9"/>
<line x1="470.38" y1="154.03" x2="470.38" y2="155.76" stroke="#1f4a8a" stroke-width="0.9"/>
<line x1="469.07" y1="155.76" x2="471.68" y2="155.76" stroke="#1f4a8a" stroke-width="0.9"/>
<path d="M357.49,179.20 L367.82,179.20 L378.16,179.63 L388.49,169.00 L398.83,167.91 L409.16,166.83 L418.70,152.72 L429.04,152.51 L439.37,151.86 L449.71,154.89 L460.04,154.89 L470.38,154.03" fill="none" stroke="#1f4a8a" stroke-width="2.0" stroke-linejoin="round"/>
<circle cx="357.49" cy="179.20" r="1.40" fill="#1f4a8a"/>
<circle cx="367.82" cy="179.20" r="1.40" fill="#1f4a8a"/>
<circle cx="378.16" cy="179.63" r="1.40" fill="#1f4a8a"/>
<circle cx="388.49" cy="169.00" r="1.40" fill="#1f4a8a"/>
<circle cx="398.83" cy="167.91" r="1.40" fill="#1f4a8a"/>
<circle cx="409.16" cy="166.83" r="1.40" fill="#1f4a8a"/>
<circle cx="418.70" cy="152.72" r="1.40" fill="#1f4a8a"/>
<circle cx="429.04" cy="152.51" r="1.40" fill="#1f4a8a"/>
<circle cx="439.37" cy="151.86" r="1.40" fill="#1f4a8a"/>
<circle cx="449.71" cy="154.89" r="1.40" fill="#1f4a8a"/>
<circle cx="460.04" cy="154.89" r="1.40" fill="#1f4a8a"/>
<circle cx="470.38" cy="154.03" r="1.40" fill="#1f4a8a"/>
<line x1="357.49" y1="178.33" x2="357.49" y2="175.73" stroke="#c4c4c6" stroke-width="0.9"/>
<line x1="356.19" y1="175.73" x2="358.79" y2="175.73" stroke="#c4c4c6" stroke-width="0.9"/>
<line x1="357.49" y1="178.33" x2="357.49" y2="180.93" stroke="#c4c4c6" stroke-width="0.9"/>
<line x1="356.19" y1="180.93" x2="358.79" y2="180.93" stroke="#c4c4c6" stroke-width="0.9"/>
<line x1="367.82" y1="178.33" x2="367.82" y2="175.73" stroke="#c4c4c6" stroke-width="0.9"/>
<line x1="366.52" y1="175.73" x2="369.12" y2="175.73" stroke="#c4c4c6" stroke-width="0.9"/>
<line x1="367.82" y1="178.33" x2="367.82" y2="180.93" stroke="#c4c4c6" stroke-width="0.9"/>
<line x1="366.52" y1="180.93" x2="369.12" y2="180.93" stroke="#c4c4c6" stroke-width="0.9"/>
<line x1="378.16" y1="178.76" x2="378.16" y2="176.16" stroke="#c4c4c6" stroke-width="0.9"/>
<line x1="376.86" y1="176.16" x2="379.46" y2="176.16" stroke="#c4c4c6" stroke-width="0.9"/>
<line x1="378.16" y1="178.76" x2="378.16" y2="181.37" stroke="#c4c4c6" stroke-width="0.9"/>
<line x1="376.86" y1="181.37" x2="379.46" y2="181.37" stroke="#c4c4c6" stroke-width="0.9"/>
<line x1="388.49" y1="167.48" x2="388.49" y2="164.88" stroke="#c4c4c6" stroke-width="0.9"/>
<line x1="387.19" y1="164.88" x2="389.79" y2="164.88" stroke="#c4c4c6" stroke-width="0.9"/>
<line x1="388.49" y1="167.48" x2="388.49" y2="170.08" stroke="#c4c4c6" stroke-width="0.9"/>
<line x1="387.19" y1="170.08" x2="389.79" y2="170.08" stroke="#c4c4c6" stroke-width="0.9"/>
<line x1="398.83" y1="166.39" x2="398.83" y2="163.79" stroke="#c4c4c6" stroke-width="0.9"/>
<line x1="397.53" y1="163.79" x2="400.13" y2="163.79" stroke="#c4c4c6" stroke-width="0.9"/>
<line x1="398.83" y1="166.39" x2="398.83" y2="169.00" stroke="#c4c4c6" stroke-width="0.9"/>
<line x1="397.53" y1="169.00" x2="400.13" y2="169.00" stroke="#c4c4c6" stroke-width="0.9"/>
<line x1="409.16" y1="165.31" x2="409.16" y2="162.71" stroke="#c4c4c6" stroke-width="0.9"/>
<line x1="407.86" y1="162.71" x2="410.46" y2="162.71" stroke="#c4c4c6" stroke-width="0.9"/>
<line x1="409.16" y1="165.31" x2="409.16" y2="167.91" stroke="#c4c4c6" stroke-width="0.9"/>
<line x1="407.86" y1="167.91" x2="410.46" y2="167.91" stroke="#c4c4c6" stroke-width="0.9"/>
<line x1="418.70" y1="148.38" x2="418.70" y2="145.78" stroke="#c4c4c6" stroke-width="0.9"/>
<line x1="417.40" y1="145.78" x2="420.00" y2="145.78" stroke="#c4c4c6" stroke-width="0.9"/>
<line x1="418.70" y1="148.38" x2="418.70" y2="150.99" stroke="#c4c4c6" stroke-width="0.9"/>
<line x1="417.40" y1="150.99" x2="420.00" y2="150.99" stroke="#c4c4c6" stroke-width="0.9"/>
<line x1="429.04" y1="149.25" x2="429.04" y2="146.65" stroke="#c4c4c6" stroke-width="0.9"/>
<line x1="427.74" y1="146.65" x2="430.34" y2="146.65" stroke="#c4c4c6" stroke-width="0.9"/>
<line x1="429.04" y1="149.25" x2="429.04" y2="151.86" stroke="#c4c4c6" stroke-width="0.9"/>
<line x1="427.74" y1="151.86" x2="430.34" y2="151.86" stroke="#c4c4c6" stroke-width="0.9"/>
<line x1="439.37" y1="148.38" x2="439.37" y2="142.31" stroke="#c4c4c6" stroke-width="0.9"/>
<line x1="438.07" y1="142.31" x2="440.67" y2="142.31" stroke="#c4c4c6" stroke-width="0.9"/>
<line x1="439.37" y1="148.38" x2="439.37" y2="154.46" stroke="#c4c4c6" stroke-width="0.9"/>
<line x1="438.07" y1="154.46" x2="440.67" y2="154.46" stroke="#c4c4c6" stroke-width="0.9"/>
<line x1="449.71" y1="153.81" x2="449.71" y2="150.55" stroke="#c4c4c6" stroke-width="0.9"/>
<line x1="448.41" y1="150.55" x2="451.01" y2="150.55" stroke="#c4c4c6" stroke-width="0.9"/>
<line x1="449.71" y1="153.81" x2="449.71" y2="157.06" stroke="#c4c4c6" stroke-width="0.9"/>
<line x1="448.41" y1="157.06" x2="451.01" y2="157.06" stroke="#c4c4c6" stroke-width="0.9"/>
<line x1="460.04" y1="154.03" x2="460.04" y2="151.42" stroke="#c4c4c6" stroke-width="0.9"/>
<line x1="458.74" y1="151.42" x2="461.34" y2="151.42" stroke="#c4c4c6" stroke-width="0.9"/>
<line x1="460.04" y1="154.03" x2="460.04" y2="156.63" stroke="#c4c4c6" stroke-width="0.9"/>
<line x1="458.74" y1="156.63" x2="461.34" y2="156.63" stroke="#c4c4c6" stroke-width="0.9"/>
<line x1="470.38" y1="153.38" x2="470.38" y2="150.12" stroke="#c4c4c6" stroke-width="0.9"/>
<line x1="469.07" y1="150.12" x2="471.68" y2="150.12" stroke="#c4c4c6" stroke-width="0.9"/>
<line x1="470.38" y1="153.38" x2="470.38" y2="156.63" stroke="#c4c4c6" stroke-width="0.9"/>
<line x1="469.07" y1="156.63" x2="471.68" y2="156.63" stroke="#c4c4c6" stroke-width="0.9"/>
<path d="M357.49,178.33 L367.82,178.33 L378.16,178.76 L388.49,167.48 L398.83,166.39 L409.16,165.31 L418.70,148.38 L429.04,149.25 L439.37,148.38 L449.71,153.81 L460.04,154.03 L470.38,153.38" fill="none" stroke="#c9c9cb" stroke-width="2.2" stroke-linejoin="round"/>
<circle cx="357.49" cy="178.33" r="1.70" fill="#d4d4d6" stroke="#b0b0b4" stroke-width="0.6"/>
<circle cx="367.82" cy="178.33" r="1.70" fill="#d4d4d6" stroke="#b0b0b4" stroke-width="0.6"/>
<circle cx="378.16" cy="178.76" r="1.70" fill="#d4d4d6" stroke="#b0b0b4" stroke-width="0.6"/>
<circle cx="388.49" cy="167.48" r="1.70" fill="#d4d4d6" stroke="#b0b0b4" stroke-width="0.6"/>
<circle cx="398.83" cy="166.39" r="1.70" fill="#d4d4d6" stroke="#b0b0b4" stroke-width="0.6"/>
<circle cx="409.16" cy="165.31" r="1.70" fill="#d4d4d6" stroke="#b0b0b4" stroke-width="0.6"/>
<circle cx="418.70" cy="148.38" r="1.70" fill="#d4d4d6" stroke="#b0b0b4" stroke-width="0.6"/>
<circle cx="429.04" cy="149.25" r="1.70" fill="#d4d4d6" stroke="#b0b0b4" stroke-width="0.6"/>
<circle cx="439.37" cy="148.38" r="1.70" fill="#d4d4d6" stroke="#b0b0b4" stroke-width="0.6"/>
<circle cx="449.71" cy="153.81" r="1.70" fill="#d4d4d6" stroke="#b0b0b4" stroke-width="0.6"/>
<circle cx="460.04" cy="154.03" r="1.70" fill="#d4d4d6" stroke="#b0b0b4" stroke-width="0.6"/>
<circle cx="470.38" cy="153.38" r="1.70" fill="#d4d4d6" stroke="#b0b0b4" stroke-width="0.6"/>
<line x1="355.10" y1="133.30" x2="355.10" y2="202.80" stroke="#231f20" stroke-width="1.3"/>
<line x1="354.50" y1="202.20" x2="485.00" y2="202.20" stroke="#231f20" stroke-width="1.3"/>
<line x1="351.90" y1="202.20" x2="355.10" y2="202.20" stroke="#231f20" stroke-width="1.1"/>
<text x="349.50" y="204.65" font-size="6.8" text-anchor="end" fill="#231f20" stroke="#231f20" stroke-width="0.2">0</text>
<line x1="351.90" y1="180.50" x2="355.10" y2="180.50" stroke="#231f20" stroke-width="1.1"/>
<text x="349.50" y="182.95" font-size="6.8" text-anchor="end" fill="#231f20" stroke="#231f20" stroke-width="0.2">10</text>
<line x1="351.90" y1="158.80" x2="355.10" y2="158.80" stroke="#231f20" stroke-width="1.1"/>
<text x="349.50" y="161.25" font-size="6.8" text-anchor="end" fill="#231f20" stroke="#231f20" stroke-width="0.2">20</text>
<line x1="351.90" y1="137.10" x2="355.10" y2="137.10" stroke="#231f20" stroke-width="1.1"/>
<text x="349.50" y="139.55" font-size="6.8" text-anchor="end" fill="#231f20" stroke="#231f20" stroke-width="0.2">30</text>
<line x1="355.10" y1="202.20" x2="355.10" y2="204.70" stroke="#231f20" stroke-width="1"/>
<line x1="386.90" y1="202.20" x2="386.90" y2="204.70" stroke="#231f20" stroke-width="1"/>
<line x1="418.70" y1="202.20" x2="418.70" y2="204.70" stroke="#231f20" stroke-width="1"/>
<line x1="450.50" y1="202.20" x2="450.50" y2="204.70" stroke="#231f20" stroke-width="1"/>
<line x1="482.30" y1="202.20" x2="482.30" y2="204.70" stroke="#231f20" stroke-width="1"/>
<text x="386.90" y="215.40" font-size="6.8" text-anchor="middle" fill="#231f20" stroke="#231f20" stroke-width="0.2">20</text>
<text x="418.70" y="215.40" font-size="6.8" text-anchor="middle" fill="#231f20" stroke="#231f20" stroke-width="0.2">40</text>
<text x="450.50" y="215.40" font-size="6.8" text-anchor="middle" fill="#231f20" stroke="#231f20" stroke-width="0.2">60</text>
<text x="482.30" y="215.40" font-size="6.8" text-anchor="middle" fill="#231f20" stroke="#231f20" stroke-width="0.2">80</text>
<text x="8.00" y="264.90" font-size="15.4" font-weight="bold" fill="#000">B</text>
<text x="106.50" y="265.20" font-size="9.4" fill="#231f20" stroke="#231f20" stroke-width="0.2" textLength="32.2" lengthAdjust="spacingAndGlyphs">MV4-11</text>
<line x1="65.96" y1="334.69" x2="65.96" y2="333.91" stroke="#b8163a" stroke-width="0.9"/>
<line x1="64.66" y1="333.91" x2="67.26" y2="333.91" stroke="#b8163a" stroke-width="0.9"/>
<line x1="65.96" y1="334.69" x2="65.96" y2="335.47" stroke="#b8163a" stroke-width="0.9"/>
<line x1="64.66" y1="335.47" x2="67.26" y2="335.47" stroke="#b8163a" stroke-width="0.9"/>
<line x1="75.32" y1="335.21" x2="75.32" y2="334.43" stroke="#b8163a" stroke-width="0.9"/>
<line x1="74.02" y1="334.43" x2="76.62" y2="334.43" stroke="#b8163a" stroke-width="0.9"/>
<line x1="75.32" y1="335.21" x2="75.32" y2="335.98" stroke="#b8163a" stroke-width="0.9"/>
<line x1="74.02" y1="335.98" x2="76.62" y2="335.98" stroke="#b8163a" stroke-width="0.9"/>
<line x1="84.68" y1="335.21" x2="84.68" y2="334.43" stroke="#b8163a" stroke-width="0.9"/>
<line x1="83.38" y1="334.43" x2="85.98" y2="334.43" stroke="#b8163a" stroke-width="0.9"/>
<line x1="84.68" y1="335.21" x2="84.68" y2="335.98" stroke="#b8163a" stroke-width="0.9"/>
<line x1="83.38" y1="335.98" x2="85.98" y2="335.98" stroke="#b8163a" stroke-width="0.9"/>
<line x1="94.04" y1="351.52" x2="94.04" y2="351.01" stroke="#b8163a" stroke-width="0.9"/>
<line x1="92.74" y1="351.01" x2="95.34" y2="351.01" stroke="#b8163a" stroke-width="0.9"/>
<line x1="94.04" y1="351.52" x2="94.04" y2="352.04" stroke="#b8163a" stroke-width="0.9"/>
<line x1="92.74" y1="352.04" x2="95.34" y2="352.04" stroke="#b8163a" stroke-width="0.9"/>
<line x1="103.40" y1="351.52" x2="103.40" y2="351.01" stroke="#b8163a" stroke-width="0.9"/>
<line x1="102.10" y1="351.01" x2="104.70" y2="351.01" stroke="#b8163a" stroke-width="0.9"/>
<line x1="103.40" y1="351.52" x2="103.40" y2="352.04" stroke="#b8163a" stroke-width="0.9"/>
<line x1="102.10" y1="352.04" x2="104.70" y2="352.04" stroke="#b8163a" stroke-width="0.9"/>
<line x1="112.76" y1="351.52" x2="112.76" y2="351.01" stroke="#b8163a" stroke-width="0.9"/>
<line x1="111.46" y1="351.01" x2="114.06" y2="351.01" stroke="#b8163a" stroke-width="0.9"/>
<line x1="112.76" y1="351.52" x2="112.76" y2="352.04" stroke="#b8163a" stroke-width="0.9"/>
<line x1="111.46" y1="352.04" x2="114.06" y2="352.04" stroke="#b8163a" stroke-width="0.9"/>
<line x1="121.40" y1="316.56" x2="121.40" y2="313.45" stroke="#b8163a" stroke-width="0.9"/>
<line x1="120.10" y1="313.45" x2="122.70" y2="313.45" stroke="#b8163a" stroke-width="0.9"/>
<line x1="121.40" y1="316.56" x2="121.40" y2="319.67" stroke="#b8163a" stroke-width="0.9"/>
<line x1="120.10" y1="319.67" x2="122.70" y2="319.67" stroke="#b8163a" stroke-width="0.9"/>
<line x1="130.76" y1="323.03" x2="130.76" y2="319.93" stroke="#b8163a" stroke-width="0.9"/>
<line x1="129.46" y1="319.93" x2="132.06" y2="319.93" stroke="#b8163a" stroke-width="0.9"/>
<line x1="130.76" y1="323.03" x2="130.76" y2="326.14" stroke="#b8163a" stroke-width="0.9"/>
<line x1="129.46" y1="326.14" x2="132.06" y2="326.14" stroke="#b8163a" stroke-width="0.9"/>
<line x1="140.12" y1="326.92" x2="140.12" y2="323.81" stroke="#b8163a" stroke-width="0.9"/>
<line x1="138.82" y1="323.81" x2="141.42" y2="323.81" stroke="#b8163a" stroke-width="0.9"/>
<line x1="140.12" y1="326.92" x2="140.12" y2="330.03" stroke="#b8163a" stroke-width="0.9"/>
<line x1="138.82" y1="330.03" x2="141.42" y2="330.03" stroke="#b8163a" stroke-width="0.9"/>
<line x1="149.48" y1="354.63" x2="149.48" y2="354.12" stroke="#b8163a" stroke-width="0.9"/>
<line x1="148.18" y1="354.12" x2="150.78" y2="354.12" stroke="#b8163a" stroke-width="0.9"/>
<line x1="149.48" y1="354.63" x2="149.48" y2="355.15" stroke="#b8163a" stroke-width="0.9"/>
<line x1="148.18" y1="355.15" x2="150.78" y2="355.15" stroke="#b8163a" stroke-width="0.9"/>
<line x1="158.84" y1="354.12" x2="158.84" y2="353.60" stroke="#b8163a" stroke-width="0.9"/>
<line x1="157.54" y1="353.60" x2="160.14" y2="353.60" stroke="#b8163a" stroke-width="0.9"/>
<line x1="158.84" y1="354.12" x2="158.84" y2="354.63" stroke="#b8163a" stroke-width="0.9"/>
<line x1="157.54" y1="354.63" x2="160.14" y2="354.63" stroke="#b8163a" stroke-width="0.9"/>
<line x1="168.20" y1="354.12" x2="168.20" y2="353.60" stroke="#b8163a" stroke-width="0.9"/>
<line x1="166.90" y1="353.60" x2="169.50" y2="353.60" stroke="#b8163a" stroke-width="0.9"/>
<line x1="168.20" y1="354.12" x2="168.20" y2="354.63" stroke="#b8163a" stroke-width="0.9"/>
<line x1="166.90" y1="354.63" x2="169.50" y2="354.63" stroke="#b8163a" stroke-width="0.9"/>
<path d="M65.96,334.69 L75.32,335.21 L84.68,335.21 L94.04,351.52 L103.40,351.52 L112.76,351.52 L121.40,316.56 L130.76,323.03 L140.12,326.92 L149.48,354.63 L158.84,354.12 L168.20,354.12" fill="none" stroke="#b8163a" stroke-width="1.4" stroke-linejoin="round"/>
<path d="M65.96,336.61 L67.72,333.41 L64.20,333.41 Z" fill="#b8163a" stroke="none" stroke-width="1"/>
<path d="M75.32,337.13 L77.08,333.93 L73.56,333.93 Z" fill="#b8163a" stroke="none" stroke-width="1"/>
<path d="M84.68,337.13 L86.44,333.93 L82.92,333.93 Z" fill="#b8163a" stroke="none" stroke-width="1"/>
<path d="M94.04,353.44 L95.80,350.25 L92.28,350.25 Z" fill="#b8163a" stroke="none" stroke-width="1"/>
<path d="M103.40,353.44 L105.16,350.25 L101.64,350.25 Z" fill="#b8163a" stroke="none" stroke-width="1"/>
<path d="M112.76,353.44 L114.52,350.25 L111.00,350.25 Z" fill="#b8163a" stroke="none" stroke-width="1"/>
<path d="M121.40,318.48 L123.16,315.28 L119.64,315.28 Z" fill="#b8163a" stroke="none" stroke-width="1"/>
<path d="M130.76,324.95 L132.52,321.75 L129.00,321.75 Z" fill="#b8163a" stroke="none" stroke-width="1"/>
<path d="M140.12,328.84 L141.88,325.64 L138.36,325.64 Z" fill="#b8163a" stroke="none" stroke-width="1"/>
<path d="M149.48,356.55 L151.24,353.35 L147.72,353.35 Z" fill="#b8163a" stroke="none" stroke-width="1"/>
<path d="M158.84,356.04 L160.60,352.84 L157.08,352.84 Z" fill="#b8163a" stroke="none" stroke-width="1"/>
<path d="M168.20,356.04 L169.96,352.84 L166.44,352.84 Z" fill="#b8163a" stroke="none" stroke-width="1"/>
<line x1="65.96" y1="334.17" x2="65.96" y2="333.40" stroke="#1f4a8a" stroke-width="0.9"/>
<line x1="64.66" y1="333.40" x2="67.26" y2="333.40" stroke="#1f4a8a" stroke-width="0.9"/>
<line x1="65.96" y1="334.17" x2="65.96" y2="334.95" stroke="#1f4a8a" stroke-width="0.9"/>
<line x1="64.66" y1="334.95" x2="67.26" y2="334.95" stroke="#1f4a8a" stroke-width="0.9"/>
<line x1="75.32" y1="335.21" x2="75.32" y2="334.43" stroke="#1f4a8a" stroke-width="0.9"/>
<line x1="74.02" y1="334.43" x2="76.62" y2="334.43" stroke="#1f4a8a" stroke-width="0.9"/>
<line x1="75.32" y1="335.21" x2="75.32" y2="335.98" stroke="#1f4a8a" stroke-width="0.9"/>
<line x1="74.02" y1="335.98" x2="76.62" y2="335.98" stroke="#1f4a8a" stroke-width="0.9"/>
<line x1="84.68" y1="335.47" x2="84.68" y2="334.69" stroke="#1f4a8a" stroke-width="0.9"/>
<line x1="83.38" y1="334.69" x2="85.98" y2="334.69" stroke="#1f4a8a" stroke-width="0.9"/>
<line x1="84.68" y1="335.47" x2="84.68" y2="336.24" stroke="#1f4a8a" stroke-width="0.9"/>
<line x1="83.38" y1="336.24" x2="85.98" y2="336.24" stroke="#1f4a8a" stroke-width="0.9"/>
<line x1="94.04" y1="351.78" x2="94.04" y2="351.27" stroke="#1f4a8a" stroke-width="0.9"/>
<line x1="92.74" y1="351.27" x2="95.34" y2="351.27" stroke="#1f4a8a" stroke-width="0.9"/>
<line x1="94.04" y1="351.78" x2="94.04" y2="352.30" stroke="#1f4a8a" stroke-width="0.9"/>
<line x1="92.74" y1="352.30" x2="95.34" y2="352.30" stroke="#1f4a8a" stroke-width="0.9"/>
<line x1="103.40" y1="351.78" x2="103.40" y2="351.27" stroke="#1f4a8a" stroke-width="0.9"/>
<line x1="102.10" y1="351.27" x2="104.70" y2="351.27" stroke="#1f4a8a" stroke-width="0.9"/>
<line x1="103.40" y1="351.78" x2="103.40" y2="352.30" stroke="#1f4a8a" stroke-width="0.9"/>
<line x1="102.10" y1="352.30" x2="104.70" y2="352.30" stroke="#1f4a8a" stroke-width="0.9"/>
<line x1="112.76" y1="351.52" x2="112.76" y2="351.01" stroke="#1f4a8a" stroke-width="0.9"/>
<line x1="111.46" y1="351.01" x2="114.06" y2="351.01" stroke="#1f4a8a" stroke-width="0.9"/>
<line x1="112.76" y1="351.52" x2="112.76" y2="352.04" stroke="#1f4a8a" stroke-width="0.9"/>
<line x1="111.46" y1="352.04" x2="114.06" y2="352.04" stroke="#1f4a8a" stroke-width="0.9"/>
<line x1="121.40" y1="307.50" x2="121.40" y2="304.91" stroke="#1f4a8a" stroke-width="0.9"/>
<line x1="120.10" y1="304.91" x2="122.70" y2="304.91" stroke="#1f4a8a" stroke-width="0.9"/>
<line x1="121.40" y1="307.50" x2="121.40" y2="310.08" stroke="#1f4a8a" stroke-width="0.9"/>
<line x1="120.10" y1="310.08" x2="122.70" y2="310.08" stroke="#1f4a8a" stroke-width="0.9"/>
<line x1="130.76" y1="317.86" x2="130.76" y2="315.27" stroke="#1f4a8a" stroke-width="0.9"/>
<line x1="129.46" y1="315.27" x2="132.06" y2="315.27" stroke="#1f4a8a" stroke-width="0.9"/>
<line x1="130.76" y1="317.86" x2="130.76" y2="320.44" stroke="#1f4a8a" stroke-width="0.9"/>
<line x1="129.46" y1="320.44" x2="132.06" y2="320.44" stroke="#1f4a8a" stroke-width="0.9"/>
<line x1="140.12" y1="319.15" x2="140.12" y2="316.56" stroke="#1f4a8a" stroke-width="0.9"/>
<line x1="138.82" y1="316.56" x2="141.42" y2="316.56" stroke="#1f4a8a" stroke-width="0.9"/>
<line x1="140.12" y1="319.15" x2="140.12" y2="321.74" stroke="#1f4a8a" stroke-width="0.9"/>
<line x1="138.82" y1="321.74" x2="141.42" y2="321.74" stroke="#1f4a8a" stroke-width="0.9"/>
<line x1="149.48" y1="354.63" x2="149.48" y2="354.12" stroke="#1f4a8a" stroke-width="0.9"/>
<line x1="148.18" y1="354.12" x2="150.78" y2="354.12" stroke="#1f4a8a" stroke-width="0.9"/>
<line x1="149.48" y1="354.63" x2="149.48" y2="355.15" stroke="#1f4a8a" stroke-width="0.9"/>
<line x1="148.18" y1="355.15" x2="150.78" y2="355.15" stroke="#1f4a8a" stroke-width="0.9"/>
<line x1="158.84" y1="354.12" x2="158.84" y2="353.60" stroke="#1f4a8a" stroke-width="0.9"/>
<line x1="157.54" y1="353.60" x2="160.14" y2="353.60" stroke="#1f4a8a" stroke-width="0.9"/>
<line x1="158.84" y1="354.12" x2="158.84" y2="354.63" stroke="#1f4a8a" stroke-width="0.9"/>
<line x1="157.54" y1="354.63" x2="160.14" y2="354.63" stroke="#1f4a8a" stroke-width="0.9"/>
<line x1="168.20" y1="354.12" x2="168.20" y2="353.60" stroke="#1f4a8a" stroke-width="0.9"/>
<line x1="166.90" y1="353.60" x2="169.50" y2="353.60" stroke="#1f4a8a" stroke-width="0.9"/>
<line x1="168.20" y1="354.12" x2="168.20" y2="354.63" stroke="#1f4a8a" stroke-width="0.9"/>
<line x1="166.90" y1="354.63" x2="169.50" y2="354.63" stroke="#1f4a8a" stroke-width="0.9"/>
<path d="M65.96,334.17 L75.32,335.21 L84.68,335.47 L94.04,351.78 L103.40,351.78 L112.76,351.52 L121.40,307.50 L130.76,317.86 L140.12,319.15 L149.48,354.63 L158.84,354.12 L168.20,354.12" fill="none" stroke="#1f4a8a" stroke-width="1.4" stroke-linejoin="round"/>
<rect x="64.46" y="332.67" width="3.00" height="3.00" fill="#1f4a8a"/>
<rect x="73.82" y="333.71" width="3.00" height="3.00" fill="#1f4a8a"/>
<rect x="83.18" y="333.97" width="3.00" height="3.00" fill="#1f4a8a"/>
<rect x="92.54" y="350.28" width="3.00" height="3.00" fill="#1f4a8a"/>
<rect x="101.90" y="350.28" width="3.00" height="3.00" fill="#1f4a8a"/>
<rect x="111.26" y="350.02" width="3.00" height="3.00" fill="#1f4a8a"/>
<rect x="119.90" y="306.00" width="3.00" height="3.00" fill="#1f4a8a"/>
<rect x="129.26" y="316.36" width="3.00" height="3.00" fill="#1f4a8a"/>
<rect x="138.62" y="317.65" width="3.00" height="3.00" fill="#1f4a8a"/>
<rect x="147.98" y="353.13" width="3.00" height="3.00" fill="#1f4a8a"/>
<rect x="157.34" y="352.62" width="3.00" height="3.00" fill="#1f4a8a"/>
<rect x="166.70" y="352.62" width="3.00" height="3.00" fill="#1f4a8a"/>
<line x1="65.96" y1="333.91" x2="65.96" y2="333.14" stroke="#5fa83a" stroke-width="0.9"/>
<line x1="64.66" y1="333.14" x2="67.26" y2="333.14" stroke="#5fa83a" stroke-width="0.9"/>
<line x1="65.96" y1="333.91" x2="65.96" y2="334.69" stroke="#5fa83a" stroke-width="0.9"/>
<line x1="64.66" y1="334.69" x2="67.26" y2="334.69" stroke="#5fa83a" stroke-width="0.9"/>
<line x1="75.32" y1="334.69" x2="75.32" y2="333.91" stroke="#5fa83a" stroke-width="0.9"/>
<line x1="74.02" y1="333.91" x2="76.62" y2="333.91" stroke="#5fa83a" stroke-width="0.9"/>
<line x1="75.32" y1="334.69" x2="75.32" y2="335.47" stroke="#5fa83a" stroke-width="0.9"/>
<line x1="74.02" y1="335.47" x2="76.62" y2="335.47" stroke="#5fa83a" stroke-width="0.9"/>
<line x1="84.68" y1="334.69" x2="84.68" y2="333.91" stroke="#5fa83a" stroke-width="0.9"/>
<line x1="83.38" y1="333.91" x2="85.98" y2="333.91" stroke="#5fa83a" stroke-width="0.9"/>
<line x1="84.68" y1="334.69" x2="84.68" y2="335.47" stroke="#5fa83a" stroke-width="0.9"/>
<line x1="83.38" y1="335.47" x2="85.98" y2="335.47" stroke="#5fa83a" stroke-width="0.9"/>
<line x1="94.04" y1="349.71" x2="94.04" y2="349.19" stroke="#5fa83a" stroke-width="0.9"/>
<line x1="92.74" y1="349.19" x2="95.34" y2="349.19" stroke="#5fa83a" stroke-width="0.9"/>
<line x1="94.04" y1="349.71" x2="94.04" y2="350.23" stroke="#5fa83a" stroke-width="0.9"/>
<line x1="92.74" y1="350.23" x2="95.34" y2="350.23" stroke="#5fa83a" stroke-width="0.9"/>
<line x1="103.40" y1="349.97" x2="103.40" y2="349.45" stroke="#5fa83a" stroke-width="0.9"/>
<line x1="102.10" y1="349.45" x2="104.70" y2="349.45" stroke="#5fa83a" stroke-width="0.9"/>
<line x1="103.40" y1="349.97" x2="103.40" y2="350.49" stroke="#5fa83a" stroke-width="0.9"/>
<line x1="102.10" y1="350.49" x2="104.70" y2="350.49" stroke="#5fa83a" stroke-width="0.9"/>
<line x1="112.76" y1="350.23" x2="112.76" y2="349.71" stroke="#5fa83a" stroke-width="0.9"/>
<line x1="111.46" y1="349.71" x2="114.06" y2="349.71" stroke="#5fa83a" stroke-width="0.9"/>
<line x1="112.76" y1="350.23" x2="112.76" y2="350.75" stroke="#5fa83a" stroke-width="0.9"/>
<line x1="111.46" y1="350.75" x2="114.06" y2="350.75" stroke="#5fa83a" stroke-width="0.9"/>
<line x1="121.40" y1="295.84" x2="121.40" y2="286.00" stroke="#5fa83a" stroke-width="0.9"/>
<line x1="120.10" y1="286.00" x2="122.70" y2="286.00" stroke="#5fa83a" stroke-width="0.9"/>
<line x1="121.40" y1="295.84" x2="121.40" y2="305.68" stroke="#5fa83a" stroke-width="0.9"/>
<line x1="120.10" y1="305.68" x2="122.70" y2="305.68" stroke="#5fa83a" stroke-width="0.9"/>
<line x1="130.76" y1="307.50" x2="130.76" y2="301.02" stroke="#5fa83a" stroke-width="0.9"/>
<line x1="129.46" y1="301.02" x2="132.06" y2="301.02" stroke="#5fa83a" stroke-width="0.9"/>
<line x1="130.76" y1="307.50" x2="130.76" y2="313.97" stroke="#5fa83a" stroke-width="0.9"/>
<line x1="129.46" y1="313.97" x2="132.06" y2="313.97" stroke="#5fa83a" stroke-width="0.9"/>
<line x1="140.12" y1="313.45" x2="140.12" y2="310.34" stroke="#5fa83a" stroke-width="0.9"/>
<line x1="138.82" y1="310.34" x2="141.42" y2="310.34" stroke="#5fa83a" stroke-width="0.9"/>
<line x1="140.12" y1="313.45" x2="140.12" y2="316.56" stroke="#5fa83a" stroke-width="0.9"/>
<line x1="138.82" y1="316.56" x2="141.42" y2="316.56" stroke="#5fa83a" stroke-width="0.9"/>
<line x1="149.48" y1="353.60" x2="149.48" y2="353.08" stroke="#5fa83a" stroke-width="0.9"/>
<line x1="148.18" y1="353.08" x2="150.78" y2="353.08" stroke="#5fa83a" stroke-width="0.9"/>
<line x1="149.48" y1="353.60" x2="149.48" y2="354.11" stroke="#5fa83a" stroke-width="0.9"/>
<line x1="148.18" y1="354.11" x2="150.78" y2="354.11" stroke="#5fa83a" stroke-width="0.9"/>
<line x1="158.84" y1="353.08" x2="158.84" y2="352.56" stroke="#5fa83a" stroke-width="0.9"/>
<line x1="157.54" y1="352.56" x2="160.14" y2="352.56" stroke="#5fa83a" stroke-width="0.9"/>
<line x1="158.84" y1="353.08" x2="158.84" y2="353.60" stroke="#5fa83a" stroke-width="0.9"/>
<line x1="157.54" y1="353.60" x2="160.14" y2="353.60" stroke="#5fa83a" stroke-width="0.9"/>
<line x1="168.20" y1="353.08" x2="168.20" y2="352.56" stroke="#5fa83a" stroke-width="0.9"/>
<line x1="166.90" y1="352.56" x2="169.50" y2="352.56" stroke="#5fa83a" stroke-width="0.9"/>
<line x1="168.20" y1="353.08" x2="168.20" y2="353.60" stroke="#5fa83a" stroke-width="0.9"/>
<line x1="166.90" y1="353.60" x2="169.50" y2="353.60" stroke="#5fa83a" stroke-width="0.9"/>
<path d="M65.96,333.91 L75.32,334.69 L84.68,334.69 L94.04,349.71 L103.40,349.97 L112.76,350.23 L121.40,295.84 L130.76,307.50 L140.12,313.45 L149.48,353.60 L158.84,353.08 L168.20,353.08" fill="none" stroke="#5fa83a" stroke-width="1.4" stroke-linejoin="round"/>
<path d="M65.96,331.99 L67.72,335.19 L64.20,335.19 Z" fill="#5fa83a" stroke="none" stroke-width="1"/>
<path d="M75.32,332.77 L77.08,335.97 L73.56,335.97 Z" fill="#5fa83a" stroke="none" stroke-width="1"/>
<path d="M84.68,332.77 L86.44,335.97 L82.92,335.97 Z" fill="#5fa83a" stroke="none" stroke-width="1"/>
<path d="M94.04,347.79 L95.80,350.99 L92.28,350.99 Z" fill="#5fa83a" stroke="none" stroke-width="1"/>
<path d="M103.40,348.05 L105.16,351.25 L101.64,351.25 Z" fill="#5fa83a" stroke="none" stroke-width="1"/>
<path d="M112.76,348.31 L114.52,351.51 L111.00,351.51 Z" fill="#5fa83a" stroke="none" stroke-width="1"/>
<path d="M121.40,293.92 L123.16,297.12 L119.64,297.12 Z" fill="#5fa83a" stroke="none" stroke-width="1"/>
<path d="M130.76,305.57 L132.52,308.77 L129.00,308.77 Z" fill="#5fa83a" stroke="none" stroke-width="1"/>
<path d="M140.12,311.53 L141.88,314.73 L138.36,314.73 Z" fill="#5fa83a" stroke="none" stroke-width="1"/>
<path d="M149.48,351.68 L151.24,354.88 L147.72,354.88 Z" fill="#5fa83a" stroke="none" stroke-width="1"/>
<path d="M158.84,351.16 L160.60,354.36 L157.08,354.36 Z" fill="#5fa83a" stroke="none" stroke-width="1"/>
<path d="M168.20,351.16 L169.96,354.36 L166.44,354.36 Z" fill="#5fa83a" stroke="none" stroke-width="1"/>
<line x1="65.96" y1="335.21" x2="65.96" y2="333.14" stroke="#c4c4c6" stroke-width="0.9"/>
<line x1="64.66" y1="333.14" x2="67.26" y2="333.14" stroke="#c4c4c6" stroke-width="0.9"/>
<line x1="65.96" y1="335.21" x2="65.96" y2="337.28" stroke="#c4c4c6" stroke-width="0.9"/>
<line x1="64.66" y1="337.28" x2="67.26" y2="337.28" stroke="#c4c4c6" stroke-width="0.9"/>
<line x1="75.32" y1="335.99" x2="75.32" y2="333.91" stroke="#c4c4c6" stroke-width="0.9"/>
<line x1="74.02" y1="333.91" x2="76.62" y2="333.91" stroke="#c4c4c6" stroke-width="0.9"/>
<line x1="75.32" y1="335.99" x2="75.32" y2="338.06" stroke="#c4c4c6" stroke-width="0.9"/>
<line x1="74.02" y1="338.06" x2="76.62" y2="338.06" stroke="#c4c4c6" stroke-width="0.9"/>
<line x1="84.68" y1="336.50" x2="84.68" y2="334.43" stroke="#c4c4c6" stroke-width="0.9"/>
<line x1="83.38" y1="334.43" x2="85.98" y2="334.43" stroke="#c4c4c6" stroke-width="0.9"/>
<line x1="84.68" y1="336.50" x2="84.68" y2="338.57" stroke="#c4c4c6" stroke-width="0.9"/>
<line x1="83.38" y1="338.57" x2="85.98" y2="338.57" stroke="#c4c4c6" stroke-width="0.9"/>
<line x1="94.04" y1="351.52" x2="94.04" y2="350.75" stroke="#c4c4c6" stroke-width="0.9"/>
<line x1="92.74" y1="350.75" x2="95.34" y2="350.75" stroke="#c4c4c6" stroke-width="0.9"/>
<line x1="94.04" y1="351.52" x2="94.04" y2="352.30" stroke="#c4c4c6" stroke-width="0.9"/>
<line x1="92.74" y1="352.30" x2="95.34" y2="352.30" stroke="#c4c4c6" stroke-width="0.9"/>
<line x1="103.40" y1="351.52" x2="103.40" y2="350.75" stroke="#c4c4c6" stroke-width="0.9"/>
<line x1="102.10" y1="350.75" x2="104.70" y2="350.75" stroke="#c4c4c6" stroke-width="0.9"/>
<line x1="103.40" y1="351.52" x2="103.40" y2="352.30" stroke="#c4c4c6" stroke-width="0.9"/>
<line x1="102.10" y1="352.30" x2="104.70" y2="352.30" stroke="#c4c4c6" stroke-width="0.9"/>
<line x1="112.76" y1="351.52" x2="112.76" y2="350.75" stroke="#c4c4c6" stroke-width="0.9"/>
<line x1="111.46" y1="350.75" x2="114.06" y2="350.75" stroke="#c4c4c6" stroke-width="0.9"/>
<line x1="112.76" y1="351.52" x2="112.76" y2="352.30" stroke="#c4c4c6" stroke-width="0.9"/>
<line x1="111.46" y1="352.30" x2="114.06" y2="352.30" stroke="#c4c4c6" stroke-width="0.9"/>
<line x1="121.40" y1="302.31" x2="121.40" y2="298.43" stroke="#c4c4c6" stroke-width="0.9"/>
<line x1="120.10" y1="298.43" x2="122.70" y2="298.43" stroke="#c4c4c6" stroke-width="0.9"/>
<line x1="121.40" y1="302.31" x2="121.40" y2="306.20" stroke="#c4c4c6" stroke-width="0.9"/>
<line x1="120.10" y1="306.20" x2="122.70" y2="306.20" stroke="#c4c4c6" stroke-width="0.9"/>
<line x1="130.76" y1="311.38" x2="130.76" y2="307.50" stroke="#c4c4c6" stroke-width="0.9"/>
<line x1="129.46" y1="307.50" x2="132.06" y2="307.50" stroke="#c4c4c6" stroke-width="0.9"/>
<line x1="130.76" y1="311.38" x2="130.76" y2="315.26" stroke="#c4c4c6" stroke-width="0.9"/>
<line x1="129.46" y1="315.26" x2="132.06" y2="315.26" stroke="#c4c4c6" stroke-width="0.9"/>
<line x1="140.12" y1="316.56" x2="140.12" y2="313.97" stroke="#c4c4c6" stroke-width="0.9"/>
<line x1="138.82" y1="313.97" x2="141.42" y2="313.97" stroke="#c4c4c6" stroke-width="0.9"/>
<line x1="140.12" y1="316.56" x2="140.12" y2="319.15" stroke="#c4c4c6" stroke-width="0.9"/>
<line x1="138.82" y1="319.15" x2="141.42" y2="319.15" stroke="#c4c4c6" stroke-width="0.9"/>
<line x1="149.48" y1="354.89" x2="149.48" y2="354.12" stroke="#c4c4c6" stroke-width="0.9"/>
<line x1="148.18" y1="354.12" x2="150.78" y2="354.12" stroke="#c4c4c6" stroke-width="0.9"/>
<line x1="149.48" y1="354.89" x2="149.48" y2="355.67" stroke="#c4c4c6" stroke-width="0.9"/>
<line x1="148.18" y1="355.67" x2="150.78" y2="355.67" stroke="#c4c4c6" stroke-width="0.9"/>
<line x1="158.84" y1="354.63" x2="158.84" y2="353.86" stroke="#c4c4c6" stroke-width="0.9"/>
<line x1="157.54" y1="353.86" x2="160.14" y2="353.86" stroke="#c4c4c6" stroke-width="0.9"/>
<line x1="158.84" y1="354.63" x2="158.84" y2="355.41" stroke="#c4c4c6" stroke-width="0.9"/>
<line x1="157.54" y1="355.41" x2="160.14" y2="355.41" stroke="#c4c4c6" stroke-width="0.9"/>
<line x1="168.20" y1="354.63" x2="168.20" y2="353.86" stroke="#c4c4c6" stroke-width="0.9"/>
<line x1="166.90" y1="353.86" x2="169.50" y2="353.86" stroke="#c4c4c6" stroke-width="0.9"/>
<line x1="168.20" y1="354.63" x2="168.20" y2="355.41" stroke="#c4c4c6" stroke-width="0.9"/>
<line x1="166.90" y1="355.41" x2="169.50" y2="355.41" stroke="#c4c4c6" stroke-width="0.9"/>
<path d="M65.96,335.21 L75.32,335.99 L84.68,336.50 L94.04,351.52 L103.40,351.52 L112.76,351.52 L121.40,302.31 L130.76,311.38 L140.12,316.56 L149.48,354.89 L158.84,354.63 L168.20,354.63" fill="none" stroke="#c9c9cb" stroke-width="2.2" stroke-linejoin="round"/>
<circle cx="65.96" cy="335.21" r="1.70" fill="#d4d4d6" stroke="#b0b0b4" stroke-width="0.6"/>
<circle cx="75.32" cy="335.99" r="1.70" fill="#d4d4d6" stroke="#b0b0b4" stroke-width="0.6"/>
<circle cx="84.68" cy="336.50" r="1.70" fill="#d4d4d6" stroke="#b0b0b4" stroke-width="0.6"/>
<circle cx="94.04" cy="351.52" r="1.70" fill="#d4d4d6" stroke="#b0b0b4" stroke-width="0.6"/>
<circle cx="103.40" cy="351.52" r="1.70" fill="#d4d4d6" stroke="#b0b0b4" stroke-width="0.6"/>
<circle cx="112.76" cy="351.52" r="1.70" fill="#d4d4d6" stroke="#b0b0b4" stroke-width="0.6"/>
<circle cx="121.40" cy="302.31" r="1.70" fill="#d4d4d6" stroke="#b0b0b4" stroke-width="0.6"/>
<circle cx="130.76" cy="311.38" r="1.70" fill="#d4d4d6" stroke="#b0b0b4" stroke-width="0.6"/>
<circle cx="140.12" cy="316.56" r="1.70" fill="#d4d4d6" stroke="#b0b0b4" stroke-width="0.6"/>
<circle cx="149.48" cy="354.89" r="1.70" fill="#d4d4d6" stroke="#b0b0b4" stroke-width="0.6"/>
<circle cx="158.84" cy="354.63" r="1.70" fill="#d4d4d6" stroke="#b0b0b4" stroke-width="0.6"/>
<circle cx="168.20" cy="354.63" r="1.70" fill="#d4d4d6" stroke="#b0b0b4" stroke-width="0.6"/>
<line x1="63.80" y1="277.70" x2="63.80" y2="358.60" stroke="#231f20" stroke-width="1.3"/>
<line x1="63.20" y1="358.00" x2="181.50" y2="358.00" stroke="#231f20" stroke-width="1.3"/>
<line x1="60.60" y1="358.00" x2="63.80" y2="358.00" stroke="#231f20" stroke-width="1.1"/>
<text x="57.00" y="360.45" font-size="6.8" text-anchor="end" fill="#231f20" stroke="#231f20" stroke-width="0.2">0</text>
<line x1="60.60" y1="332.10" x2="63.80" y2="332.10" stroke="#231f20" stroke-width="1.1"/>
<text x="57.00" y="334.55" font-size="6.8" text-anchor="end" fill="#231f20" stroke="#231f20" stroke-width="0.2">100</text>
<line x1="60.60" y1="306.20" x2="63.80" y2="306.20" stroke="#231f20" stroke-width="1.1"/>
<text x="57.00" y="308.65" font-size="6.8" text-anchor="end" fill="#231f20" stroke="#231f20" stroke-width="0.2">200</text>
<line x1="60.60" y1="280.30" x2="63.80" y2="280.30" stroke="#231f20" stroke-width="1.1"/>
<text x="57.00" y="282.75" font-size="6.8" text-anchor="end" fill="#231f20" stroke="#231f20" stroke-width="0.2">300</text>
<line x1="63.80" y1="358.00" x2="63.80" y2="360.50" stroke="#231f20" stroke-width="1"/>
<line x1="92.60" y1="358.00" x2="92.60" y2="360.50" stroke="#231f20" stroke-width="1"/>
<line x1="121.40" y1="358.00" x2="121.40" y2="360.50" stroke="#231f20" stroke-width="1"/>
<line x1="150.20" y1="358.00" x2="150.20" y2="360.50" stroke="#231f20" stroke-width="1"/>
<line x1="179.00" y1="358.00" x2="179.00" y2="360.50" stroke="#231f20" stroke-width="1"/>
<text x="92.60" y="370.50" font-size="6.8" text-anchor="middle" fill="#231f20" stroke="#231f20" stroke-width="0.2">20</text>
<text x="121.40" y="370.50" font-size="6.8" text-anchor="middle" fill="#231f20" stroke="#231f20" stroke-width="0.2">40</text>
<text x="150.20" y="370.50" font-size="6.8" text-anchor="middle" fill="#231f20" stroke="#231f20" stroke-width="0.2">60</text>
<text x="179.00" y="370.50" font-size="6.8" text-anchor="middle" fill="#231f20" stroke="#231f20" stroke-width="0.2">80</text>
<text x="64.40" y="310.70" font-size="6.1" fill="#231f20" stroke="#231f20" stroke-width="0.2" textLength="36" lengthAdjust="spacingAndGlyphs">Oligomycin A</text>
<line x1="87.20" y1="315.00" x2="87.20" y2="327.50" stroke="#000" stroke-width="1.1"/>
<path d="M85.00,327.00 L89.40,327.00 L87.20,331.50 Z" fill="#000" stroke="none" stroke-width="1"/>
<text x="99.80" y="297.20" font-size="6.1" fill="#231f20" stroke="#231f20" stroke-width="0.2" textLength="14.8" lengthAdjust="spacingAndGlyphs">FCCP</text>
<line x1="112.70" y1="303.70" x2="112.70" y2="315.00" stroke="#000" stroke-width="1.1"/>
<path d="M110.50,314.50 L114.90,314.50 L112.70,319.00 Z" fill="#000" stroke="none" stroke-width="1"/>
<text x="107.90" y="282.80" font-size="6.1" fill="#231f20" stroke="#231f20" stroke-width="0.2" textLength="72" lengthAdjust="spacingAndGlyphs">Rotenone and Antimycin A</text>
<line x1="144.40" y1="295.40" x2="144.40" y2="307.30" stroke="#000" stroke-width="1.1"/>
<path d="M142.20,306.80 L146.60,306.80 L144.40,311.30 Z" fill="#000" stroke="none" stroke-width="1"/>
<line x1="65.11" y1="458.83" x2="65.11" y2="457.89" stroke="#b8163a" stroke-width="0.9"/>
<line x1="63.81" y1="457.89" x2="66.41" y2="457.89" stroke="#b8163a" stroke-width="0.9"/>
<line x1="65.11" y1="458.83" x2="65.11" y2="459.77" stroke="#b8163a" stroke-width="0.9"/>
<line x1="63.81" y1="459.77" x2="66.41" y2="459.77" stroke="#b8163a" stroke-width="0.9"/>
<line x1="74.28" y1="459.30" x2="74.28" y2="458.36" stroke="#b8163a" stroke-width="0.9"/>
<line x1="72.98" y1="458.36" x2="75.58" y2="458.36" stroke="#b8163a" stroke-width="0.9"/>
<line x1="74.28" y1="459.30" x2="74.28" y2="460.24" stroke="#b8163a" stroke-width="0.9"/>
<line x1="72.98" y1="460.24" x2="75.58" y2="460.24" stroke="#b8163a" stroke-width="0.9"/>
<line x1="83.44" y1="459.77" x2="83.44" y2="458.83" stroke="#b8163a" stroke-width="0.9"/>
<line x1="82.14" y1="458.83" x2="84.74" y2="458.83" stroke="#b8163a" stroke-width="0.9"/>
<line x1="83.44" y1="459.77" x2="83.44" y2="460.71" stroke="#b8163a" stroke-width="0.9"/>
<line x1="82.14" y1="460.71" x2="84.74" y2="460.71" stroke="#b8163a" stroke-width="0.9"/>
<line x1="92.61" y1="448.40" x2="92.61" y2="444.64" stroke="#b8163a" stroke-width="0.9"/>
<line x1="91.31" y1="444.64" x2="93.91" y2="444.64" stroke="#b8163a" stroke-width="0.9"/>
<line x1="92.61" y1="448.40" x2="92.61" y2="452.16" stroke="#b8163a" stroke-width="0.9"/>
<line x1="91.31" y1="452.16" x2="93.91" y2="452.16" stroke="#b8163a" stroke-width="0.9"/>
<line x1="101.78" y1="444.17" x2="101.78" y2="440.41" stroke="#b8163a" stroke-width="0.9"/>
<line x1="100.48" y1="440.41" x2="103.08" y2="440.41" stroke="#b8163a" stroke-width="0.9"/>
<line x1="101.78" y1="444.17" x2="101.78" y2="447.93" stroke="#b8163a" stroke-width="0.9"/>
<line x1="100.48" y1="447.93" x2="103.08" y2="447.93" stroke="#b8163a" stroke-width="0.9"/>
<line x1="110.94" y1="440.22" x2="110.94" y2="436.46" stroke="#b8163a" stroke-width="0.9"/>
<line x1="109.64" y1="436.46" x2="112.24" y2="436.46" stroke="#b8163a" stroke-width="0.9"/>
<line x1="110.94" y1="440.22" x2="110.94" y2="443.98" stroke="#b8163a" stroke-width="0.9"/>
<line x1="109.64" y1="443.98" x2="112.24" y2="443.98" stroke="#b8163a" stroke-width="0.9"/>
<line x1="119.40" y1="429.22" x2="119.40" y2="425.46" stroke="#b8163a" stroke-width="0.9"/>
<line x1="118.10" y1="425.46" x2="120.70" y2="425.46" stroke="#b8163a" stroke-width="0.9"/>
<line x1="119.40" y1="429.22" x2="119.40" y2="432.98" stroke="#b8163a" stroke-width="0.9"/>
<line x1="118.10" y1="432.98" x2="120.70" y2="432.98" stroke="#b8163a" stroke-width="0.9"/>
<line x1="128.56" y1="428.47" x2="128.56" y2="424.71" stroke="#b8163a" stroke-width="0.9"/>
<line x1="127.27" y1="424.71" x2="129.87" y2="424.71" stroke="#b8163a" stroke-width="0.9"/>
<line x1="128.56" y1="428.47" x2="128.56" y2="432.23" stroke="#b8163a" stroke-width="0.9"/>
<line x1="127.27" y1="432.23" x2="129.87" y2="432.23" stroke="#b8163a" stroke-width="0.9"/>
<line x1="137.73" y1="427.06" x2="137.73" y2="423.30" stroke="#b8163a" stroke-width="0.9"/>
<line x1="136.43" y1="423.30" x2="139.03" y2="423.30" stroke="#b8163a" stroke-width="0.9"/>
<line x1="137.73" y1="427.06" x2="137.73" y2="430.82" stroke="#b8163a" stroke-width="0.9"/>
<line x1="136.43" y1="430.82" x2="139.03" y2="430.82" stroke="#b8163a" stroke-width="0.9"/>
<line x1="146.89" y1="428.47" x2="146.89" y2="424.71" stroke="#b8163a" stroke-width="0.9"/>
<line x1="145.59" y1="424.71" x2="148.19" y2="424.71" stroke="#b8163a" stroke-width="0.9"/>
<line x1="146.89" y1="428.47" x2="146.89" y2="432.23" stroke="#b8163a" stroke-width="0.9"/>
<line x1="145.59" y1="432.23" x2="148.19" y2="432.23" stroke="#b8163a" stroke-width="0.9"/>
<line x1="156.06" y1="427.53" x2="156.06" y2="423.77" stroke="#b8163a" stroke-width="0.9"/>
<line x1="154.76" y1="423.77" x2="157.36" y2="423.77" stroke="#b8163a" stroke-width="0.9"/>
<line x1="156.06" y1="427.53" x2="156.06" y2="431.29" stroke="#b8163a" stroke-width="0.9"/>
<line x1="154.76" y1="431.29" x2="157.36" y2="431.29" stroke="#b8163a" stroke-width="0.9"/>
<line x1="165.22" y1="426.12" x2="165.22" y2="422.36" stroke="#b8163a" stroke-width="0.9"/>
<line x1="163.92" y1="422.36" x2="166.53" y2="422.36" stroke="#b8163a" stroke-width="0.9"/>
<line x1="165.22" y1="426.12" x2="165.22" y2="429.88" stroke="#b8163a" stroke-width="0.9"/>
<line x1="163.92" y1="429.88" x2="166.53" y2="429.88" stroke="#b8163a" stroke-width="0.9"/>
<path d="M65.11,458.83 L74.28,459.30 L83.44,459.77 L92.61,448.40 L101.78,444.17 L110.94,440.22 L119.40,429.22 L128.56,428.47 L137.73,427.06 L146.89,428.47 L156.06,427.53 L165.22,426.12" fill="none" stroke="#b8163a" stroke-width="1.4" stroke-linejoin="round"/>
<path d="M65.11,460.75 L66.88,457.55 L63.35,457.55 Z" fill="#b8163a" stroke="none" stroke-width="1"/>
<path d="M74.28,461.22 L76.04,458.02 L72.52,458.02 Z" fill="#b8163a" stroke="none" stroke-width="1"/>
<path d="M83.44,461.69 L85.20,458.49 L81.68,458.49 Z" fill="#b8163a" stroke="none" stroke-width="1"/>
<path d="M92.61,450.32 L94.37,447.12 L90.85,447.12 Z" fill="#b8163a" stroke="none" stroke-width="1"/>
<path d="M101.78,446.09 L103.54,442.89 L100.02,442.89 Z" fill="#b8163a" stroke="none" stroke-width="1"/>
<path d="M110.94,442.14 L112.70,438.94 L109.18,438.94 Z" fill="#b8163a" stroke="none" stroke-width="1"/>
<path d="M119.40,431.14 L121.16,427.94 L117.64,427.94 Z" fill="#b8163a" stroke="none" stroke-width="1"/>
<path d="M128.56,430.39 L130.32,427.19 L126.80,427.19 Z" fill="#b8163a" stroke="none" stroke-width="1"/>
<path d="M137.73,428.98 L139.49,425.78 L135.97,425.78 Z" fill="#b8163a" stroke="none" stroke-width="1"/>
<path d="M146.89,430.39 L148.65,427.19 L145.13,427.19 Z" fill="#b8163a" stroke="none" stroke-width="1"/>
<path d="M156.06,429.45 L157.82,426.25 L154.30,426.25 Z" fill="#b8163a" stroke="none" stroke-width="1"/>
<path d="M165.22,428.04 L166.98,424.84 L163.47,424.84 Z" fill="#b8163a" stroke="none" stroke-width="1"/>
<line x1="65.11" y1="458.08" x2="65.11" y2="457.14" stroke="#c4c4c6" stroke-width="0.9"/>
<line x1="63.81" y1="457.14" x2="66.41" y2="457.14" stroke="#c4c4c6" stroke-width="0.9"/>
<line x1="65.11" y1="458.08" x2="65.11" y2="459.02" stroke="#c4c4c6" stroke-width="0.9"/>
<line x1="63.81" y1="459.02" x2="66.41" y2="459.02" stroke="#c4c4c6" stroke-width="0.9"/>
<line x1="74.28" y1="458.55" x2="74.28" y2="457.61" stroke="#c4c4c6" stroke-width="0.9"/>
<line x1="72.98" y1="457.61" x2="75.58" y2="457.61" stroke="#c4c4c6" stroke-width="0.9"/>
<line x1="74.28" y1="458.55" x2="74.28" y2="459.49" stroke="#c4c4c6" stroke-width="0.9"/>
<line x1="72.98" y1="459.49" x2="75.58" y2="459.49" stroke="#c4c4c6" stroke-width="0.9"/>
<line x1="83.44" y1="459.02" x2="83.44" y2="458.08" stroke="#c4c4c6" stroke-width="0.9"/>
<line x1="82.14" y1="458.08" x2="84.74" y2="458.08" stroke="#c4c4c6" stroke-width="0.9"/>
<line x1="83.44" y1="459.02" x2="83.44" y2="459.96" stroke="#c4c4c6" stroke-width="0.9"/>
<line x1="82.14" y1="459.96" x2="84.74" y2="459.96" stroke="#c4c4c6" stroke-width="0.9"/>
<line x1="92.61" y1="444.45" x2="92.61" y2="441.63" stroke="#c4c4c6" stroke-width="0.9"/>
<line x1="91.31" y1="441.63" x2="93.91" y2="441.63" stroke="#c4c4c6" stroke-width="0.9"/>
<line x1="92.61" y1="444.45" x2="92.61" y2="447.27" stroke="#c4c4c6" stroke-width="0.9"/>
<line x1="91.31" y1="447.27" x2="93.91" y2="447.27" stroke="#c4c4c6" stroke-width="0.9"/>
<line x1="101.78" y1="440.22" x2="101.78" y2="437.40" stroke="#c4c4c6" stroke-width="0.9"/>
<line x1="100.48" y1="437.40" x2="103.08" y2="437.40" stroke="#c4c4c6" stroke-width="0.9"/>
<line x1="101.78" y1="440.22" x2="101.78" y2="443.04" stroke="#c4c4c6" stroke-width="0.9"/>
<line x1="100.48" y1="443.04" x2="103.08" y2="443.04" stroke="#c4c4c6" stroke-width="0.9"/>
<line x1="110.94" y1="436.27" x2="110.94" y2="433.45" stroke="#c4c4c6" stroke-width="0.9"/>
<line x1="109.64" y1="433.45" x2="112.24" y2="433.45" stroke="#c4c4c6" stroke-width="0.9"/>
<line x1="110.94" y1="436.27" x2="110.94" y2="439.09" stroke="#c4c4c6" stroke-width="0.9"/>
<line x1="109.64" y1="439.09" x2="112.24" y2="439.09" stroke="#c4c4c6" stroke-width="0.9"/>
<line x1="119.40" y1="425.27" x2="119.40" y2="422.45" stroke="#c4c4c6" stroke-width="0.9"/>
<line x1="118.10" y1="422.45" x2="120.70" y2="422.45" stroke="#c4c4c6" stroke-width="0.9"/>
<line x1="119.40" y1="425.27" x2="119.40" y2="428.09" stroke="#c4c4c6" stroke-width="0.9"/>
<line x1="118.10" y1="428.09" x2="120.70" y2="428.09" stroke="#c4c4c6" stroke-width="0.9"/>
<line x1="128.56" y1="424.52" x2="128.56" y2="421.70" stroke="#c4c4c6" stroke-width="0.9"/>
<line x1="127.27" y1="421.70" x2="129.87" y2="421.70" stroke="#c4c4c6" stroke-width="0.9"/>
<line x1="128.56" y1="424.52" x2="128.56" y2="427.34" stroke="#c4c4c6" stroke-width="0.9"/>
<line x1="127.27" y1="427.34" x2="129.87" y2="427.34" stroke="#c4c4c6" stroke-width="0.9"/>
<line x1="137.73" y1="423.11" x2="137.73" y2="420.29" stroke="#c4c4c6" stroke-width="0.9"/>
<line x1="136.43" y1="420.29" x2="139.03" y2="420.29" stroke="#c4c4c6" stroke-width="0.9"/>
<line x1="137.73" y1="423.11" x2="137.73" y2="425.93" stroke="#c4c4c6" stroke-width="0.9"/>
<line x1="136.43" y1="425.93" x2="139.03" y2="425.93" stroke="#c4c4c6" stroke-width="0.9"/>
<line x1="146.89" y1="424.52" x2="146.89" y2="421.70" stroke="#c4c4c6" stroke-width="0.9"/>
<line x1="145.59" y1="421.70" x2="148.19" y2="421.70" stroke="#c4c4c6" stroke-width="0.9"/>
<line x1="146.89" y1="424.52" x2="146.89" y2="427.34" stroke="#c4c4c6" stroke-width="0.9"/>
<line x1="145.59" y1="427.34" x2="148.19" y2="427.34" stroke="#c4c4c6" stroke-width="0.9"/>
<line x1="156.06" y1="423.58" x2="156.06" y2="420.76" stroke="#c4c4c6" stroke-width="0.9"/>
<line x1="154.76" y1="420.76" x2="157.36" y2="420.76" stroke="#c4c4c6" stroke-width="0.9"/>
<line x1="156.06" y1="423.58" x2="156.06" y2="426.40" stroke="#c4c4c6" stroke-width="0.9"/>
<line x1="154.76" y1="426.40" x2="157.36" y2="426.40" stroke="#c4c4c6" stroke-width="0.9"/>
<line x1="165.22" y1="422.17" x2="165.22" y2="419.35" stroke="#c4c4c6" stroke-width="0.9"/>
<line x1="163.92" y1="419.35" x2="166.53" y2="419.35" stroke="#c4c4c6" stroke-width="0.9"/>
<line x1="165.22" y1="422.17" x2="165.22" y2="424.99" stroke="#c4c4c6" stroke-width="0.9"/>
<line x1="163.92" y1="424.99" x2="166.53" y2="424.99" stroke="#c4c4c6" stroke-width="0.9"/>
<path d="M65.11,458.08 L74.28,458.55 L83.44,459.02 L92.61,444.45 L101.78,440.22 L110.94,436.27 L119.40,425.27 L128.56,424.52 L137.73,423.11 L146.89,424.52 L156.06,423.58 L165.22,422.17" fill="none" stroke="#c9c9cb" stroke-width="2.2" stroke-linejoin="round"/>
<circle cx="65.11" cy="458.08" r="1.70" fill="#d4d4d6" stroke="#b0b0b4" stroke-width="0.6"/>
<circle cx="74.28" cy="458.55" r="1.70" fill="#d4d4d6" stroke="#b0b0b4" stroke-width="0.6"/>
<circle cx="83.44" cy="459.02" r="1.70" fill="#d4d4d6" stroke="#b0b0b4" stroke-width="0.6"/>
<circle cx="92.61" cy="444.45" r="1.70" fill="#d4d4d6" stroke="#b0b0b4" stroke-width="0.6"/>
<circle cx="101.78" cy="440.22" r="1.70" fill="#d4d4d6" stroke="#b0b0b4" stroke-width="0.6"/>
<circle cx="110.94" cy="436.27" r="1.70" fill="#d4d4d6" stroke="#b0b0b4" stroke-width="0.6"/>
<circle cx="119.40" cy="425.27" r="1.70" fill="#d4d4d6" stroke="#b0b0b4" stroke-width="0.6"/>
<circle cx="128.56" cy="424.52" r="1.70" fill="#d4d4d6" stroke="#b0b0b4" stroke-width="0.6"/>
<circle cx="137.73" cy="423.11" r="1.70" fill="#d4d4d6" stroke="#b0b0b4" stroke-width="0.6"/>
<circle cx="146.89" cy="424.52" r="1.70" fill="#d4d4d6" stroke="#b0b0b4" stroke-width="0.6"/>
<circle cx="156.06" cy="423.58" r="1.70" fill="#d4d4d6" stroke="#b0b0b4" stroke-width="0.6"/>
<circle cx="165.22" cy="422.17" r="1.70" fill="#d4d4d6" stroke="#b0b0b4" stroke-width="0.6"/>
<line x1="65.11" y1="457.80" x2="65.11" y2="456.86" stroke="#5fa83a" stroke-width="0.9"/>
<line x1="63.81" y1="456.86" x2="66.41" y2="456.86" stroke="#5fa83a" stroke-width="0.9"/>
<line x1="65.11" y1="457.80" x2="65.11" y2="458.74" stroke="#5fa83a" stroke-width="0.9"/>
<line x1="63.81" y1="458.74" x2="66.41" y2="458.74" stroke="#5fa83a" stroke-width="0.9"/>
<line x1="74.28" y1="458.27" x2="74.28" y2="457.33" stroke="#5fa83a" stroke-width="0.9"/>
<line x1="72.98" y1="457.33" x2="75.58" y2="457.33" stroke="#5fa83a" stroke-width="0.9"/>
<line x1="74.28" y1="458.27" x2="74.28" y2="459.21" stroke="#5fa83a" stroke-width="0.9"/>
<line x1="72.98" y1="459.21" x2="75.58" y2="459.21" stroke="#5fa83a" stroke-width="0.9"/>
<line x1="83.44" y1="458.74" x2="83.44" y2="457.80" stroke="#5fa83a" stroke-width="0.9"/>
<line x1="82.14" y1="457.80" x2="84.74" y2="457.80" stroke="#5fa83a" stroke-width="0.9"/>
<line x1="83.44" y1="458.74" x2="83.44" y2="459.68" stroke="#5fa83a" stroke-width="0.9"/>
<line x1="82.14" y1="459.68" x2="84.74" y2="459.68" stroke="#5fa83a" stroke-width="0.9"/>
<line x1="92.61" y1="445.11" x2="92.61" y2="443.23" stroke="#5fa83a" stroke-width="0.9"/>
<line x1="91.31" y1="443.23" x2="93.91" y2="443.23" stroke="#5fa83a" stroke-width="0.9"/>
<line x1="92.61" y1="445.11" x2="92.61" y2="446.99" stroke="#5fa83a" stroke-width="0.9"/>
<line x1="91.31" y1="446.99" x2="93.91" y2="446.99" stroke="#5fa83a" stroke-width="0.9"/>
<line x1="101.78" y1="440.88" x2="101.78" y2="439.00" stroke="#5fa83a" stroke-width="0.9"/>
<line x1="100.48" y1="439.00" x2="103.08" y2="439.00" stroke="#5fa83a" stroke-width="0.9"/>
<line x1="101.78" y1="440.88" x2="101.78" y2="442.76" stroke="#5fa83a" stroke-width="0.9"/>
<line x1="100.48" y1="442.76" x2="103.08" y2="442.76" stroke="#5fa83a" stroke-width="0.9"/>
<line x1="110.94" y1="436.93" x2="110.94" y2="435.05" stroke="#5fa83a" stroke-width="0.9"/>
<line x1="109.64" y1="435.05" x2="112.24" y2="435.05" stroke="#5fa83a" stroke-width="0.9"/>
<line x1="110.94" y1="436.93" x2="110.94" y2="438.81" stroke="#5fa83a" stroke-width="0.9"/>
<line x1="109.64" y1="438.81" x2="112.24" y2="438.81" stroke="#5fa83a" stroke-width="0.9"/>
<line x1="119.40" y1="425.93" x2="119.40" y2="424.05" stroke="#5fa83a" stroke-width="0.9"/>
<line x1="118.10" y1="424.05" x2="120.70" y2="424.05" stroke="#5fa83a" stroke-width="0.9"/>
<line x1="119.40" y1="425.93" x2="119.40" y2="427.81" stroke="#5fa83a" stroke-width="0.9"/>
<line x1="118.10" y1="427.81" x2="120.70" y2="427.81" stroke="#5fa83a" stroke-width="0.9"/>
<line x1="128.56" y1="425.18" x2="128.56" y2="423.30" stroke="#5fa83a" stroke-width="0.9"/>
<line x1="127.27" y1="423.30" x2="129.87" y2="423.30" stroke="#5fa83a" stroke-width="0.9"/>
<line x1="128.56" y1="425.18" x2="128.56" y2="427.06" stroke="#5fa83a" stroke-width="0.9"/>
<line x1="127.27" y1="427.06" x2="129.87" y2="427.06" stroke="#5fa83a" stroke-width="0.9"/>
<line x1="137.73" y1="423.77" x2="137.73" y2="421.89" stroke="#5fa83a" stroke-width="0.9"/>
<line x1="136.43" y1="421.89" x2="139.03" y2="421.89" stroke="#5fa83a" stroke-width="0.9"/>
<line x1="137.73" y1="423.77" x2="137.73" y2="425.65" stroke="#5fa83a" stroke-width="0.9"/>
<line x1="136.43" y1="425.65" x2="139.03" y2="425.65" stroke="#5fa83a" stroke-width="0.9"/>
<line x1="146.89" y1="425.18" x2="146.89" y2="423.30" stroke="#5fa83a" stroke-width="0.9"/>
<line x1="145.59" y1="423.30" x2="148.19" y2="423.30" stroke="#5fa83a" stroke-width="0.9"/>
<line x1="146.89" y1="425.18" x2="146.89" y2="427.06" stroke="#5fa83a" stroke-width="0.9"/>
<line x1="145.59" y1="427.06" x2="148.19" y2="427.06" stroke="#5fa83a" stroke-width="0.9"/>
<line x1="156.06" y1="424.24" x2="156.06" y2="422.36" stroke="#5fa83a" stroke-width="0.9"/>
<line x1="154.76" y1="422.36" x2="157.36" y2="422.36" stroke="#5fa83a" stroke-width="0.9"/>
<line x1="156.06" y1="424.24" x2="156.06" y2="426.12" stroke="#5fa83a" stroke-width="0.9"/>
<line x1="154.76" y1="426.12" x2="157.36" y2="426.12" stroke="#5fa83a" stroke-width="0.9"/>
<line x1="165.22" y1="422.83" x2="165.22" y2="420.95" stroke="#5fa83a" stroke-width="0.9"/>
<line x1="163.92" y1="420.95" x2="166.53" y2="420.95" stroke="#5fa83a" stroke-width="0.9"/>
<line x1="165.22" y1="422.83" x2="165.22" y2="424.71" stroke="#5fa83a" stroke-width="0.9"/>
<line x1="163.92" y1="424.71" x2="166.53" y2="424.71" stroke="#5fa83a" stroke-width="0.9"/>
<path d="M65.11,457.80 L74.28,458.27 L83.44,458.74 L92.61,445.11 L101.78,440.88 L110.94,436.93 L119.40,425.93 L128.56,425.18 L137.73,423.77 L146.89,425.18 L156.06,424.24 L165.22,422.83" fill="none" stroke="#5fa83a" stroke-width="1.4" stroke-linejoin="round"/>
<path d="M65.11,455.88 L66.88,459.08 L63.35,459.08 Z" fill="#5fa83a" stroke="none" stroke-width="1"/>
<path d="M74.28,456.35 L76.04,459.55 L72.52,459.55 Z" fill="#5fa83a" stroke="none" stroke-width="1"/>
<path d="M83.44,456.82 L85.20,460.02 L81.68,460.02 Z" fill="#5fa83a" stroke="none" stroke-width="1"/>
<path d="M92.61,443.19 L94.37,446.39 L90.85,446.39 Z" fill="#5fa83a" stroke="none" stroke-width="1"/>
<path d="M101.78,438.96 L103.54,442.16 L100.02,442.16 Z" fill="#5fa83a" stroke="none" stroke-width="1"/>
<path d="M110.94,435.01 L112.70,438.21 L109.18,438.21 Z" fill="#5fa83a" stroke="none" stroke-width="1"/>
<path d="M119.40,424.01 L121.16,427.21 L117.64,427.21 Z" fill="#5fa83a" stroke="none" stroke-width="1"/>
<path d="M128.56,423.26 L130.32,426.46 L126.80,426.46 Z" fill="#5fa83a" stroke="none" stroke-width="1"/>
<path d="M137.73,421.85 L139.49,425.05 L135.97,425.05 Z" fill="#5fa83a" stroke="none" stroke-width="1"/>
<path d="M146.89,423.26 L148.65,426.46 L145.13,426.46 Z" fill="#5fa83a" stroke="none" stroke-width="1"/>
<path d="M156.06,422.32 L157.82,425.52 L154.30,425.52 Z" fill="#5fa83a" stroke="none" stroke-width="1"/>
<path d="M165.22,420.91 L166.98,424.11 L163.47,424.11 Z" fill="#5fa83a" stroke="none" stroke-width="1"/>
<line x1="65.11" y1="458.55" x2="65.11" y2="457.42" stroke="#1f4a8a" stroke-width="0.9"/>
<line x1="63.81" y1="457.42" x2="66.41" y2="457.42" stroke="#1f4a8a" stroke-width="0.9"/>
<line x1="65.11" y1="458.55" x2="65.11" y2="459.68" stroke="#1f4a8a" stroke-width="0.9"/>
<line x1="63.81" y1="459.68" x2="66.41" y2="459.68" stroke="#1f4a8a" stroke-width="0.9"/>
<line x1="74.28" y1="459.02" x2="74.28" y2="457.89" stroke="#1f4a8a" stroke-width="0.9"/>
<line x1="72.98" y1="457.89" x2="75.58" y2="457.89" stroke="#1f4a8a" stroke-width="0.9"/>
<line x1="74.28" y1="459.02" x2="74.28" y2="460.15" stroke="#1f4a8a" stroke-width="0.9"/>
<line x1="72.98" y1="460.15" x2="75.58" y2="460.15" stroke="#1f4a8a" stroke-width="0.9"/>
<line x1="83.44" y1="459.49" x2="83.44" y2="458.36" stroke="#1f4a8a" stroke-width="0.9"/>
<line x1="82.14" y1="458.36" x2="84.74" y2="458.36" stroke="#1f4a8a" stroke-width="0.9"/>
<line x1="83.44" y1="459.49" x2="83.44" y2="460.62" stroke="#1f4a8a" stroke-width="0.9"/>
<line x1="82.14" y1="460.62" x2="84.74" y2="460.62" stroke="#1f4a8a" stroke-width="0.9"/>
<line x1="92.61" y1="446.52" x2="92.61" y2="442.76" stroke="#1f4a8a" stroke-width="0.9"/>
<line x1="91.31" y1="442.76" x2="93.91" y2="442.76" stroke="#1f4a8a" stroke-width="0.9"/>
<line x1="92.61" y1="446.52" x2="92.61" y2="450.28" stroke="#1f4a8a" stroke-width="0.9"/>
<line x1="91.31" y1="450.28" x2="93.91" y2="450.28" stroke="#1f4a8a" stroke-width="0.9"/>
<line x1="101.78" y1="442.29" x2="101.78" y2="438.53" stroke="#1f4a8a" stroke-width="0.9"/>
<line x1="100.48" y1="438.53" x2="103.08" y2="438.53" stroke="#1f4a8a" stroke-width="0.9"/>
<line x1="101.78" y1="442.29" x2="101.78" y2="446.05" stroke="#1f4a8a" stroke-width="0.9"/>
<line x1="100.48" y1="446.05" x2="103.08" y2="446.05" stroke="#1f4a8a" stroke-width="0.9"/>
<line x1="110.94" y1="438.34" x2="110.94" y2="434.58" stroke="#1f4a8a" stroke-width="0.9"/>
<line x1="109.64" y1="434.58" x2="112.24" y2="434.58" stroke="#1f4a8a" stroke-width="0.9"/>
<line x1="110.94" y1="438.34" x2="110.94" y2="442.10" stroke="#1f4a8a" stroke-width="0.9"/>
<line x1="109.64" y1="442.10" x2="112.24" y2="442.10" stroke="#1f4a8a" stroke-width="0.9"/>
<line x1="119.40" y1="427.34" x2="119.40" y2="422.17" stroke="#1f4a8a" stroke-width="0.9"/>
<line x1="118.10" y1="422.17" x2="120.70" y2="422.17" stroke="#1f4a8a" stroke-width="0.9"/>
<line x1="119.40" y1="427.34" x2="119.40" y2="432.51" stroke="#1f4a8a" stroke-width="0.9"/>
<line x1="118.10" y1="432.51" x2="120.70" y2="432.51" stroke="#1f4a8a" stroke-width="0.9"/>
<line x1="128.56" y1="426.59" x2="128.56" y2="421.42" stroke="#1f4a8a" stroke-width="0.9"/>
<line x1="127.27" y1="421.42" x2="129.87" y2="421.42" stroke="#1f4a8a" stroke-width="0.9"/>
<line x1="128.56" y1="426.59" x2="128.56" y2="431.76" stroke="#1f4a8a" stroke-width="0.9"/>
<line x1="127.27" y1="431.76" x2="129.87" y2="431.76" stroke="#1f4a8a" stroke-width="0.9"/>
<line x1="137.73" y1="425.18" x2="137.73" y2="420.01" stroke="#1f4a8a" stroke-width="0.9"/>
<line x1="136.43" y1="420.01" x2="139.03" y2="420.01" stroke="#1f4a8a" stroke-width="0.9"/>
<line x1="137.73" y1="425.18" x2="137.73" y2="430.35" stroke="#1f4a8a" stroke-width="0.9"/>
<line x1="136.43" y1="430.35" x2="139.03" y2="430.35" stroke="#1f4a8a" stroke-width="0.9"/>
<line x1="146.89" y1="426.59" x2="146.89" y2="421.89" stroke="#1f4a8a" stroke-width="0.9"/>
<line x1="145.59" y1="421.89" x2="148.19" y2="421.89" stroke="#1f4a8a" stroke-width="0.9"/>
<line x1="146.89" y1="426.59" x2="146.89" y2="431.29" stroke="#1f4a8a" stroke-width="0.9"/>
<line x1="145.59" y1="431.29" x2="148.19" y2="431.29" stroke="#1f4a8a" stroke-width="0.9"/>
<line x1="156.06" y1="425.65" x2="156.06" y2="420.95" stroke="#1f4a8a" stroke-width="0.9"/>
<line x1="154.76" y1="420.95" x2="157.36" y2="420.95" stroke="#1f4a8a" stroke-width="0.9"/>
<line x1="156.06" y1="425.65" x2="156.06" y2="430.35" stroke="#1f4a8a" stroke-width="0.9"/>
<line x1="154.76" y1="430.35" x2="157.36" y2="430.35" stroke="#1f4a8a" stroke-width="0.9"/>
<line x1="165.22" y1="424.24" x2="165.22" y2="419.54" stroke="#1f4a8a" stroke-width="0.9"/>
<line x1="163.92" y1="419.54" x2="166.53" y2="419.54" stroke="#1f4a8a" stroke-width="0.9"/>
<line x1="165.22" y1="424.24" x2="165.22" y2="428.94" stroke="#1f4a8a" stroke-width="0.9"/>
<line x1="163.92" y1="428.94" x2="166.53" y2="428.94" stroke="#1f4a8a" stroke-width="0.9"/>
<path d="M65.11,458.55 L74.28,459.02 L83.44,459.49 L92.61,446.52 L101.78,442.29 L110.94,438.34 L119.40,427.34 L128.56,426.59 L137.73,425.18 L146.89,426.59 L156.06,425.65 L165.22,424.24" fill="none" stroke="#1f4a8a" stroke-width="1.4" stroke-linejoin="round"/>
<rect x="63.31" y="456.75" width="3.60" height="3.60" fill="#1f4a8a"/>
<rect x="72.48" y="457.22" width="3.60" height="3.60" fill="#1f4a8a"/>
<rect x="81.64" y="457.69" width="3.60" height="3.60" fill="#1f4a8a"/>
<rect x="90.81" y="444.72" width="3.60" height="3.60" fill="#1f4a8a"/>
<rect x="99.98" y="440.49" width="3.60" height="3.60" fill="#1f4a8a"/>
<rect x="109.14" y="436.54" width="3.60" height="3.60" fill="#1f4a8a"/>
<rect x="117.60" y="425.54" width="3.60" height="3.60" fill="#1f4a8a"/>
<rect x="126.77" y="424.79" width="3.60" height="3.60" fill="#1f4a8a"/>
<rect x="135.93" y="423.38" width="3.60" height="3.60" fill="#1f4a8a"/>
<rect x="145.09" y="424.79" width="3.60" height="3.60" fill="#1f4a8a"/>
<rect x="154.26" y="423.85" width="3.60" height="3.60" fill="#1f4a8a"/>
<rect x="163.42" y="422.44" width="3.60" height="3.60" fill="#1f4a8a"/>
<line x1="63.00" y1="397.00" x2="63.00" y2="475.60" stroke="#231f20" stroke-width="1.3"/>
<line x1="62.40" y1="475.00" x2="180.00" y2="475.00" stroke="#231f20" stroke-width="1.3"/>
<line x1="59.80" y1="475.00" x2="63.00" y2="475.00" stroke="#231f20" stroke-width="1.1"/>
<text x="57.00" y="477.45" font-size="6.8" text-anchor="end" fill="#231f20" stroke="#231f20" stroke-width="0.2">0</text>
<line x1="59.80" y1="437.40" x2="63.00" y2="437.40" stroke="#231f20" stroke-width="1.1"/>
<text x="57.00" y="439.85" font-size="6.8" text-anchor="end" fill="#231f20" stroke="#231f20" stroke-width="0.2">40</text>
<line x1="59.80" y1="399.80" x2="63.00" y2="399.80" stroke="#231f20" stroke-width="1.1"/>
<text x="57.00" y="402.25" font-size="6.8" text-anchor="end" fill="#231f20" stroke="#231f20" stroke-width="0.2">80</text>
<line x1="63.00" y1="475.00" x2="63.00" y2="477.50" stroke="#231f20" stroke-width="1"/>
<line x1="91.20" y1="475.00" x2="91.20" y2="477.50" stroke="#231f20" stroke-width="1"/>
<line x1="119.40" y1="475.00" x2="119.40" y2="477.50" stroke="#231f20" stroke-width="1"/>
<line x1="147.60" y1="475.00" x2="147.60" y2="477.50" stroke="#231f20" stroke-width="1"/>
<line x1="175.80" y1="475.00" x2="175.80" y2="477.50" stroke="#231f20" stroke-width="1"/>
<text x="91.20" y="488.20" font-size="6.8" text-anchor="middle" fill="#231f20" stroke="#231f20" stroke-width="0.2">20</text>
<text x="119.40" y="488.20" font-size="6.8" text-anchor="middle" fill="#231f20" stroke="#231f20" stroke-width="0.2">40</text>
<text x="147.60" y="488.20" font-size="6.8" text-anchor="middle" fill="#231f20" stroke="#231f20" stroke-width="0.2">60</text>
<text x="175.80" y="488.20" font-size="6.8" text-anchor="middle" fill="#231f20" stroke="#231f20" stroke-width="0.2">80</text>
<line x1="70.80" y1="391.00" x2="86.20" y2="391.00" stroke="#c9c9cb" stroke-width="2"/>
<text x="90.20" y="393.30" font-size="6.3" fill="#231f20" stroke="#231f20" stroke-width="0.2" textLength="26.5" lengthAdjust="spacingAndGlyphs">Untreated</text>
<line x1="127.00" y1="391.00" x2="143.00" y2="391.00" stroke="#5fa83a" stroke-width="2"/>
<text x="146.00" y="393.30" font-size="6.3" fill="#231f20" stroke="#231f20" stroke-width="0.2" textLength="12" lengthAdjust="spacingAndGlyphs">VEN</text>
<line x1="70.80" y1="401.70" x2="86.20" y2="401.70" stroke="#1f4a8a" stroke-width="2"/>
<text x="90.20" y="404.00" font-size="6.3" fill="#231f20" stroke="#231f20" stroke-width="0.2" textLength="11" lengthAdjust="spacingAndGlyphs">SLC</text>
<line x1="127.00" y1="401.70" x2="143.00" y2="401.70" stroke="#b8163a" stroke-width="2"/>
<text x="146.00" y="404.00" font-size="6.3" fill="#231f20" stroke="#231f20" stroke-width="0.2" textLength="26" lengthAdjust="spacingAndGlyphs">SLC+VEN</text>
<text x="7.70" y="544.20" font-size="15.4" font-weight="bold" fill="#000">C</text>
<text x="105.00" y="543.60" font-size="9.5" fill="#231f20" stroke="#231f20" stroke-width="0.2" textLength="44.8" lengthAdjust="spacingAndGlyphs">OCI-AML3</text>
<line x1="65.63" y1="609.24" x2="65.63" y2="607.07" stroke="#c4c4c6" stroke-width="0.9"/>
<line x1="64.33" y1="607.07" x2="66.93" y2="607.07" stroke="#c4c4c6" stroke-width="0.9"/>
<line x1="65.63" y1="609.24" x2="65.63" y2="611.40" stroke="#c4c4c6" stroke-width="0.9"/>
<line x1="64.33" y1="611.40" x2="66.93" y2="611.40" stroke="#c4c4c6" stroke-width="0.9"/>
<line x1="75.74" y1="610.05" x2="75.74" y2="607.88" stroke="#c4c4c6" stroke-width="0.9"/>
<line x1="74.44" y1="607.88" x2="77.04" y2="607.88" stroke="#c4c4c6" stroke-width="0.9"/>
<line x1="75.74" y1="610.05" x2="75.74" y2="612.22" stroke="#c4c4c6" stroke-width="0.9"/>
<line x1="74.44" y1="612.22" x2="77.04" y2="612.22" stroke="#c4c4c6" stroke-width="0.9"/>
<line x1="85.85" y1="610.05" x2="85.85" y2="607.88" stroke="#c4c4c6" stroke-width="0.9"/>
<line x1="84.55" y1="607.88" x2="87.15" y2="607.88" stroke="#c4c4c6" stroke-width="0.9"/>
<line x1="85.85" y1="610.05" x2="85.85" y2="612.22" stroke="#c4c4c6" stroke-width="0.9"/>
<line x1="84.55" y1="612.22" x2="87.15" y2="612.22" stroke="#c4c4c6" stroke-width="0.9"/>
<line x1="95.95" y1="630.10" x2="95.95" y2="629.02" stroke="#c4c4c6" stroke-width="0.9"/>
<line x1="94.66" y1="629.02" x2="97.25" y2="629.02" stroke="#c4c4c6" stroke-width="0.9"/>
<line x1="95.95" y1="630.10" x2="95.95" y2="631.19" stroke="#c4c4c6" stroke-width="0.9"/>
<line x1="94.66" y1="631.19" x2="97.25" y2="631.19" stroke="#c4c4c6" stroke-width="0.9"/>
<line x1="106.06" y1="629.56" x2="106.06" y2="628.48" stroke="#c4c4c6" stroke-width="0.9"/>
<line x1="104.76" y1="628.48" x2="107.36" y2="628.48" stroke="#c4c4c6" stroke-width="0.9"/>
<line x1="106.06" y1="629.56" x2="106.06" y2="630.64" stroke="#c4c4c6" stroke-width="0.9"/>
<line x1="104.76" y1="630.64" x2="107.36" y2="630.64" stroke="#c4c4c6" stroke-width="0.9"/>
<line x1="116.17" y1="628.20" x2="116.17" y2="627.12" stroke="#c4c4c6" stroke-width="0.9"/>
<line x1="114.87" y1="627.12" x2="117.47" y2="627.12" stroke="#c4c4c6" stroke-width="0.9"/>
<line x1="116.17" y1="628.20" x2="116.17" y2="629.29" stroke="#c4c4c6" stroke-width="0.9"/>
<line x1="114.87" y1="629.29" x2="117.47" y2="629.29" stroke="#c4c4c6" stroke-width="0.9"/>
<line x1="125.50" y1="568.58" x2="125.50" y2="565.87" stroke="#c4c4c6" stroke-width="0.9"/>
<line x1="124.20" y1="565.87" x2="126.80" y2="565.87" stroke="#c4c4c6" stroke-width="0.9"/>
<line x1="125.50" y1="568.58" x2="125.50" y2="575.36" stroke="#c4c4c6" stroke-width="0.9"/>
<line x1="124.20" y1="575.36" x2="126.80" y2="575.36" stroke="#c4c4c6" stroke-width="0.9"/>
<line x1="135.61" y1="584.85" x2="135.61" y2="582.13" stroke="#c4c4c6" stroke-width="0.9"/>
<line x1="134.31" y1="582.13" x2="136.91" y2="582.13" stroke="#c4c4c6" stroke-width="0.9"/>
<line x1="135.61" y1="584.85" x2="135.61" y2="591.62" stroke="#c4c4c6" stroke-width="0.9"/>
<line x1="134.31" y1="591.62" x2="136.91" y2="591.62" stroke="#c4c4c6" stroke-width="0.9"/>
<line x1="145.71" y1="588.91" x2="145.71" y2="586.20" stroke="#c4c4c6" stroke-width="0.9"/>
<line x1="144.41" y1="586.20" x2="147.01" y2="586.20" stroke="#c4c4c6" stroke-width="0.9"/>
<line x1="145.71" y1="588.91" x2="145.71" y2="595.68" stroke="#c4c4c6" stroke-width="0.9"/>
<line x1="144.41" y1="595.68" x2="147.01" y2="595.68" stroke="#c4c4c6" stroke-width="0.9"/>
<line x1="155.82" y1="635.52" x2="155.82" y2="634.71" stroke="#c4c4c6" stroke-width="0.9"/>
<line x1="154.52" y1="634.71" x2="157.12" y2="634.71" stroke="#c4c4c6" stroke-width="0.9"/>
<line x1="155.82" y1="635.52" x2="155.82" y2="636.33" stroke="#c4c4c6" stroke-width="0.9"/>
<line x1="154.52" y1="636.33" x2="157.12" y2="636.33" stroke="#c4c4c6" stroke-width="0.9"/>
<line x1="165.93" y1="635.52" x2="165.93" y2="634.71" stroke="#c4c4c6" stroke-width="0.9"/>
<line x1="164.63" y1="634.71" x2="167.23" y2="634.71" stroke="#c4c4c6" stroke-width="0.9"/>
<line x1="165.93" y1="635.52" x2="165.93" y2="636.33" stroke="#c4c4c6" stroke-width="0.9"/>
<line x1="164.63" y1="636.33" x2="167.23" y2="636.33" stroke="#c4c4c6" stroke-width="0.9"/>
<line x1="176.04" y1="635.52" x2="176.04" y2="634.71" stroke="#c4c4c6" stroke-width="0.9"/>
<line x1="174.74" y1="634.71" x2="177.34" y2="634.71" stroke="#c4c4c6" stroke-width="0.9"/>
<line x1="176.04" y1="635.52" x2="176.04" y2="636.33" stroke="#c4c4c6" stroke-width="0.9"/>
<line x1="174.74" y1="636.33" x2="177.34" y2="636.33" stroke="#c4c4c6" stroke-width="0.9"/>
<path d="M65.63,609.24 L75.74,610.05 L85.85,610.05 L95.95,630.10 L106.06,629.56 L116.17,628.20 L125.50,568.58 L135.61,584.85 L145.71,588.91 L155.82,635.52 L165.93,635.52 L176.04,635.52" fill="none" stroke="#c9c9cb" stroke-width="2.2" stroke-linejoin="round"/>
<circle cx="65.63" cy="609.24" r="1.70" fill="#d4d4d6" stroke="#b0b0b4" stroke-width="0.6"/>
<circle cx="75.74" cy="610.05" r="1.70" fill="#d4d4d6" stroke="#b0b0b4" stroke-width="0.6"/>
<circle cx="85.85" cy="610.05" r="1.70" fill="#d4d4d6" stroke="#b0b0b4" stroke-width="0.6"/>
<circle cx="95.95" cy="630.10" r="1.70" fill="#d4d4d6" stroke="#b0b0b4" stroke-width="0.6"/>
<circle cx="106.06" cy="629.56" r="1.70" fill="#d4d4d6" stroke="#b0b0b4" stroke-width="0.6"/>
<circle cx="116.17" cy="628.20" r="1.70" fill="#d4d4d6" stroke="#b0b0b4" stroke-width="0.6"/>
<circle cx="125.50" cy="568.58" r="1.70" fill="#d4d4d6" stroke="#b0b0b4" stroke-width="0.6"/>
<circle cx="135.61" cy="584.85" r="1.70" fill="#d4d4d6" stroke="#b0b0b4" stroke-width="0.6"/>
<circle cx="145.71" cy="588.91" r="1.70" fill="#d4d4d6" stroke="#b0b0b4" stroke-width="0.6"/>
<circle cx="155.82" cy="635.52" r="1.70" fill="#d4d4d6" stroke="#b0b0b4" stroke-width="0.6"/>
<circle cx="165.93" cy="635.52" r="1.70" fill="#d4d4d6" stroke="#b0b0b4" stroke-width="0.6"/>
<circle cx="176.04" cy="635.52" r="1.70" fill="#d4d4d6" stroke="#b0b0b4" stroke-width="0.6"/>
<line x1="65.63" y1="605.17" x2="65.63" y2="603.81" stroke="#b8163a" stroke-width="0.9"/>
<line x1="64.33" y1="603.81" x2="66.93" y2="603.81" stroke="#b8163a" stroke-width="0.9"/>
<line x1="65.63" y1="605.17" x2="65.63" y2="606.52" stroke="#b8163a" stroke-width="0.9"/>
<line x1="64.33" y1="606.52" x2="66.93" y2="606.52" stroke="#b8163a" stroke-width="0.9"/>
<line x1="75.74" y1="606.52" x2="75.74" y2="605.17" stroke="#b8163a" stroke-width="0.9"/>
<line x1="74.44" y1="605.17" x2="77.04" y2="605.17" stroke="#b8163a" stroke-width="0.9"/>
<line x1="75.74" y1="606.52" x2="75.74" y2="607.88" stroke="#b8163a" stroke-width="0.9"/>
<line x1="74.44" y1="607.88" x2="77.04" y2="607.88" stroke="#b8163a" stroke-width="0.9"/>
<line x1="85.85" y1="606.52" x2="85.85" y2="605.17" stroke="#b8163a" stroke-width="0.9"/>
<line x1="84.55" y1="605.17" x2="87.15" y2="605.17" stroke="#b8163a" stroke-width="0.9"/>
<line x1="85.85" y1="606.52" x2="85.85" y2="607.88" stroke="#b8163a" stroke-width="0.9"/>
<line x1="84.55" y1="607.88" x2="87.15" y2="607.88" stroke="#b8163a" stroke-width="0.9"/>
<line x1="95.95" y1="629.02" x2="95.95" y2="628.21" stroke="#b8163a" stroke-width="0.9"/>
<line x1="94.66" y1="628.21" x2="97.25" y2="628.21" stroke="#b8163a" stroke-width="0.9"/>
<line x1="95.95" y1="629.02" x2="95.95" y2="629.83" stroke="#b8163a" stroke-width="0.9"/>
<line x1="94.66" y1="629.83" x2="97.25" y2="629.83" stroke="#b8163a" stroke-width="0.9"/>
<line x1="106.06" y1="628.20" x2="106.06" y2="627.39" stroke="#b8163a" stroke-width="0.9"/>
<line x1="104.76" y1="627.39" x2="107.36" y2="627.39" stroke="#b8163a" stroke-width="0.9"/>
<line x1="106.06" y1="628.20" x2="106.06" y2="629.02" stroke="#b8163a" stroke-width="0.9"/>
<line x1="104.76" y1="629.02" x2="107.36" y2="629.02" stroke="#b8163a" stroke-width="0.9"/>
<line x1="116.17" y1="626.31" x2="116.17" y2="625.50" stroke="#b8163a" stroke-width="0.9"/>
<line x1="114.87" y1="625.50" x2="117.47" y2="625.50" stroke="#b8163a" stroke-width="0.9"/>
<line x1="116.17" y1="626.31" x2="116.17" y2="627.12" stroke="#b8163a" stroke-width="0.9"/>
<line x1="114.87" y1="627.12" x2="117.47" y2="627.12" stroke="#b8163a" stroke-width="0.9"/>
<line x1="125.50" y1="566.42" x2="125.50" y2="559.64" stroke="#b8163a" stroke-width="0.9"/>
<line x1="124.20" y1="559.64" x2="126.80" y2="559.64" stroke="#b8163a" stroke-width="0.9"/>
<line x1="125.50" y1="566.42" x2="125.50" y2="573.19" stroke="#b8163a" stroke-width="0.9"/>
<line x1="124.20" y1="573.19" x2="126.80" y2="573.19" stroke="#b8163a" stroke-width="0.9"/>
<line x1="135.61" y1="574.55" x2="135.61" y2="565.06" stroke="#b8163a" stroke-width="0.9"/>
<line x1="134.31" y1="565.06" x2="136.91" y2="565.06" stroke="#b8163a" stroke-width="0.9"/>
<line x1="135.61" y1="574.55" x2="135.61" y2="577.26" stroke="#b8163a" stroke-width="0.9"/>
<line x1="134.31" y1="577.26" x2="136.91" y2="577.26" stroke="#b8163a" stroke-width="0.9"/>
<line x1="145.71" y1="579.97" x2="145.71" y2="571.84" stroke="#b8163a" stroke-width="0.9"/>
<line x1="144.41" y1="571.84" x2="147.01" y2="571.84" stroke="#b8163a" stroke-width="0.9"/>
<line x1="145.71" y1="579.97" x2="145.71" y2="582.68" stroke="#b8163a" stroke-width="0.9"/>
<line x1="144.41" y1="582.68" x2="147.01" y2="582.68" stroke="#b8163a" stroke-width="0.9"/>
<line x1="155.82" y1="634.98" x2="155.82" y2="634.17" stroke="#b8163a" stroke-width="0.9"/>
<line x1="154.52" y1="634.17" x2="157.12" y2="634.17" stroke="#b8163a" stroke-width="0.9"/>
<line x1="155.82" y1="634.98" x2="155.82" y2="635.79" stroke="#b8163a" stroke-width="0.9"/>
<line x1="154.52" y1="635.79" x2="157.12" y2="635.79" stroke="#b8163a" stroke-width="0.9"/>
<line x1="165.93" y1="634.98" x2="165.93" y2="634.17" stroke="#b8163a" stroke-width="0.9"/>
<line x1="164.63" y1="634.17" x2="167.23" y2="634.17" stroke="#b8163a" stroke-width="0.9"/>
<line x1="165.93" y1="634.98" x2="165.93" y2="635.79" stroke="#b8163a" stroke-width="0.9"/>
<line x1="164.63" y1="635.79" x2="167.23" y2="635.79" stroke="#b8163a" stroke-width="0.9"/>
<line x1="176.04" y1="634.44" x2="176.04" y2="633.62" stroke="#b8163a" stroke-width="0.9"/>
<line x1="174.74" y1="633.62" x2="177.34" y2="633.62" stroke="#b8163a" stroke-width="0.9"/>
<line x1="176.04" y1="634.44" x2="176.04" y2="635.25" stroke="#b8163a" stroke-width="0.9"/>
<line x1="174.74" y1="635.25" x2="177.34" y2="635.25" stroke="#b8163a" stroke-width="0.9"/>
<path d="M65.63,605.17 L75.74,606.52 L85.85,606.52 L95.95,629.02 L106.06,628.20 L116.17,626.31 L125.50,566.42 L135.61,574.55 L145.71,579.97 L155.82,634.98 L165.93,634.98 L176.04,634.44" fill="none" stroke="#b8163a" stroke-width="1.4" stroke-linejoin="round"/>
<path d="M65.63,607.09 L67.39,603.89 L63.87,603.89 Z" fill="#b8163a" stroke="none" stroke-width="1"/>
<path d="M75.74,608.44 L77.50,605.25 L73.98,605.25 Z" fill="#b8163a" stroke="none" stroke-width="1"/>
<path d="M85.85,608.44 L87.61,605.25 L84.09,605.25 Z" fill="#b8163a" stroke="none" stroke-width="1"/>
<path d="M95.95,630.94 L97.72,627.74 L94.19,627.74 Z" fill="#b8163a" stroke="none" stroke-width="1"/>
<path d="M106.06,630.12 L107.82,626.92 L104.30,626.92 Z" fill="#b8163a" stroke="none" stroke-width="1"/>
<path d="M116.17,628.23 L117.93,625.03 L114.41,625.03 Z" fill="#b8163a" stroke="none" stroke-width="1"/>
<path d="M125.50,568.34 L127.26,565.14 L123.74,565.14 Z" fill="#b8163a" stroke="none" stroke-width="1"/>
<path d="M135.61,576.47 L137.37,573.27 L133.85,573.27 Z" fill="#b8163a" stroke="none" stroke-width="1"/>
<path d="M145.71,581.89 L147.47,578.69 L143.95,578.69 Z" fill="#b8163a" stroke="none" stroke-width="1"/>
<path d="M155.82,636.90 L157.58,633.70 L154.06,633.70 Z" fill="#b8163a" stroke="none" stroke-width="1"/>
<path d="M165.93,636.90 L167.69,633.70 L164.17,633.70 Z" fill="#b8163a" stroke="none" stroke-width="1"/>
<path d="M176.04,636.36 L177.80,633.16 L174.28,633.16 Z" fill="#b8163a" stroke="none" stroke-width="1"/>
<line x1="65.63" y1="606.52" x2="65.63" y2="605.44" stroke="#5fa83a" stroke-width="0.9"/>
<line x1="64.33" y1="605.44" x2="66.93" y2="605.44" stroke="#5fa83a" stroke-width="0.9"/>
<line x1="65.63" y1="606.52" x2="65.63" y2="607.61" stroke="#5fa83a" stroke-width="0.9"/>
<line x1="64.33" y1="607.61" x2="66.93" y2="607.61" stroke="#5fa83a" stroke-width="0.9"/>
<line x1="75.74" y1="607.34" x2="75.74" y2="606.25" stroke="#5fa83a" stroke-width="0.9"/>
<line x1="74.44" y1="606.25" x2="77.04" y2="606.25" stroke="#5fa83a" stroke-width="0.9"/>
<line x1="75.74" y1="607.34" x2="75.74" y2="608.42" stroke="#5fa83a" stroke-width="0.9"/>
<line x1="74.44" y1="608.42" x2="77.04" y2="608.42" stroke="#5fa83a" stroke-width="0.9"/>
<line x1="85.85" y1="607.34" x2="85.85" y2="606.25" stroke="#5fa83a" stroke-width="0.9"/>
<line x1="84.55" y1="606.25" x2="87.15" y2="606.25" stroke="#5fa83a" stroke-width="0.9"/>
<line x1="85.85" y1="607.34" x2="85.85" y2="608.42" stroke="#5fa83a" stroke-width="0.9"/>
<line x1="84.55" y1="608.42" x2="87.15" y2="608.42" stroke="#5fa83a" stroke-width="0.9"/>
<line x1="95.95" y1="629.02" x2="95.95" y2="628.21" stroke="#5fa83a" stroke-width="0.9"/>
<line x1="94.66" y1="628.21" x2="97.25" y2="628.21" stroke="#5fa83a" stroke-width="0.9"/>
<line x1="95.95" y1="629.02" x2="95.95" y2="629.83" stroke="#5fa83a" stroke-width="0.9"/>
<line x1="94.66" y1="629.83" x2="97.25" y2="629.83" stroke="#5fa83a" stroke-width="0.9"/>
<line x1="106.06" y1="627.66" x2="106.06" y2="626.85" stroke="#5fa83a" stroke-width="0.9"/>
<line x1="104.76" y1="626.85" x2="107.36" y2="626.85" stroke="#5fa83a" stroke-width="0.9"/>
<line x1="106.06" y1="627.66" x2="106.06" y2="628.48" stroke="#5fa83a" stroke-width="0.9"/>
<line x1="104.76" y1="628.48" x2="107.36" y2="628.48" stroke="#5fa83a" stroke-width="0.9"/>
<line x1="116.17" y1="626.85" x2="116.17" y2="626.04" stroke="#5fa83a" stroke-width="0.9"/>
<line x1="114.87" y1="626.04" x2="117.47" y2="626.04" stroke="#5fa83a" stroke-width="0.9"/>
<line x1="116.17" y1="626.85" x2="116.17" y2="627.66" stroke="#5fa83a" stroke-width="0.9"/>
<line x1="114.87" y1="627.66" x2="117.47" y2="627.66" stroke="#5fa83a" stroke-width="0.9"/>
<line x1="125.50" y1="567.23" x2="125.50" y2="565.06" stroke="#5fa83a" stroke-width="0.9"/>
<line x1="124.20" y1="565.06" x2="126.80" y2="565.06" stroke="#5fa83a" stroke-width="0.9"/>
<line x1="125.50" y1="567.23" x2="125.50" y2="569.40" stroke="#5fa83a" stroke-width="0.9"/>
<line x1="124.20" y1="569.40" x2="126.80" y2="569.40" stroke="#5fa83a" stroke-width="0.9"/>
<line x1="135.61" y1="582.13" x2="135.61" y2="579.97" stroke="#5fa83a" stroke-width="0.9"/>
<line x1="134.31" y1="579.97" x2="136.91" y2="579.97" stroke="#5fa83a" stroke-width="0.9"/>
<line x1="135.61" y1="582.13" x2="135.61" y2="584.30" stroke="#5fa83a" stroke-width="0.9"/>
<line x1="134.31" y1="584.30" x2="136.91" y2="584.30" stroke="#5fa83a" stroke-width="0.9"/>
<line x1="145.71" y1="585.39" x2="145.71" y2="583.22" stroke="#5fa83a" stroke-width="0.9"/>
<line x1="144.41" y1="583.22" x2="147.01" y2="583.22" stroke="#5fa83a" stroke-width="0.9"/>
<line x1="145.71" y1="585.39" x2="145.71" y2="587.55" stroke="#5fa83a" stroke-width="0.9"/>
<line x1="144.41" y1="587.55" x2="147.01" y2="587.55" stroke="#5fa83a" stroke-width="0.9"/>
<line x1="155.82" y1="634.44" x2="155.82" y2="633.62" stroke="#5fa83a" stroke-width="0.9"/>
<line x1="154.52" y1="633.62" x2="157.12" y2="633.62" stroke="#5fa83a" stroke-width="0.9"/>
<line x1="155.82" y1="634.44" x2="155.82" y2="635.25" stroke="#5fa83a" stroke-width="0.9"/>
<line x1="154.52" y1="635.25" x2="157.12" y2="635.25" stroke="#5fa83a" stroke-width="0.9"/>
<line x1="165.93" y1="634.17" x2="165.93" y2="633.35" stroke="#5fa83a" stroke-width="0.9"/>
<line x1="164.63" y1="633.35" x2="167.23" y2="633.35" stroke="#5fa83a" stroke-width="0.9"/>
<line x1="165.93" y1="634.17" x2="165.93" y2="634.98" stroke="#5fa83a" stroke-width="0.9"/>
<line x1="164.63" y1="634.98" x2="167.23" y2="634.98" stroke="#5fa83a" stroke-width="0.9"/>
<line x1="176.04" y1="633.90" x2="176.04" y2="633.08" stroke="#5fa83a" stroke-width="0.9"/>
<line x1="174.74" y1="633.08" x2="177.34" y2="633.08" stroke="#5fa83a" stroke-width="0.9"/>
<line x1="176.04" y1="633.90" x2="176.04" y2="634.71" stroke="#5fa83a" stroke-width="0.9"/>
<line x1="174.74" y1="634.71" x2="177.34" y2="634.71" stroke="#5fa83a" stroke-width="0.9"/>
<path d="M65.63,606.52 L75.74,607.34 L85.85,607.34 L95.95,629.02 L106.06,627.66 L116.17,626.85 L125.50,567.23 L135.61,582.13 L145.71,585.39 L155.82,634.44 L165.93,634.17 L176.04,633.90" fill="none" stroke="#5fa83a" stroke-width="1.4" stroke-linejoin="round"/>
<path d="M65.63,604.61 L67.39,607.80 L63.87,607.80 Z" fill="#5fa83a" stroke="none" stroke-width="1"/>
<path d="M75.74,605.42 L77.50,608.62 L73.98,608.62 Z" fill="#5fa83a" stroke="none" stroke-width="1"/>
<path d="M85.85,605.42 L87.61,608.62 L84.09,608.62 Z" fill="#5fa83a" stroke="none" stroke-width="1"/>
<path d="M95.95,627.10 L97.72,630.30 L94.19,630.30 Z" fill="#5fa83a" stroke="none" stroke-width="1"/>
<path d="M106.06,625.74 L107.82,628.94 L104.30,628.94 Z" fill="#5fa83a" stroke="none" stroke-width="1"/>
<path d="M116.17,624.93 L117.93,628.13 L114.41,628.13 Z" fill="#5fa83a" stroke="none" stroke-width="1"/>
<path d="M125.50,565.31 L127.26,568.51 L123.74,568.51 Z" fill="#5fa83a" stroke="none" stroke-width="1"/>
<path d="M135.61,580.22 L137.37,583.41 L133.85,583.41 Z" fill="#5fa83a" stroke="none" stroke-width="1"/>
<path d="M145.71,583.47 L147.47,586.67 L143.95,586.67 Z" fill="#5fa83a" stroke="none" stroke-width="1"/>
<path d="M155.82,632.52 L157.58,635.72 L154.06,635.72 Z" fill="#5fa83a" stroke="none" stroke-width="1"/>
<path d="M165.93,632.25 L167.69,635.45 L164.17,635.45 Z" fill="#5fa83a" stroke="none" stroke-width="1"/>
<path d="M176.04,631.98 L177.80,635.18 L174.28,635.18 Z" fill="#5fa83a" stroke="none" stroke-width="1"/>
<line x1="65.63" y1="607.88" x2="65.63" y2="606.80" stroke="#1f4a8a" stroke-width="0.9"/>
<line x1="64.33" y1="606.80" x2="66.93" y2="606.80" stroke="#1f4a8a" stroke-width="0.9"/>
<line x1="65.63" y1="607.88" x2="65.63" y2="608.96" stroke="#1f4a8a" stroke-width="0.9"/>
<line x1="64.33" y1="608.96" x2="66.93" y2="608.96" stroke="#1f4a8a" stroke-width="0.9"/>
<line x1="75.74" y1="608.69" x2="75.74" y2="607.61" stroke="#1f4a8a" stroke-width="0.9"/>
<line x1="74.44" y1="607.61" x2="77.04" y2="607.61" stroke="#1f4a8a" stroke-width="0.9"/>
<line x1="75.74" y1="608.69" x2="75.74" y2="609.78" stroke="#1f4a8a" stroke-width="0.9"/>
<line x1="74.44" y1="609.78" x2="77.04" y2="609.78" stroke="#1f4a8a" stroke-width="0.9"/>
<line x1="85.85" y1="608.69" x2="85.85" y2="607.61" stroke="#1f4a8a" stroke-width="0.9"/>
<line x1="84.55" y1="607.61" x2="87.15" y2="607.61" stroke="#1f4a8a" stroke-width="0.9"/>
<line x1="85.85" y1="608.69" x2="85.85" y2="609.78" stroke="#1f4a8a" stroke-width="0.9"/>
<line x1="84.55" y1="609.78" x2="87.15" y2="609.78" stroke="#1f4a8a" stroke-width="0.9"/>
<line x1="95.95" y1="630.91" x2="95.95" y2="630.10" stroke="#1f4a8a" stroke-width="0.9"/>
<line x1="94.66" y1="630.10" x2="97.25" y2="630.10" stroke="#1f4a8a" stroke-width="0.9"/>
<line x1="95.95" y1="630.91" x2="95.95" y2="631.73" stroke="#1f4a8a" stroke-width="0.9"/>
<line x1="94.66" y1="631.73" x2="97.25" y2="631.73" stroke="#1f4a8a" stroke-width="0.9"/>
<line x1="106.06" y1="630.10" x2="106.06" y2="629.29" stroke="#1f4a8a" stroke-width="0.9"/>
<line x1="104.76" y1="629.29" x2="107.36" y2="629.29" stroke="#1f4a8a" stroke-width="0.9"/>
<line x1="106.06" y1="630.10" x2="106.06" y2="630.91" stroke="#1f4a8a" stroke-width="0.9"/>
<line x1="104.76" y1="630.91" x2="107.36" y2="630.91" stroke="#1f4a8a" stroke-width="0.9"/>
<line x1="116.17" y1="628.20" x2="116.17" y2="627.39" stroke="#1f4a8a" stroke-width="0.9"/>
<line x1="114.87" y1="627.39" x2="117.47" y2="627.39" stroke="#1f4a8a" stroke-width="0.9"/>
<line x1="116.17" y1="628.20" x2="116.17" y2="629.02" stroke="#1f4a8a" stroke-width="0.9"/>
<line x1="114.87" y1="629.02" x2="117.47" y2="629.02" stroke="#1f4a8a" stroke-width="0.9"/>
<line x1="125.50" y1="569.94" x2="125.50" y2="567.23" stroke="#1f4a8a" stroke-width="0.9"/>
<line x1="124.20" y1="567.23" x2="126.80" y2="567.23" stroke="#1f4a8a" stroke-width="0.9"/>
<line x1="125.50" y1="569.94" x2="125.50" y2="572.65" stroke="#1f4a8a" stroke-width="0.9"/>
<line x1="124.20" y1="572.65" x2="126.80" y2="572.65" stroke="#1f4a8a" stroke-width="0.9"/>
<line x1="135.61" y1="582.95" x2="135.61" y2="579.70" stroke="#1f4a8a" stroke-width="0.9"/>
<line x1="134.31" y1="579.70" x2="136.91" y2="579.70" stroke="#1f4a8a" stroke-width="0.9"/>
<line x1="135.61" y1="582.95" x2="135.61" y2="586.20" stroke="#1f4a8a" stroke-width="0.9"/>
<line x1="134.31" y1="586.20" x2="136.91" y2="586.20" stroke="#1f4a8a" stroke-width="0.9"/>
<line x1="145.71" y1="586.20" x2="145.71" y2="582.95" stroke="#1f4a8a" stroke-width="0.9"/>
<line x1="144.41" y1="582.95" x2="147.01" y2="582.95" stroke="#1f4a8a" stroke-width="0.9"/>
<line x1="145.71" y1="586.20" x2="145.71" y2="589.45" stroke="#1f4a8a" stroke-width="0.9"/>
<line x1="144.41" y1="589.45" x2="147.01" y2="589.45" stroke="#1f4a8a" stroke-width="0.9"/>
<line x1="155.82" y1="636.33" x2="155.82" y2="635.52" stroke="#1f4a8a" stroke-width="0.9"/>
<line x1="154.52" y1="635.52" x2="157.12" y2="635.52" stroke="#1f4a8a" stroke-width="0.9"/>
<line x1="155.82" y1="636.33" x2="155.82" y2="637.15" stroke="#1f4a8a" stroke-width="0.9"/>
<line x1="154.52" y1="637.15" x2="157.12" y2="637.15" stroke="#1f4a8a" stroke-width="0.9"/>
<line x1="165.93" y1="636.06" x2="165.93" y2="635.25" stroke="#1f4a8a" stroke-width="0.9"/>
<line x1="164.63" y1="635.25" x2="167.23" y2="635.25" stroke="#1f4a8a" stroke-width="0.9"/>
<line x1="165.93" y1="636.06" x2="165.93" y2="636.88" stroke="#1f4a8a" stroke-width="0.9"/>
<line x1="164.63" y1="636.88" x2="167.23" y2="636.88" stroke="#1f4a8a" stroke-width="0.9"/>
<line x1="176.04" y1="635.79" x2="176.04" y2="634.98" stroke="#1f4a8a" stroke-width="0.9"/>
<line x1="174.74" y1="634.98" x2="177.34" y2="634.98" stroke="#1f4a8a" stroke-width="0.9"/>
<line x1="176.04" y1="635.79" x2="176.04" y2="636.61" stroke="#1f4a8a" stroke-width="0.9"/>
<line x1="174.74" y1="636.61" x2="177.34" y2="636.61" stroke="#1f4a8a" stroke-width="0.9"/>
<path d="M65.63,607.88 L75.74,608.69 L85.85,608.69 L95.95,630.91 L106.06,630.10 L116.17,628.20 L125.50,569.94 L135.61,582.95 L145.71,586.20 L155.82,636.33 L165.93,636.06 L176.04,635.79" fill="none" stroke="#1f4a8a" stroke-width="1.4" stroke-linejoin="round"/>
<path d="M65.63,605.96 L67.39,609.16 L63.87,609.16 Z" fill="#1f4a8a" stroke="none" stroke-width="1"/>
<path d="M75.74,606.77 L77.50,609.97 L73.98,609.97 Z" fill="#1f4a8a" stroke="none" stroke-width="1"/>
<path d="M85.85,606.77 L87.61,609.97 L84.09,609.97 Z" fill="#1f4a8a" stroke="none" stroke-width="1"/>
<path d="M95.95,629.00 L97.72,632.19 L94.19,632.19 Z" fill="#1f4a8a" stroke="none" stroke-width="1"/>
<path d="M106.06,628.18 L107.82,631.38 L104.30,631.38 Z" fill="#1f4a8a" stroke="none" stroke-width="1"/>
<path d="M116.17,626.28 L117.93,629.48 L114.41,629.48 Z" fill="#1f4a8a" stroke="none" stroke-width="1"/>
<path d="M125.50,568.02 L127.26,571.22 L123.74,571.22 Z" fill="#1f4a8a" stroke="none" stroke-width="1"/>
<path d="M135.61,581.03 L137.37,584.23 L133.85,584.23 Z" fill="#1f4a8a" stroke="none" stroke-width="1"/>
<path d="M145.71,584.28 L147.47,587.48 L143.95,587.48 Z" fill="#1f4a8a" stroke="none" stroke-width="1"/>
<path d="M155.82,634.41 L157.58,637.61 L154.06,637.61 Z" fill="#1f4a8a" stroke="none" stroke-width="1"/>
<path d="M165.93,634.14 L167.69,637.34 L164.17,637.34 Z" fill="#1f4a8a" stroke="none" stroke-width="1"/>
<path d="M176.04,633.87 L177.80,637.07 L174.28,637.07 Z" fill="#1f4a8a" stroke="none" stroke-width="1"/>
<line x1="63.30" y1="556.70" x2="63.30" y2="641.00" stroke="#231f20" stroke-width="1.3"/>
<line x1="62.70" y1="640.40" x2="191.00" y2="640.40" stroke="#231f20" stroke-width="1.3"/>
<line x1="60.10" y1="640.40" x2="63.30" y2="640.40" stroke="#231f20" stroke-width="1.1"/>
<text x="57.00" y="642.85" font-size="6.8" text-anchor="end" fill="#231f20" stroke="#231f20" stroke-width="0.2">0</text>
<line x1="60.10" y1="613.30" x2="63.30" y2="613.30" stroke="#231f20" stroke-width="1.1"/>
<text x="57.00" y="615.75" font-size="6.8" text-anchor="end" fill="#231f20" stroke="#231f20" stroke-width="0.2">100</text>
<line x1="60.10" y1="586.20" x2="63.30" y2="586.20" stroke="#231f20" stroke-width="1.1"/>
<text x="57.00" y="588.65" font-size="6.8" text-anchor="end" fill="#231f20" stroke="#231f20" stroke-width="0.2">200</text>
<line x1="60.10" y1="559.10" x2="63.30" y2="559.10" stroke="#231f20" stroke-width="1.1"/>
<text x="57.00" y="561.55" font-size="6.8" text-anchor="end" fill="#231f20" stroke="#231f20" stroke-width="0.2">300</text>
<line x1="63.30" y1="640.40" x2="63.30" y2="642.90" stroke="#231f20" stroke-width="1"/>
<line x1="94.40" y1="640.40" x2="94.40" y2="642.90" stroke="#231f20" stroke-width="1"/>
<line x1="125.50" y1="640.40" x2="125.50" y2="642.90" stroke="#231f20" stroke-width="1"/>
<line x1="156.60" y1="640.40" x2="156.60" y2="642.90" stroke="#231f20" stroke-width="1"/>
<line x1="187.70" y1="640.40" x2="187.70" y2="642.90" stroke="#231f20" stroke-width="1"/>
<text x="94.40" y="653.20" font-size="6.8" text-anchor="middle" fill="#231f20" stroke="#231f20" stroke-width="0.2">20</text>
<text x="125.50" y="653.20" font-size="6.8" text-anchor="middle" fill="#231f20" stroke="#231f20" stroke-width="0.2">40</text>
<text x="156.60" y="653.20" font-size="6.8" text-anchor="middle" fill="#231f20" stroke="#231f20" stroke-width="0.2">60</text>
<text x="187.70" y="653.20" font-size="6.8" text-anchor="middle" fill="#231f20" stroke="#231f20" stroke-width="0.2">80</text>
<text x="68.30" y="583.90" font-size="6.1" fill="#231f20" stroke="#231f20" stroke-width="0.2" textLength="36" lengthAdjust="spacingAndGlyphs">Oligomycin A</text>
<line x1="89.40" y1="588.50" x2="89.40" y2="599.80" stroke="#000" stroke-width="1.1"/>
<path d="M87.20,599.30 L91.60,599.30 L89.40,603.80 Z" fill="#000" stroke="none" stroke-width="1"/>
<text x="101.00" y="572.00" font-size="6.1" fill="#231f20" stroke="#231f20" stroke-width="0.2" textLength="15" lengthAdjust="spacingAndGlyphs">FCCP</text>
<line x1="116.40" y1="575.30" x2="116.40" y2="586.60" stroke="#000" stroke-width="1.1"/>
<path d="M114.20,586.10 L118.60,586.10 L116.40,590.60 Z" fill="#000" stroke="none" stroke-width="1"/>
<text x="114.90" y="554.70" font-size="6.1" fill="#231f20" stroke="#231f20" stroke-width="0.2" textLength="71.9" lengthAdjust="spacingAndGlyphs">Rotenone and Antimycin A</text>
<line x1="150.90" y1="557.80" x2="150.90" y2="575.00" stroke="#000" stroke-width="1.1"/>
<path d="M148.70,574.50 L153.10,574.50 L150.90,579.00 Z" fill="#000" stroke="none" stroke-width="1"/>
<line x1="66.01" y1="723.92" x2="66.01" y2="722.23" stroke="#c4c4c6" stroke-width="0.9"/>
<line x1="64.71" y1="722.23" x2="67.31" y2="722.23" stroke="#c4c4c6" stroke-width="0.9"/>
<line x1="66.01" y1="723.92" x2="66.01" y2="725.61" stroke="#c4c4c6" stroke-width="0.9"/>
<line x1="64.71" y1="725.61" x2="67.31" y2="725.61" stroke="#c4c4c6" stroke-width="0.9"/>
<line x1="76.45" y1="723.92" x2="76.45" y2="722.23" stroke="#c4c4c6" stroke-width="0.9"/>
<line x1="75.15" y1="722.23" x2="77.75" y2="722.23" stroke="#c4c4c6" stroke-width="0.9"/>
<line x1="76.45" y1="723.92" x2="76.45" y2="725.61" stroke="#c4c4c6" stroke-width="0.9"/>
<line x1="75.15" y1="725.61" x2="77.75" y2="725.61" stroke="#c4c4c6" stroke-width="0.9"/>
<line x1="86.89" y1="723.92" x2="86.89" y2="722.23" stroke="#c4c4c6" stroke-width="0.9"/>
<line x1="85.59" y1="722.23" x2="88.19" y2="722.23" stroke="#c4c4c6" stroke-width="0.9"/>
<line x1="86.89" y1="723.92" x2="86.89" y2="725.61" stroke="#c4c4c6" stroke-width="0.9"/>
<line x1="85.59" y1="725.61" x2="88.19" y2="725.61" stroke="#c4c4c6" stroke-width="0.9"/>
<line x1="97.33" y1="705.94" x2="97.33" y2="702.56" stroke="#c4c4c6" stroke-width="0.9"/>
<line x1="96.03" y1="702.56" x2="98.63" y2="702.56" stroke="#c4c4c6" stroke-width="0.9"/>
<line x1="97.33" y1="705.94" x2="97.33" y2="709.31" stroke="#c4c4c6" stroke-width="0.9"/>
<line x1="96.03" y1="709.31" x2="98.63" y2="709.31" stroke="#c4c4c6" stroke-width="0.9"/>
<line x1="107.77" y1="703.13" x2="107.77" y2="699.75" stroke="#c4c4c6" stroke-width="0.9"/>
<line x1="106.47" y1="699.75" x2="109.06" y2="699.75" stroke="#c4c4c6" stroke-width="0.9"/>
<line x1="107.77" y1="703.13" x2="107.77" y2="706.50" stroke="#c4c4c6" stroke-width="0.9"/>
<line x1="106.47" y1="706.50" x2="109.06" y2="706.50" stroke="#c4c4c6" stroke-width="0.9"/>
<line x1="118.20" y1="699.19" x2="118.20" y2="695.82" stroke="#c4c4c6" stroke-width="0.9"/>
<line x1="116.90" y1="695.82" x2="119.50" y2="695.82" stroke="#c4c4c6" stroke-width="0.9"/>
<line x1="118.20" y1="699.19" x2="118.20" y2="702.56" stroke="#c4c4c6" stroke-width="0.9"/>
<line x1="116.90" y1="702.56" x2="119.50" y2="702.56" stroke="#c4c4c6" stroke-width="0.9"/>
<line x1="127.84" y1="697.51" x2="127.84" y2="693.01" stroke="#c4c4c6" stroke-width="0.9"/>
<line x1="126.54" y1="693.01" x2="129.14" y2="693.01" stroke="#c4c4c6" stroke-width="0.9"/>
<line x1="127.84" y1="697.51" x2="127.84" y2="702.00" stroke="#c4c4c6" stroke-width="0.9"/>
<line x1="126.54" y1="702.00" x2="129.14" y2="702.00" stroke="#c4c4c6" stroke-width="0.9"/>
<line x1="138.28" y1="696.38" x2="138.28" y2="691.89" stroke="#c4c4c6" stroke-width="0.9"/>
<line x1="136.98" y1="691.89" x2="139.58" y2="691.89" stroke="#c4c4c6" stroke-width="0.9"/>
<line x1="138.28" y1="696.38" x2="138.28" y2="700.88" stroke="#c4c4c6" stroke-width="0.9"/>
<line x1="136.98" y1="700.88" x2="139.58" y2="700.88" stroke="#c4c4c6" stroke-width="0.9"/>
<line x1="148.72" y1="695.82" x2="148.72" y2="691.32" stroke="#c4c4c6" stroke-width="0.9"/>
<line x1="147.42" y1="691.32" x2="150.02" y2="691.32" stroke="#c4c4c6" stroke-width="0.9"/>
<line x1="148.72" y1="695.82" x2="148.72" y2="700.32" stroke="#c4c4c6" stroke-width="0.9"/>
<line x1="147.42" y1="700.32" x2="150.02" y2="700.32" stroke="#c4c4c6" stroke-width="0.9"/>
<line x1="159.16" y1="697.51" x2="159.16" y2="693.01" stroke="#c4c4c6" stroke-width="0.9"/>
<line x1="157.86" y1="693.01" x2="160.46" y2="693.01" stroke="#c4c4c6" stroke-width="0.9"/>
<line x1="159.16" y1="697.51" x2="159.16" y2="702.00" stroke="#c4c4c6" stroke-width="0.9"/>
<line x1="157.86" y1="702.00" x2="160.46" y2="702.00" stroke="#c4c4c6" stroke-width="0.9"/>
<line x1="169.60" y1="698.07" x2="169.60" y2="693.57" stroke="#c4c4c6" stroke-width="0.9"/>
<line x1="168.30" y1="693.57" x2="170.90" y2="693.57" stroke="#c4c4c6" stroke-width="0.9"/>
<line x1="169.60" y1="698.07" x2="169.60" y2="702.56" stroke="#c4c4c6" stroke-width="0.9"/>
<line x1="168.30" y1="702.56" x2="170.90" y2="702.56" stroke="#c4c4c6" stroke-width="0.9"/>
<line x1="180.03" y1="698.63" x2="180.03" y2="694.13" stroke="#c4c4c6" stroke-width="0.9"/>
<line x1="178.73" y1="694.13" x2="181.34" y2="694.13" stroke="#c4c4c6" stroke-width="0.9"/>
<line x1="180.03" y1="698.63" x2="180.03" y2="703.13" stroke="#c4c4c6" stroke-width="0.9"/>
<line x1="178.73" y1="703.13" x2="181.34" y2="703.13" stroke="#c4c4c6" stroke-width="0.9"/>
<path d="M66.01,723.92 L76.45,723.92 L86.89,723.92 L97.33,705.94 L107.77,703.13 L118.20,699.19 L127.84,697.51 L138.28,696.38 L148.72,695.82 L159.16,697.51 L169.60,698.07 L180.03,698.63" fill="none" stroke="#c9c9cb" stroke-width="2.2" stroke-linejoin="round"/>
<circle cx="66.01" cy="723.92" r="1.70" fill="#d4d4d6" stroke="#b0b0b4" stroke-width="0.6"/>
<circle cx="76.45" cy="723.92" r="1.70" fill="#d4d4d6" stroke="#b0b0b4" stroke-width="0.6"/>
<circle cx="86.89" cy="723.92" r="1.70" fill="#d4d4d6" stroke="#b0b0b4" stroke-width="0.6"/>
<circle cx="97.33" cy="705.94" r="1.70" fill="#d4d4d6" stroke="#b0b0b4" stroke-width="0.6"/>
<circle cx="107.77" cy="703.13" r="1.70" fill="#d4d4d6" stroke="#b0b0b4" stroke-width="0.6"/>
<circle cx="118.20" cy="699.19" r="1.70" fill="#d4d4d6" stroke="#b0b0b4" stroke-width="0.6"/>
<circle cx="127.84" cy="697.51" r="1.70" fill="#d4d4d6" stroke="#b0b0b4" stroke-width="0.6"/>
<circle cx="138.28" cy="696.38" r="1.70" fill="#d4d4d6" stroke="#b0b0b4" stroke-width="0.6"/>
<circle cx="148.72" cy="695.82" r="1.70" fill="#d4d4d6" stroke="#b0b0b4" stroke-width="0.6"/>
<circle cx="159.16" cy="697.51" r="1.70" fill="#d4d4d6" stroke="#b0b0b4" stroke-width="0.6"/>
<circle cx="169.60" cy="698.07" r="1.70" fill="#d4d4d6" stroke="#b0b0b4" stroke-width="0.6"/>
<circle cx="180.03" cy="698.63" r="1.70" fill="#d4d4d6" stroke="#b0b0b4" stroke-width="0.6"/>
<line x1="66.01" y1="720.55" x2="66.01" y2="718.86" stroke="#b8163a" stroke-width="0.9"/>
<line x1="64.71" y1="718.86" x2="67.31" y2="718.86" stroke="#b8163a" stroke-width="0.9"/>
<line x1="66.01" y1="720.55" x2="66.01" y2="722.23" stroke="#b8163a" stroke-width="0.9"/>
<line x1="64.71" y1="722.23" x2="67.31" y2="722.23" stroke="#b8163a" stroke-width="0.9"/>
<line x1="76.45" y1="720.55" x2="76.45" y2="718.86" stroke="#b8163a" stroke-width="0.9"/>
<line x1="75.15" y1="718.86" x2="77.75" y2="718.86" stroke="#b8163a" stroke-width="0.9"/>
<line x1="76.45" y1="720.55" x2="76.45" y2="722.23" stroke="#b8163a" stroke-width="0.9"/>
<line x1="75.15" y1="722.23" x2="77.75" y2="722.23" stroke="#b8163a" stroke-width="0.9"/>
<line x1="86.89" y1="720.55" x2="86.89" y2="718.86" stroke="#b8163a" stroke-width="0.9"/>
<line x1="85.59" y1="718.86" x2="88.19" y2="718.86" stroke="#b8163a" stroke-width="0.9"/>
<line x1="86.89" y1="720.55" x2="86.89" y2="722.23" stroke="#b8163a" stroke-width="0.9"/>
<line x1="85.59" y1="722.23" x2="88.19" y2="722.23" stroke="#b8163a" stroke-width="0.9"/>
<line x1="97.33" y1="701.44" x2="97.33" y2="698.63" stroke="#b8163a" stroke-width="0.9"/>
<line x1="96.03" y1="698.63" x2="98.63" y2="698.63" stroke="#b8163a" stroke-width="0.9"/>
<line x1="97.33" y1="701.44" x2="97.33" y2="704.25" stroke="#b8163a" stroke-width="0.9"/>
<line x1="96.03" y1="704.25" x2="98.63" y2="704.25" stroke="#b8163a" stroke-width="0.9"/>
<line x1="107.77" y1="698.07" x2="107.77" y2="695.26" stroke="#b8163a" stroke-width="0.9"/>
<line x1="106.47" y1="695.26" x2="109.06" y2="695.26" stroke="#b8163a" stroke-width="0.9"/>
<line x1="107.77" y1="698.07" x2="107.77" y2="700.88" stroke="#b8163a" stroke-width="0.9"/>
<line x1="106.47" y1="700.88" x2="109.06" y2="700.88" stroke="#b8163a" stroke-width="0.9"/>
<line x1="118.20" y1="694.70" x2="118.20" y2="691.89" stroke="#b8163a" stroke-width="0.9"/>
<line x1="116.90" y1="691.89" x2="119.50" y2="691.89" stroke="#b8163a" stroke-width="0.9"/>
<line x1="118.20" y1="694.70" x2="118.20" y2="697.51" stroke="#b8163a" stroke-width="0.9"/>
<line x1="116.90" y1="697.51" x2="119.50" y2="697.51" stroke="#b8163a" stroke-width="0.9"/>
<line x1="127.84" y1="694.70" x2="127.84" y2="691.89" stroke="#b8163a" stroke-width="0.9"/>
<line x1="126.54" y1="691.89" x2="129.14" y2="691.89" stroke="#b8163a" stroke-width="0.9"/>
<line x1="127.84" y1="694.70" x2="127.84" y2="697.51" stroke="#b8163a" stroke-width="0.9"/>
<line x1="126.54" y1="697.51" x2="129.14" y2="697.51" stroke="#b8163a" stroke-width="0.9"/>
<line x1="138.28" y1="692.45" x2="138.28" y2="689.64" stroke="#b8163a" stroke-width="0.9"/>
<line x1="136.98" y1="689.64" x2="139.58" y2="689.64" stroke="#b8163a" stroke-width="0.9"/>
<line x1="138.28" y1="692.45" x2="138.28" y2="695.26" stroke="#b8163a" stroke-width="0.9"/>
<line x1="136.98" y1="695.26" x2="139.58" y2="695.26" stroke="#b8163a" stroke-width="0.9"/>
<line x1="148.72" y1="691.32" x2="148.72" y2="688.51" stroke="#b8163a" stroke-width="0.9"/>
<line x1="147.42" y1="688.51" x2="150.02" y2="688.51" stroke="#b8163a" stroke-width="0.9"/>
<line x1="148.72" y1="691.32" x2="148.72" y2="694.13" stroke="#b8163a" stroke-width="0.9"/>
<line x1="147.42" y1="694.13" x2="150.02" y2="694.13" stroke="#b8163a" stroke-width="0.9"/>
<line x1="159.16" y1="691.89" x2="159.16" y2="689.08" stroke="#b8163a" stroke-width="0.9"/>
<line x1="157.86" y1="689.08" x2="160.46" y2="689.08" stroke="#b8163a" stroke-width="0.9"/>
<line x1="159.16" y1="691.89" x2="159.16" y2="694.70" stroke="#b8163a" stroke-width="0.9"/>
<line x1="157.86" y1="694.70" x2="160.46" y2="694.70" stroke="#b8163a" stroke-width="0.9"/>
<line x1="169.60" y1="692.45" x2="169.60" y2="689.64" stroke="#b8163a" stroke-width="0.9"/>
<line x1="168.30" y1="689.64" x2="170.90" y2="689.64" stroke="#b8163a" stroke-width="0.9"/>
<line x1="169.60" y1="692.45" x2="169.60" y2="695.26" stroke="#b8163a" stroke-width="0.9"/>
<line x1="168.30" y1="695.26" x2="170.90" y2="695.26" stroke="#b8163a" stroke-width="0.9"/>
<line x1="180.03" y1="693.01" x2="180.03" y2="690.20" stroke="#b8163a" stroke-width="0.9"/>
<line x1="178.73" y1="690.20" x2="181.34" y2="690.20" stroke="#b8163a" stroke-width="0.9"/>
<line x1="180.03" y1="693.01" x2="180.03" y2="695.82" stroke="#b8163a" stroke-width="0.9"/>
<line x1="178.73" y1="695.82" x2="181.34" y2="695.82" stroke="#b8163a" stroke-width="0.9"/>
<path d="M66.01,720.55 L76.45,720.55 L86.89,720.55 L97.33,701.44 L107.77,698.07 L118.20,694.70 L127.84,694.70 L138.28,692.45 L148.72,691.32 L159.16,691.89 L169.60,692.45 L180.03,693.01" fill="none" stroke="#b8163a" stroke-width="1.4" stroke-linejoin="round"/>
<path d="M66.01,722.47 L67.77,719.27 L64.25,719.27 Z" fill="#b8163a" stroke="none" stroke-width="1"/>
<path d="M76.45,722.47 L78.21,719.27 L74.69,719.27 Z" fill="#b8163a" stroke="none" stroke-width="1"/>
<path d="M86.89,722.47 L88.65,719.27 L85.13,719.27 Z" fill="#b8163a" stroke="none" stroke-width="1"/>
<path d="M97.33,703.36 L99.09,700.16 L95.57,700.16 Z" fill="#b8163a" stroke="none" stroke-width="1"/>
<path d="M107.77,699.99 L109.53,696.79 L106.00,696.79 Z" fill="#b8163a" stroke="none" stroke-width="1"/>
<path d="M118.20,696.62 L119.96,693.42 L116.44,693.42 Z" fill="#b8163a" stroke="none" stroke-width="1"/>
<path d="M127.84,696.62 L129.60,693.42 L126.08,693.42 Z" fill="#b8163a" stroke="none" stroke-width="1"/>
<path d="M138.28,694.37 L140.04,691.17 L136.52,691.17 Z" fill="#b8163a" stroke="none" stroke-width="1"/>
<path d="M148.72,693.24 L150.48,690.04 L146.96,690.04 Z" fill="#b8163a" stroke="none" stroke-width="1"/>
<path d="M159.16,693.81 L160.92,690.61 L157.40,690.61 Z" fill="#b8163a" stroke="none" stroke-width="1"/>
<path d="M169.60,694.37 L171.36,691.17 L167.84,691.17 Z" fill="#b8163a" stroke="none" stroke-width="1"/>
<path d="M180.03,694.93 L181.79,691.73 L178.28,691.73 Z" fill="#b8163a" stroke="none" stroke-width="1"/>
<line x1="66.01" y1="721.67" x2="66.01" y2="719.99" stroke="#5fa83a" stroke-width="0.9"/>
<line x1="64.71" y1="719.99" x2="67.31" y2="719.99" stroke="#5fa83a" stroke-width="0.9"/>
<line x1="66.01" y1="721.67" x2="66.01" y2="723.36" stroke="#5fa83a" stroke-width="0.9"/>
<line x1="64.71" y1="723.36" x2="67.31" y2="723.36" stroke="#5fa83a" stroke-width="0.9"/>
<line x1="76.45" y1="721.67" x2="76.45" y2="719.99" stroke="#5fa83a" stroke-width="0.9"/>
<line x1="75.15" y1="719.99" x2="77.75" y2="719.99" stroke="#5fa83a" stroke-width="0.9"/>
<line x1="76.45" y1="721.67" x2="76.45" y2="723.36" stroke="#5fa83a" stroke-width="0.9"/>
<line x1="75.15" y1="723.36" x2="77.75" y2="723.36" stroke="#5fa83a" stroke-width="0.9"/>
<line x1="86.89" y1="721.67" x2="86.89" y2="719.99" stroke="#5fa83a" stroke-width="0.9"/>
<line x1="85.59" y1="719.99" x2="88.19" y2="719.99" stroke="#5fa83a" stroke-width="0.9"/>
<line x1="86.89" y1="721.67" x2="86.89" y2="723.36" stroke="#5fa83a" stroke-width="0.9"/>
<line x1="85.59" y1="723.36" x2="88.19" y2="723.36" stroke="#5fa83a" stroke-width="0.9"/>
<line x1="97.33" y1="704.25" x2="97.33" y2="702.56" stroke="#5fa83a" stroke-width="0.9"/>
<line x1="96.03" y1="702.56" x2="98.63" y2="702.56" stroke="#5fa83a" stroke-width="0.9"/>
<line x1="97.33" y1="704.25" x2="97.33" y2="705.94" stroke="#5fa83a" stroke-width="0.9"/>
<line x1="96.03" y1="705.94" x2="98.63" y2="705.94" stroke="#5fa83a" stroke-width="0.9"/>
<line x1="107.77" y1="701.44" x2="107.77" y2="699.75" stroke="#5fa83a" stroke-width="0.9"/>
<line x1="106.47" y1="699.75" x2="109.06" y2="699.75" stroke="#5fa83a" stroke-width="0.9"/>
<line x1="107.77" y1="701.44" x2="107.77" y2="703.13" stroke="#5fa83a" stroke-width="0.9"/>
<line x1="106.47" y1="703.13" x2="109.06" y2="703.13" stroke="#5fa83a" stroke-width="0.9"/>
<line x1="118.20" y1="696.94" x2="118.20" y2="695.26" stroke="#5fa83a" stroke-width="0.9"/>
<line x1="116.90" y1="695.26" x2="119.50" y2="695.26" stroke="#5fa83a" stroke-width="0.9"/>
<line x1="118.20" y1="696.94" x2="118.20" y2="698.63" stroke="#5fa83a" stroke-width="0.9"/>
<line x1="116.90" y1="698.63" x2="119.50" y2="698.63" stroke="#5fa83a" stroke-width="0.9"/>
<line x1="127.84" y1="696.38" x2="127.84" y2="694.70" stroke="#5fa83a" stroke-width="0.9"/>
<line x1="126.54" y1="694.70" x2="129.14" y2="694.70" stroke="#5fa83a" stroke-width="0.9"/>
<line x1="127.84" y1="696.38" x2="127.84" y2="698.07" stroke="#5fa83a" stroke-width="0.9"/>
<line x1="126.54" y1="698.07" x2="129.14" y2="698.07" stroke="#5fa83a" stroke-width="0.9"/>
<line x1="138.28" y1="694.70" x2="138.28" y2="693.01" stroke="#5fa83a" stroke-width="0.9"/>
<line x1="136.98" y1="693.01" x2="139.58" y2="693.01" stroke="#5fa83a" stroke-width="0.9"/>
<line x1="138.28" y1="694.70" x2="138.28" y2="696.38" stroke="#5fa83a" stroke-width="0.9"/>
<line x1="136.98" y1="696.38" x2="139.58" y2="696.38" stroke="#5fa83a" stroke-width="0.9"/>
<line x1="148.72" y1="693.57" x2="148.72" y2="691.89" stroke="#5fa83a" stroke-width="0.9"/>
<line x1="147.42" y1="691.89" x2="150.02" y2="691.89" stroke="#5fa83a" stroke-width="0.9"/>
<line x1="148.72" y1="693.57" x2="148.72" y2="695.26" stroke="#5fa83a" stroke-width="0.9"/>
<line x1="147.42" y1="695.26" x2="150.02" y2="695.26" stroke="#5fa83a" stroke-width="0.9"/>
<line x1="159.16" y1="694.70" x2="159.16" y2="693.01" stroke="#5fa83a" stroke-width="0.9"/>
<line x1="157.86" y1="693.01" x2="160.46" y2="693.01" stroke="#5fa83a" stroke-width="0.9"/>
<line x1="159.16" y1="694.70" x2="159.16" y2="696.38" stroke="#5fa83a" stroke-width="0.9"/>
<line x1="157.86" y1="696.38" x2="160.46" y2="696.38" stroke="#5fa83a" stroke-width="0.9"/>
<line x1="169.60" y1="695.26" x2="169.60" y2="693.57" stroke="#5fa83a" stroke-width="0.9"/>
<line x1="168.30" y1="693.57" x2="170.90" y2="693.57" stroke="#5fa83a" stroke-width="0.9"/>
<line x1="169.60" y1="695.26" x2="169.60" y2="696.94" stroke="#5fa83a" stroke-width="0.9"/>
<line x1="168.30" y1="696.94" x2="170.90" y2="696.94" stroke="#5fa83a" stroke-width="0.9"/>
<line x1="180.03" y1="695.82" x2="180.03" y2="694.13" stroke="#5fa83a" stroke-width="0.9"/>
<line x1="178.73" y1="694.13" x2="181.34" y2="694.13" stroke="#5fa83a" stroke-width="0.9"/>
<line x1="180.03" y1="695.82" x2="180.03" y2="697.51" stroke="#5fa83a" stroke-width="0.9"/>
<line x1="178.73" y1="697.51" x2="181.34" y2="697.51" stroke="#5fa83a" stroke-width="0.9"/>
<path d="M66.01,721.67 L76.45,721.67 L86.89,721.67 L97.33,704.25 L107.77,701.44 L118.20,696.94 L127.84,696.38 L138.28,694.70 L148.72,693.57 L159.16,694.70 L169.60,695.26 L180.03,695.82" fill="none" stroke="#5fa83a" stroke-width="1.4" stroke-linejoin="round"/>
<path d="M66.01,719.75 L67.77,722.95 L64.25,722.95 Z" fill="#5fa83a" stroke="none" stroke-width="1"/>
<path d="M76.45,719.75 L78.21,722.95 L74.69,722.95 Z" fill="#5fa83a" stroke="none" stroke-width="1"/>
<path d="M86.89,719.75 L88.65,722.95 L85.13,722.95 Z" fill="#5fa83a" stroke="none" stroke-width="1"/>
<path d="M97.33,702.33 L99.09,705.53 L95.57,705.53 Z" fill="#5fa83a" stroke="none" stroke-width="1"/>
<path d="M107.77,699.52 L109.53,702.72 L106.00,702.72 Z" fill="#5fa83a" stroke="none" stroke-width="1"/>
<path d="M118.20,695.02 L119.96,698.22 L116.44,698.22 Z" fill="#5fa83a" stroke="none" stroke-width="1"/>
<path d="M127.84,694.46 L129.60,697.66 L126.08,697.66 Z" fill="#5fa83a" stroke="none" stroke-width="1"/>
<path d="M138.28,692.78 L140.04,695.98 L136.52,695.98 Z" fill="#5fa83a" stroke="none" stroke-width="1"/>
<path d="M148.72,691.65 L150.48,694.85 L146.96,694.85 Z" fill="#5fa83a" stroke="none" stroke-width="1"/>
<path d="M159.16,692.78 L160.92,695.98 L157.40,695.98 Z" fill="#5fa83a" stroke="none" stroke-width="1"/>
<path d="M169.60,693.34 L171.36,696.54 L167.84,696.54 Z" fill="#5fa83a" stroke="none" stroke-width="1"/>
<path d="M180.03,693.90 L181.79,697.10 L178.28,697.10 Z" fill="#5fa83a" stroke="none" stroke-width="1"/>
<line x1="66.01" y1="722.80" x2="66.01" y2="721.11" stroke="#1f4a8a" stroke-width="0.9"/>
<line x1="64.71" y1="721.11" x2="67.31" y2="721.11" stroke="#1f4a8a" stroke-width="0.9"/>
<line x1="66.01" y1="722.80" x2="66.01" y2="724.48" stroke="#1f4a8a" stroke-width="0.9"/>
<line x1="64.71" y1="724.48" x2="67.31" y2="724.48" stroke="#1f4a8a" stroke-width="0.9"/>
<line x1="76.45" y1="722.80" x2="76.45" y2="721.11" stroke="#1f4a8a" stroke-width="0.9"/>
<line x1="75.15" y1="721.11" x2="77.75" y2="721.11" stroke="#1f4a8a" stroke-width="0.9"/>
<line x1="76.45" y1="722.80" x2="76.45" y2="724.48" stroke="#1f4a8a" stroke-width="0.9"/>
<line x1="75.15" y1="724.48" x2="77.75" y2="724.48" stroke="#1f4a8a" stroke-width="0.9"/>
<line x1="86.89" y1="722.80" x2="86.89" y2="721.11" stroke="#1f4a8a" stroke-width="0.9"/>
<line x1="85.59" y1="721.11" x2="88.19" y2="721.11" stroke="#1f4a8a" stroke-width="0.9"/>
<line x1="86.89" y1="722.80" x2="86.89" y2="724.48" stroke="#1f4a8a" stroke-width="0.9"/>
<line x1="85.59" y1="724.48" x2="88.19" y2="724.48" stroke="#1f4a8a" stroke-width="0.9"/>
<line x1="97.33" y1="707.06" x2="97.33" y2="704.81" stroke="#1f4a8a" stroke-width="0.9"/>
<line x1="96.03" y1="704.81" x2="98.63" y2="704.81" stroke="#1f4a8a" stroke-width="0.9"/>
<line x1="97.33" y1="707.06" x2="97.33" y2="709.31" stroke="#1f4a8a" stroke-width="0.9"/>
<line x1="96.03" y1="709.31" x2="98.63" y2="709.31" stroke="#1f4a8a" stroke-width="0.9"/>
<line x1="107.77" y1="704.25" x2="107.77" y2="701.44" stroke="#1f4a8a" stroke-width="0.9"/>
<line x1="106.47" y1="701.44" x2="109.06" y2="701.44" stroke="#1f4a8a" stroke-width="0.9"/>
<line x1="107.77" y1="704.25" x2="107.77" y2="707.06" stroke="#1f4a8a" stroke-width="0.9"/>
<line x1="106.47" y1="707.06" x2="109.06" y2="707.06" stroke="#1f4a8a" stroke-width="0.9"/>
<line x1="118.20" y1="700.32" x2="118.20" y2="697.51" stroke="#1f4a8a" stroke-width="0.9"/>
<line x1="116.90" y1="697.51" x2="119.50" y2="697.51" stroke="#1f4a8a" stroke-width="0.9"/>
<line x1="118.20" y1="700.32" x2="118.20" y2="703.13" stroke="#1f4a8a" stroke-width="0.9"/>
<line x1="116.90" y1="703.13" x2="119.50" y2="703.13" stroke="#1f4a8a" stroke-width="0.9"/>
<line x1="127.84" y1="698.07" x2="127.84" y2="694.70" stroke="#1f4a8a" stroke-width="0.9"/>
<line x1="126.54" y1="694.70" x2="129.14" y2="694.70" stroke="#1f4a8a" stroke-width="0.9"/>
<line x1="127.84" y1="698.07" x2="127.84" y2="701.44" stroke="#1f4a8a" stroke-width="0.9"/>
<line x1="126.54" y1="701.44" x2="129.14" y2="701.44" stroke="#1f4a8a" stroke-width="0.9"/>
<line x1="138.28" y1="696.94" x2="138.28" y2="693.57" stroke="#1f4a8a" stroke-width="0.9"/>
<line x1="136.98" y1="693.57" x2="139.58" y2="693.57" stroke="#1f4a8a" stroke-width="0.9"/>
<line x1="138.28" y1="696.94" x2="138.28" y2="700.32" stroke="#1f4a8a" stroke-width="0.9"/>
<line x1="136.98" y1="700.32" x2="139.58" y2="700.32" stroke="#1f4a8a" stroke-width="0.9"/>
<line x1="148.72" y1="695.82" x2="148.72" y2="692.45" stroke="#1f4a8a" stroke-width="0.9"/>
<line x1="147.42" y1="692.45" x2="150.02" y2="692.45" stroke="#1f4a8a" stroke-width="0.9"/>
<line x1="148.72" y1="695.82" x2="148.72" y2="699.19" stroke="#1f4a8a" stroke-width="0.9"/>
<line x1="147.42" y1="699.19" x2="150.02" y2="699.19" stroke="#1f4a8a" stroke-width="0.9"/>
<line x1="159.16" y1="697.51" x2="159.16" y2="694.13" stroke="#1f4a8a" stroke-width="0.9"/>
<line x1="157.86" y1="694.13" x2="160.46" y2="694.13" stroke="#1f4a8a" stroke-width="0.9"/>
<line x1="159.16" y1="697.51" x2="159.16" y2="700.88" stroke="#1f4a8a" stroke-width="0.9"/>
<line x1="157.86" y1="700.88" x2="160.46" y2="700.88" stroke="#1f4a8a" stroke-width="0.9"/>
<line x1="169.60" y1="698.07" x2="169.60" y2="694.70" stroke="#1f4a8a" stroke-width="0.9"/>
<line x1="168.30" y1="694.70" x2="170.90" y2="694.70" stroke="#1f4a8a" stroke-width="0.9"/>
<line x1="169.60" y1="698.07" x2="169.60" y2="701.44" stroke="#1f4a8a" stroke-width="0.9"/>
<line x1="168.30" y1="701.44" x2="170.90" y2="701.44" stroke="#1f4a8a" stroke-width="0.9"/>
<line x1="180.03" y1="698.07" x2="180.03" y2="694.70" stroke="#1f4a8a" stroke-width="0.9"/>
<line x1="178.73" y1="694.70" x2="181.34" y2="694.70" stroke="#1f4a8a" stroke-width="0.9"/>
<line x1="180.03" y1="698.07" x2="180.03" y2="701.44" stroke="#1f4a8a" stroke-width="0.9"/>
<line x1="178.73" y1="701.44" x2="181.34" y2="701.44" stroke="#1f4a8a" stroke-width="0.9"/>
<path d="M66.01,722.80 L76.45,722.80 L86.89,722.80 L97.33,707.06 L107.77,704.25 L118.20,700.32 L127.84,698.07 L138.28,696.94 L148.72,695.82 L159.16,697.51 L169.60,698.07 L180.03,698.07" fill="none" stroke="#1f4a8a" stroke-width="1.4" stroke-linejoin="round"/>
<rect x="64.21" y="721.00" width="3.60" height="3.60" fill="#1f4a8a"/>
<rect x="74.65" y="721.00" width="3.60" height="3.60" fill="#1f4a8a"/>
<rect x="85.09" y="721.00" width="3.60" height="3.60" fill="#1f4a8a"/>
<rect x="95.53" y="705.26" width="3.60" height="3.60" fill="#1f4a8a"/>
<rect x="105.97" y="702.45" width="3.60" height="3.60" fill="#1f4a8a"/>
<rect x="116.40" y="698.52" width="3.60" height="3.60" fill="#1f4a8a"/>
<rect x="126.04" y="696.27" width="3.60" height="3.60" fill="#1f4a8a"/>
<rect x="136.48" y="695.14" width="3.60" height="3.60" fill="#1f4a8a"/>
<rect x="146.92" y="694.02" width="3.60" height="3.60" fill="#1f4a8a"/>
<rect x="157.36" y="695.71" width="3.60" height="3.60" fill="#1f4a8a"/>
<rect x="167.80" y="696.27" width="3.60" height="3.60" fill="#1f4a8a"/>
<rect x="178.23" y="696.27" width="3.60" height="3.60" fill="#1f4a8a"/>
<line x1="63.60" y1="659.20" x2="63.60" y2="747.00" stroke="#231f20" stroke-width="1.3"/>
<line x1="63.00" y1="746.40" x2="194.50" y2="746.40" stroke="#231f20" stroke-width="1.3"/>
<line x1="60.40" y1="746.40" x2="63.60" y2="746.40" stroke="#231f20" stroke-width="1.1"/>
<text x="57.00" y="748.85" font-size="6.8" text-anchor="end" fill="#231f20" stroke="#231f20" stroke-width="0.2">0</text>
<line x1="60.40" y1="718.30" x2="63.60" y2="718.30" stroke="#231f20" stroke-width="1.1"/>
<text x="57.00" y="720.75" font-size="6.8" text-anchor="end" fill="#231f20" stroke="#231f20" stroke-width="0.2">50</text>
<line x1="60.40" y1="690.20" x2="63.60" y2="690.20" stroke="#231f20" stroke-width="1.1"/>
<text x="57.00" y="692.65" font-size="6.8" text-anchor="end" fill="#231f20" stroke="#231f20" stroke-width="0.2">100</text>
<line x1="60.40" y1="662.10" x2="63.60" y2="662.10" stroke="#231f20" stroke-width="1.1"/>
<text x="57.00" y="664.55" font-size="6.8" text-anchor="end" fill="#231f20" stroke="#231f20" stroke-width="0.2">150</text>
<line x1="63.60" y1="746.40" x2="63.60" y2="748.90" stroke="#231f20" stroke-width="1"/>
<line x1="95.72" y1="746.40" x2="95.72" y2="748.90" stroke="#231f20" stroke-width="1"/>
<line x1="127.84" y1="746.40" x2="127.84" y2="748.90" stroke="#231f20" stroke-width="1"/>
<line x1="159.96" y1="746.40" x2="159.96" y2="748.90" stroke="#231f20" stroke-width="1"/>
<line x1="192.08" y1="746.40" x2="192.08" y2="748.90" stroke="#231f20" stroke-width="1"/>
<text x="95.72" y="759.40" font-size="6.8" text-anchor="middle" fill="#231f20" stroke="#231f20" stroke-width="0.2">20</text>
<text x="127.84" y="759.40" font-size="6.8" text-anchor="middle" fill="#231f20" stroke="#231f20" stroke-width="0.2">40</text>
<text x="159.96" y="759.40" font-size="6.8" text-anchor="middle" fill="#231f20" stroke="#231f20" stroke-width="0.2">60</text>
<text x="192.08" y="759.40" font-size="6.8" text-anchor="middle" fill="#231f20" stroke="#231f20" stroke-width="0.2">80</text>
<rect x="234.00" y="321.10" width="13.60" height="36.40" fill="#e5e5e7"/>
<circle cx="240.80" cy="309.00" r="1.12" fill="none" stroke="#b8b8bb" stroke-width="0.6"/>
<circle cx="243.30" cy="314.00" r="1.12" fill="none" stroke="#b8b8bb" stroke-width="0.6"/>
<circle cx="238.80" cy="318.00" r="1.12" fill="none" stroke="#b8b8bb" stroke-width="0.6"/>
<circle cx="243.80" cy="318.00" r="1.12" fill="none" stroke="#b8b8bb" stroke-width="0.6"/>
<circle cx="240.80" cy="322.00" r="1.12" fill="none" stroke="#b8b8bb" stroke-width="0.6"/>
<circle cx="237.80" cy="332.00" r="1.12" fill="none" stroke="#b8b8bb" stroke-width="0.6"/>
<circle cx="243.80" cy="331.00" r="1.12" fill="none" stroke="#b8b8bb" stroke-width="0.6"/>
<line x1="240.80" y1="321.10" x2="240.80" y2="309.00" stroke="#c8c8cb" stroke-width="1.15"/>
<line x1="237.60" y1="309.00" x2="244.00" y2="309.00" stroke="#c8c8cb" stroke-width="1.15"/>
<line x1="240.80" y1="321.10" x2="240.80" y2="327.30" stroke="#c8c8cb" stroke-width="1.15"/>
<line x1="237.60" y1="327.30" x2="244.00" y2="327.30" stroke="#c8c8cb" stroke-width="1.15"/>
<rect x="256.20" y="321.60" width="13.80" height="35.90" fill="#8692bf"/>
<rect x="261.85" y="306.25" width="2.50" height="2.50" fill="#1d3f82"/>
<rect x="261.85" y="308.75" width="2.50" height="2.50" fill="#1d3f82"/>
<rect x="260.35" y="315.25" width="2.50" height="2.50" fill="#1d3f82"/>
<rect x="263.85" y="316.75" width="2.50" height="2.50" fill="#1d3f82"/>
<rect x="258.35" y="320.75" width="2.50" height="2.50" fill="#1d3f82"/>
<rect x="261.85" y="321.75" width="2.50" height="2.50" fill="#1d3f82"/>
<rect x="265.35" y="320.75" width="2.50" height="2.50" fill="#1d3f82"/>
<rect x="258.35" y="325.75" width="2.50" height="2.50" fill="#1d3f82"/>
<rect x="265.35" y="326.75" width="2.50" height="2.50" fill="#1d3f82"/>
<rect x="261.85" y="328.75" width="2.50" height="2.50" fill="#1d3f82"/>
<line x1="263.10" y1="321.60" x2="263.10" y2="313.50" stroke="#1d3f82" stroke-width="1.15"/>
<line x1="259.90" y1="313.50" x2="266.30" y2="313.50" stroke="#1d3f82" stroke-width="1.15"/>
<line x1="263.10" y1="321.60" x2="263.10" y2="327.70" stroke="#1d3f82" stroke-width="1.15"/>
<line x1="259.90" y1="327.70" x2="266.30" y2="327.70" stroke="#1d3f82" stroke-width="1.15"/>
<rect x="279.00" y="319.40" width="13.20" height="38.10" fill="#b4d49d"/>
<path d="M285.60,302.62 L286.85,305.00 L284.35,305.00 Z" fill="#5aaa3a" stroke="none" stroke-width="1"/>
<path d="M289.10,306.62 L290.35,309.00 L287.85,309.00 Z" fill="#5aaa3a" stroke="none" stroke-width="1"/>
<path d="M283.10,311.62 L284.35,314.00 L281.85,314.00 Z" fill="#5aaa3a" stroke="none" stroke-width="1"/>
<path d="M288.60,320.62 L289.85,323.00 L287.35,323.00 Z" fill="#5aaa3a" stroke="none" stroke-width="1"/>
<path d="M285.60,330.62 L286.85,333.00 L284.35,333.00 Z" fill="#5aaa3a" stroke="none" stroke-width="1"/>
<line x1="285.60" y1="319.40" x2="285.60" y2="309.00" stroke="#5aaa3a" stroke-width="1.15"/>
<line x1="282.40" y1="309.00" x2="288.80" y2="309.00" stroke="#5aaa3a" stroke-width="1.15"/>
<line x1="285.60" y1="319.40" x2="285.60" y2="327.70" stroke="#5aaa3a" stroke-width="1.15"/>
<line x1="282.40" y1="327.70" x2="288.80" y2="327.70" stroke="#5aaa3a" stroke-width="1.15"/>
<rect x="301.60" y="330.80" width="13.00" height="26.70" fill="#d77f73"/>
<path d="M308.10,324.38 L309.35,322.00 L306.85,322.00 Z" fill="#b5163a" stroke="none" stroke-width="1"/>
<path d="M306.10,329.38 L307.35,327.00 L304.85,327.00 Z" fill="#b5163a" stroke="none" stroke-width="1"/>
<path d="M310.10,331.38 L311.35,329.00 L308.85,329.00 Z" fill="#b5163a" stroke="none" stroke-width="1"/>
<path d="M306.10,333.38 L307.35,331.00 L304.85,331.00 Z" fill="#b5163a" stroke="none" stroke-width="1"/>
<path d="M308.10,334.38 L309.35,332.00 L306.85,332.00 Z" fill="#b5163a" stroke="none" stroke-width="1"/>
<line x1="308.10" y1="330.80" x2="308.10" y2="326.50" stroke="#b5163a" stroke-width="1.15"/>
<line x1="304.90" y1="326.50" x2="311.30" y2="326.50" stroke="#b5163a" stroke-width="1.15"/>
<line x1="308.10" y1="330.80" x2="308.10" y2="333.70" stroke="#b5163a" stroke-width="1.15"/>
<line x1="304.90" y1="333.70" x2="311.30" y2="333.70" stroke="#b5163a" stroke-width="1.15"/>
<line x1="225.40" y1="279.40" x2="225.40" y2="358.10" stroke="#231f20" stroke-width="1.3"/>
<line x1="224.80" y1="357.50" x2="321.00" y2="357.50" stroke="#231f20" stroke-width="1.3"/>
<line x1="222.20" y1="357.50" x2="225.40" y2="357.50" stroke="#231f20" stroke-width="1.1"/>
<text x="219.80" y="359.95" font-size="6.8" text-anchor="end" fill="#231f20" stroke="#231f20" stroke-width="0.2">0</text>
<line x1="222.20" y1="338.60" x2="225.40" y2="338.60" stroke="#231f20" stroke-width="1.1"/>
<text x="219.80" y="341.05" font-size="6.8" text-anchor="end" fill="#231f20" stroke="#231f20" stroke-width="0.2">100</text>
<line x1="222.20" y1="319.70" x2="225.40" y2="319.70" stroke="#231f20" stroke-width="1.1"/>
<text x="219.80" y="322.15" font-size="6.8" text-anchor="end" fill="#231f20" stroke="#231f20" stroke-width="0.2">200</text>
<line x1="222.20" y1="300.80" x2="225.40" y2="300.80" stroke="#231f20" stroke-width="1.1"/>
<text x="219.80" y="303.25" font-size="6.8" text-anchor="end" fill="#231f20" stroke="#231f20" stroke-width="0.2">300</text>
<line x1="222.20" y1="281.90" x2="225.40" y2="281.90" stroke="#231f20" stroke-width="1.1"/>
<text x="219.80" y="284.35" font-size="6.8" text-anchor="end" fill="#231f20" stroke="#231f20" stroke-width="0.2">400</text>
<line x1="240.80" y1="357.50" x2="240.80" y2="360.00" stroke="#231f20" stroke-width="1"/>
<line x1="263.10" y1="357.50" x2="263.10" y2="360.00" stroke="#231f20" stroke-width="1"/>
<line x1="285.60" y1="357.50" x2="285.60" y2="360.00" stroke="#231f20" stroke-width="1"/>
<line x1="308.10" y1="357.50" x2="308.10" y2="360.00" stroke="#231f20" stroke-width="1"/>
<path d="M240.80,284.50 V277.60 H310.90 V284.50" fill="none" stroke="#333" stroke-width="1.25"/>
<text x="275.80" y="274.80" font-size="5.9" text-anchor="middle" fill="#231f20" stroke="#231f20" stroke-width="0.2" textLength="25.3" lengthAdjust="spacingAndGlyphs">P=0.0281</text>
<path d="M266.50,293.80 V287.70 H310.90 V293.80" fill="none" stroke="#333" stroke-width="1.25"/>
<text x="289.00" y="284.90" font-size="5.9" text-anchor="middle" fill="#231f20" stroke="#231f20" stroke-width="0.2" textLength="19.1" lengthAdjust="spacingAndGlyphs">P=0.03</text>
<path d="M283.50,303.00 V296.80 H310.90 V303.00" fill="none" stroke="#333" stroke-width="1.25"/>
<text x="296.90" y="294.00" font-size="5.9" text-anchor="middle" fill="#231f20" stroke="#231f20" stroke-width="0.2" textLength="25.4" lengthAdjust="spacingAndGlyphs">P=0.0041</text>
<rect x="234.00" y="444.00" width="13.60" height="31.00" fill="#e5e5e7"/>
<circle cx="239.30" cy="422.30" r="1.12" fill="none" stroke="#b8b8bb" stroke-width="0.6"/>
<circle cx="242.30" cy="422.30" r="1.12" fill="none" stroke="#b8b8bb" stroke-width="0.6"/>
<circle cx="240.80" cy="435.00" r="1.12" fill="none" stroke="#b8b8bb" stroke-width="0.6"/>
<circle cx="240.80" cy="438.00" r="1.12" fill="none" stroke="#b8b8bb" stroke-width="0.6"/>
<circle cx="240.80" cy="447.00" r="1.12" fill="none" stroke="#b8b8bb" stroke-width="0.6"/>
<circle cx="240.80" cy="452.00" r="1.12" fill="none" stroke="#b8b8bb" stroke-width="0.6"/>
<circle cx="240.80" cy="458.00" r="1.12" fill="none" stroke="#b8b8bb" stroke-width="0.6"/>
<circle cx="240.80" cy="465.00" r="1.12" fill="none" stroke="#b8b8bb" stroke-width="0.6"/>
<circle cx="240.80" cy="468.00" r="1.12" fill="none" stroke="#b8b8bb" stroke-width="0.6"/>
<line x1="240.80" y1="444.00" x2="240.80" y2="427.50" stroke="#c8c8cb" stroke-width="1.15"/>
<line x1="237.60" y1="427.50" x2="244.00" y2="427.50" stroke="#c8c8cb" stroke-width="1.15"/>
<line x1="240.80" y1="444.00" x2="240.80" y2="458.70" stroke="#c8c8cb" stroke-width="1.15"/>
<line x1="237.60" y1="458.70" x2="244.00" y2="458.70" stroke="#c8c8cb" stroke-width="1.15"/>
<rect x="256.20" y="444.50" width="13.80" height="30.50" fill="#8692bf"/>
<rect x="261.85" y="414.15" width="2.50" height="2.50" fill="#1d3f82"/>
<rect x="261.85" y="425.35" width="2.50" height="2.50" fill="#1d3f82"/>
<rect x="261.85" y="434.75" width="2.50" height="2.50" fill="#1d3f82"/>
<rect x="264.85" y="434.75" width="2.50" height="2.50" fill="#1d3f82"/>
<rect x="261.85" y="441.75" width="2.50" height="2.50" fill="#1d3f82"/>
<rect x="261.85" y="445.75" width="2.50" height="2.50" fill="#1d3f82"/>
<rect x="261.85" y="449.75" width="2.50" height="2.50" fill="#1d3f82"/>
<rect x="259.35" y="453.75" width="2.50" height="2.50" fill="#1d3f82"/>
<rect x="261.85" y="453.75" width="2.50" height="2.50" fill="#1d3f82"/>
<rect x="264.35" y="453.75" width="2.50" height="2.50" fill="#1d3f82"/>
<line x1="263.10" y1="444.50" x2="263.10" y2="430.60" stroke="#1d3f82" stroke-width="1.15"/>
<line x1="259.90" y1="430.60" x2="266.30" y2="430.60" stroke="#1d3f82" stroke-width="1.15"/>
<line x1="263.10" y1="444.50" x2="263.10" y2="456.60" stroke="#1d3f82" stroke-width="1.15"/>
<line x1="259.90" y1="456.60" x2="266.30" y2="456.60" stroke="#1d3f82" stroke-width="1.15"/>
<rect x="279.00" y="440.00" width="13.20" height="35.00" fill="#b4d49d"/>
<path d="M285.60,409.52 L286.85,411.90 L284.35,411.90 Z" fill="#5aaa3a" stroke="none" stroke-width="1"/>
<path d="M284.10,416.62 L285.35,419.00 L282.85,419.00 Z" fill="#5aaa3a" stroke="none" stroke-width="1"/>
<path d="M287.10,416.62 L288.35,419.00 L285.85,419.00 Z" fill="#5aaa3a" stroke="none" stroke-width="1"/>
<path d="M285.60,423.62 L286.85,426.00 L284.35,426.00 Z" fill="#5aaa3a" stroke="none" stroke-width="1"/>
<path d="M285.60,428.62 L286.85,431.00 L284.35,431.00 Z" fill="#5aaa3a" stroke="none" stroke-width="1"/>
<path d="M285.60,433.62 L286.85,436.00 L284.35,436.00 Z" fill="#5aaa3a" stroke="none" stroke-width="1"/>
<path d="M285.60,440.62 L286.85,443.00 L284.35,443.00 Z" fill="#5aaa3a" stroke="none" stroke-width="1"/>
<path d="M285.60,448.62 L286.85,451.00 L284.35,451.00 Z" fill="#5aaa3a" stroke="none" stroke-width="1"/>
<path d="M285.60,453.62 L286.85,456.00 L284.35,456.00 Z" fill="#5aaa3a" stroke="none" stroke-width="1"/>
<path d="M285.60,460.62 L286.85,463.00 L284.35,463.00 Z" fill="#5aaa3a" stroke="none" stroke-width="1"/>
<line x1="285.60" y1="440.00" x2="285.60" y2="421.40" stroke="#5aaa3a" stroke-width="1.15"/>
<line x1="282.40" y1="421.40" x2="288.80" y2="421.40" stroke="#5aaa3a" stroke-width="1.15"/>
<line x1="285.60" y1="440.00" x2="285.60" y2="456.60" stroke="#5aaa3a" stroke-width="1.15"/>
<line x1="282.40" y1="456.60" x2="288.80" y2="456.60" stroke="#5aaa3a" stroke-width="1.15"/>
<rect x="301.60" y="457.80" width="13.00" height="17.20" fill="#d77f73"/>
<path d="M308.10,444.38 L309.35,442.00 L306.85,442.00 Z" fill="#b5163a" stroke="none" stroke-width="1"/>
<path d="M308.10,450.38 L309.35,448.00 L306.85,448.00 Z" fill="#b5163a" stroke="none" stroke-width="1"/>
<path d="M306.60,454.38 L307.85,452.00 L305.35,452.00 Z" fill="#b5163a" stroke="none" stroke-width="1"/>
<path d="M308.10,458.38 L309.35,456.00 L306.85,456.00 Z" fill="#b5163a" stroke="none" stroke-width="1"/>
<path d="M308.10,461.38 L309.35,459.00 L306.85,459.00 Z" fill="#b5163a" stroke="none" stroke-width="1"/>
<path d="M308.10,464.38 L309.35,462.00 L306.85,462.00 Z" fill="#b5163a" stroke="none" stroke-width="1"/>
<path d="M308.10,467.38 L309.35,465.00 L306.85,465.00 Z" fill="#b5163a" stroke="none" stroke-width="1"/>
<line x1="308.10" y1="457.80" x2="308.10" y2="448.60" stroke="#b5163a" stroke-width="1.15"/>
<line x1="304.90" y1="448.60" x2="311.30" y2="448.60" stroke="#b5163a" stroke-width="1.15"/>
<line x1="308.10" y1="457.80" x2="308.10" y2="464.70" stroke="#b5163a" stroke-width="1.15"/>
<line x1="304.90" y1="464.70" x2="311.30" y2="464.70" stroke="#b5163a" stroke-width="1.15"/>
<line x1="225.40" y1="389.40" x2="225.40" y2="475.60" stroke="#231f20" stroke-width="1.3"/>
<line x1="224.80" y1="475.00" x2="321.00" y2="475.00" stroke="#231f20" stroke-width="1.3"/>
<line x1="222.20" y1="475.00" x2="225.40" y2="475.00" stroke="#231f20" stroke-width="1.1"/>
<text x="219.80" y="477.45" font-size="6.8" text-anchor="end" fill="#231f20" stroke="#231f20" stroke-width="0.2">0</text>
<line x1="222.20" y1="458.60" x2="225.40" y2="458.60" stroke="#231f20" stroke-width="1.1"/>
<text x="219.80" y="461.05" font-size="6.8" text-anchor="end" fill="#231f20" stroke="#231f20" stroke-width="0.2">50</text>
<line x1="222.20" y1="442.20" x2="225.40" y2="442.20" stroke="#231f20" stroke-width="1.1"/>
<text x="219.80" y="444.65" font-size="6.8" text-anchor="end" fill="#231f20" stroke="#231f20" stroke-width="0.2">100</text>
<line x1="222.20" y1="425.80" x2="225.40" y2="425.80" stroke="#231f20" stroke-width="1.1"/>
<text x="219.80" y="428.25" font-size="6.8" text-anchor="end" fill="#231f20" stroke="#231f20" stroke-width="0.2">150</text>
<line x1="222.20" y1="409.40" x2="225.40" y2="409.40" stroke="#231f20" stroke-width="1.1"/>
<text x="219.80" y="411.85" font-size="6.8" text-anchor="end" fill="#231f20" stroke="#231f20" stroke-width="0.2">200</text>
<line x1="222.20" y1="393.00" x2="225.40" y2="393.00" stroke="#231f20" stroke-width="1.1"/>
<text x="219.80" y="395.45" font-size="6.8" text-anchor="end" fill="#231f20" stroke="#231f20" stroke-width="0.2">250</text>
<line x1="240.80" y1="475.00" x2="240.80" y2="477.50" stroke="#231f20" stroke-width="1"/>
<line x1="263.10" y1="475.00" x2="263.10" y2="477.50" stroke="#231f20" stroke-width="1"/>
<line x1="285.60" y1="475.00" x2="285.60" y2="477.50" stroke="#231f20" stroke-width="1"/>
<line x1="308.10" y1="475.00" x2="308.10" y2="477.50" stroke="#231f20" stroke-width="1"/>
<path d="M240.80,390.20 V383.50 H310.90 V390.20" fill="none" stroke="#333" stroke-width="1.25"/>
<text x="275.80" y="380.70" font-size="5.9" text-anchor="middle" fill="#231f20" stroke="#231f20" stroke-width="0.2" textLength="25.3" lengthAdjust="spacingAndGlyphs">P=0.0223</text>
<path d="M266.80,399.40 V392.90 H310.90 V399.40" fill="none" stroke="#333" stroke-width="1.25"/>
<text x="288.80" y="390.10" font-size="5.9" text-anchor="middle" fill="#231f20" stroke="#231f20" stroke-width="0.2" textLength="26.1" lengthAdjust="spacingAndGlyphs">P=0.0066</text>
<path d="M283.50,408.90 V402.50 H310.90 V408.90" fill="none" stroke="#333" stroke-width="1.25"/>
<text x="296.90" y="399.70" font-size="5.9" text-anchor="middle" fill="#231f20" stroke="#231f20" stroke-width="0.2" textLength="17" lengthAdjust="spacingAndGlyphs">P=0.01</text>
<text x="0" y="0" font-size="7.2" text-anchor="end" fill="#231f20" stroke="#231f20" stroke-width="0.2" transform="translate(243.60,484.60) rotate(-45)" textLength="33" lengthAdjust="spacingAndGlyphs">Untreated</text>
<text x="0" y="0" font-size="7.2" text-anchor="end" fill="#231f20" stroke="#231f20" stroke-width="0.2" transform="translate(265.90,484.60) rotate(-45)" textLength="14.2" lengthAdjust="spacingAndGlyphs">SLC</text>
<text x="0" y="0" font-size="7.2" text-anchor="end" fill="#231f20" stroke="#231f20" stroke-width="0.2" transform="translate(288.40,484.60) rotate(-45)" textLength="14.8" lengthAdjust="spacingAndGlyphs">VEN</text>
<text x="0" y="0" font-size="7.2" text-anchor="end" fill="#231f20" stroke="#231f20" stroke-width="0.2" transform="translate(310.90,484.60) rotate(-45)" textLength="31.5" lengthAdjust="spacingAndGlyphs">SLC+VEN</text>
<rect x="386.90" y="295.00" width="12.30" height="62.50" fill="#e5e5e7"/>
<circle cx="390.05" cy="295.30" r="1.12" fill="none" stroke="#b8b8bb" stroke-width="0.6"/>
<circle cx="393.05" cy="295.30" r="1.12" fill="none" stroke="#b8b8bb" stroke-width="0.6"/>
<circle cx="396.05" cy="295.30" r="1.12" fill="none" stroke="#b8b8bb" stroke-width="0.6"/>
<rect x="408.90" y="298.00" width="12.20" height="59.50" fill="#8692bf"/>
<rect x="413.75" y="286.25" width="2.50" height="2.50" fill="#1d3f82"/>
<rect x="413.75" y="298.75" width="2.50" height="2.50" fill="#1d3f82"/>
<rect x="413.75" y="302.75" width="2.50" height="2.50" fill="#1d3f82"/>
<line x1="415.00" y1="298.00" x2="415.00" y2="287.00" stroke="#1d3f82" stroke-width="1.15"/>
<line x1="411.80" y1="287.00" x2="418.20" y2="287.00" stroke="#1d3f82" stroke-width="1.15"/>
<rect x="430.80" y="308.00" width="12.20" height="49.50" fill="#b4d49d"/>
<path d="M436.90,300.62 L438.15,303.00 L435.65,303.00 Z" fill="#5aaa3a" stroke="none" stroke-width="1"/>
<path d="M436.90,311.62 L438.15,314.00 L435.65,314.00 Z" fill="#5aaa3a" stroke="none" stroke-width="1"/>
<line x1="436.90" y1="308.00" x2="436.90" y2="299.60" stroke="#5aaa3a" stroke-width="1.15"/>
<line x1="433.70" y1="299.60" x2="440.10" y2="299.60" stroke="#5aaa3a" stroke-width="1.15"/>
<rect x="452.70" y="317.00" width="12.30" height="40.50" fill="#d77f73"/>
<path d="M458.85,310.98 L460.10,308.60 L457.60,308.60 Z" fill="#b5163a" stroke="none" stroke-width="1"/>
<path d="M458.85,316.88 L460.10,314.50 L457.60,314.50 Z" fill="#b5163a" stroke="none" stroke-width="1"/>
<path d="M458.85,325.98 L460.10,323.60 L457.60,323.60 Z" fill="#b5163a" stroke="none" stroke-width="1"/>
<line x1="458.85" y1="317.00" x2="458.85" y2="309.00" stroke="#b5163a" stroke-width="1.15"/>
<line x1="455.65" y1="309.00" x2="462.05" y2="309.00" stroke="#b5163a" stroke-width="1.15"/>
<line x1="379.20" y1="278.80" x2="379.20" y2="358.10" stroke="#231f20" stroke-width="1.3"/>
<line x1="378.60" y1="357.50" x2="471.50" y2="357.50" stroke="#231f20" stroke-width="1.3"/>
<line x1="376.00" y1="357.50" x2="379.20" y2="357.50" stroke="#231f20" stroke-width="1.1"/>
<text x="372.50" y="359.95" font-size="6.8" text-anchor="end" fill="#231f20" stroke="#231f20" stroke-width="0.2">0</text>
<line x1="376.00" y1="332.20" x2="379.20" y2="332.20" stroke="#231f20" stroke-width="1.1"/>
<text x="372.50" y="334.65" font-size="6.8" text-anchor="end" fill="#231f20" stroke="#231f20" stroke-width="0.2">40</text>
<line x1="376.00" y1="306.90" x2="379.20" y2="306.90" stroke="#231f20" stroke-width="1.1"/>
<text x="372.50" y="309.35" font-size="6.8" text-anchor="end" fill="#231f20" stroke="#231f20" stroke-width="0.2">80</text>
<line x1="376.00" y1="281.60" x2="379.20" y2="281.60" stroke="#231f20" stroke-width="1.1"/>
<text x="372.50" y="284.05" font-size="6.8" text-anchor="end" fill="#231f20" stroke="#231f20" stroke-width="0.2">120</text>
<line x1="393.05" y1="357.50" x2="393.05" y2="360.00" stroke="#231f20" stroke-width="1"/>
<line x1="415.00" y1="357.50" x2="415.00" y2="360.00" stroke="#231f20" stroke-width="1"/>
<line x1="436.90" y1="357.50" x2="436.90" y2="360.00" stroke="#231f20" stroke-width="1"/>
<line x1="458.85" y1="357.50" x2="458.85" y2="360.00" stroke="#231f20" stroke-width="1"/>
<path d="M390.80,286.50 V279.50 H459.60 V283.50" fill="none" stroke="#333" stroke-width="1.25"/>
<text x="425.20" y="276.70" font-size="5.9" text-anchor="middle" fill="#231f20" stroke="#231f20" stroke-width="0.2" textLength="25.6" lengthAdjust="spacingAndGlyphs">P=0.0165</text>
<path d="M435.50,294.90 V288.80 H459.60 V294.90" fill="none" stroke="#333" stroke-width="1.25"/>
<text x="445.00" y="286.00" font-size="5.9" text-anchor="middle" fill="#231f20" stroke="#231f20" stroke-width="0.2" textLength="26.2" lengthAdjust="spacingAndGlyphs">P=0.0293</text>
<rect x="386.90" y="428.00" width="12.30" height="52.40" fill="#e5e5e7"/>
<circle cx="390.05" cy="427.40" r="1.12" fill="none" stroke="#b8b8bb" stroke-width="0.6"/>
<circle cx="393.05" cy="427.40" r="1.12" fill="none" stroke="#b8b8bb" stroke-width="0.6"/>
<circle cx="396.05" cy="427.40" r="1.12" fill="none" stroke="#b8b8bb" stroke-width="0.6"/>
<rect x="408.90" y="439.20" width="12.20" height="41.20" fill="#8692bf"/>
<rect x="413.75" y="413.45" width="2.50" height="2.50" fill="#1d3f82"/>
<rect x="413.75" y="443.95" width="2.50" height="2.50" fill="#1d3f82"/>
<rect x="413.75" y="451.25" width="2.50" height="2.50" fill="#1d3f82"/>
<line x1="415.00" y1="439.20" x2="415.00" y2="418.00" stroke="#1d3f82" stroke-width="1.15"/>
<line x1="411.80" y1="418.00" x2="418.20" y2="418.00" stroke="#1d3f82" stroke-width="1.15"/>
<rect x="430.80" y="447.30" width="12.20" height="33.10" fill="#b4d49d"/>
<path d="M436.90,433.62 L438.15,436.00 L435.65,436.00 Z" fill="#5aaa3a" stroke="none" stroke-width="1"/>
<path d="M436.90,445.43 L438.15,447.80 L435.65,447.80 Z" fill="#5aaa3a" stroke="none" stroke-width="1"/>
<path d="M436.90,455.62 L438.15,458.00 L435.65,458.00 Z" fill="#5aaa3a" stroke="none" stroke-width="1"/>
<line x1="436.90" y1="447.30" x2="436.90" y2="435.00" stroke="#5aaa3a" stroke-width="1.15"/>
<line x1="433.70" y1="435.00" x2="440.10" y2="435.00" stroke="#5aaa3a" stroke-width="1.15"/>
<rect x="452.70" y="464.20" width="12.30" height="16.20" fill="#d77f73"/>
<path d="M458.85,452.68 L460.10,450.30 L457.60,450.30 Z" fill="#b5163a" stroke="none" stroke-width="1"/>
<path d="M458.85,457.57 L460.10,455.20 L457.60,455.20 Z" fill="#b5163a" stroke="none" stroke-width="1"/>
<path d="M458.85,480.77 L460.10,478.40 L457.60,478.40 Z" fill="#b5163a" stroke="none" stroke-width="1"/>
<line x1="458.85" y1="464.20" x2="458.85" y2="447.30" stroke="#b5163a" stroke-width="1.15"/>
<line x1="455.65" y1="447.30" x2="462.05" y2="447.30" stroke="#b5163a" stroke-width="1.15"/>
<line x1="379.20" y1="397.00" x2="379.20" y2="481.00" stroke="#231f20" stroke-width="1.3"/>
<line x1="378.60" y1="480.40" x2="472.00" y2="480.40" stroke="#231f20" stroke-width="1.3"/>
<line x1="376.00" y1="480.40" x2="379.20" y2="480.40" stroke="#231f20" stroke-width="1.1"/>
<text x="372.50" y="482.85" font-size="6.8" text-anchor="end" fill="#231f20" stroke="#231f20" stroke-width="0.2">0</text>
<line x1="376.00" y1="453.70" x2="379.20" y2="453.70" stroke="#231f20" stroke-width="1.1"/>
<text x="372.50" y="456.15" font-size="6.8" text-anchor="end" fill="#231f20" stroke="#231f20" stroke-width="0.2">50</text>
<line x1="376.00" y1="427.00" x2="379.20" y2="427.00" stroke="#231f20" stroke-width="1.1"/>
<text x="372.50" y="429.45" font-size="6.8" text-anchor="end" fill="#231f20" stroke="#231f20" stroke-width="0.2">100</text>
<line x1="376.00" y1="400.30" x2="379.20" y2="400.30" stroke="#231f20" stroke-width="1.1"/>
<text x="372.50" y="402.75" font-size="6.8" text-anchor="end" fill="#231f20" stroke="#231f20" stroke-width="0.2">150</text>
<line x1="393.05" y1="480.40" x2="393.05" y2="482.90" stroke="#231f20" stroke-width="1"/>
<line x1="415.00" y1="480.40" x2="415.00" y2="482.90" stroke="#231f20" stroke-width="1"/>
<line x1="436.90" y1="480.40" x2="436.90" y2="482.90" stroke="#231f20" stroke-width="1"/>
<line x1="458.85" y1="480.40" x2="458.85" y2="482.90" stroke="#231f20" stroke-width="1"/>
<path d="M392.40,414.20 V407.80 H458.20 V414.20" fill="none" stroke="#333" stroke-width="1.25"/>
<text x="425.20" y="405.00" font-size="5.9" text-anchor="middle" fill="#231f20" stroke="#231f20" stroke-width="0.2" textLength="25.6" lengthAdjust="spacingAndGlyphs">P=0.0486</text>
<text x="0" y="0" font-size="7.2" text-anchor="end" fill="#231f20" stroke="#231f20" stroke-width="0.2" transform="translate(395.85,490.00) rotate(-45)" textLength="33" lengthAdjust="spacingAndGlyphs">Untreated</text>
<text x="0" y="0" font-size="7.2" text-anchor="end" fill="#231f20" stroke="#231f20" stroke-width="0.2" transform="translate(417.80,490.00) rotate(-45)" textLength="14.2" lengthAdjust="spacingAndGlyphs">SLC</text>
<text x="0" y="0" font-size="7.2" text-anchor="end" fill="#231f20" stroke="#231f20" stroke-width="0.2" transform="translate(439.70,490.00) rotate(-45)" textLength="14.8" lengthAdjust="spacingAndGlyphs">VEN</text>
<text x="0" y="0" font-size="7.2" text-anchor="end" fill="#231f20" stroke="#231f20" stroke-width="0.2" transform="translate(461.65,490.00) rotate(-45)" textLength="31.5" lengthAdjust="spacingAndGlyphs">SLC+VEN</text>
<text x="213.50" y="544.00" font-size="15.4" font-weight="bold" fill="#000">E</text>
<line x1="238.30" y1="531.90" x2="239.90" y2="533.50" stroke="#4a90d9" stroke-width="0.8"/>
<line x1="233.60" y1="537.50" x2="235.20" y2="539.10" stroke="#4a90d9" stroke-width="0.8"/>
<line x1="241.60" y1="535.80" x2="246.30" y2="539.50" stroke="#f0b41c" stroke-width="2.7"/>
<line x1="237.20" y1="540.60" x2="241.80" y2="544.30" stroke="#f0b41c" stroke-width="2.7"/>
<path d="M253.00,542.90 A2.3,2.3 0 1 1 253.60,541.80" fill="none" stroke="#4a90d9" stroke-width="1.25"/>
<path d="M244.60,552.00 A2.3,2.3 0 1 1 245.20,550.90" fill="none" stroke="#4a90d9" stroke-width="1.25"/>
<path d="M254.80,546.30 A1.2,1.2 0 1 0 254.50,548.40M256.55,547.90 A1.2,1.2 0 1 0 256.25,550.00M258.30,549.50 A1.2,1.2 0 1 0 258.00,551.60M260.05,551.10 A1.2,1.2 0 1 0 259.75,553.20" fill="none" stroke="#3a9a3a" stroke-width="0.8"/>
<circle cx="261.40" cy="554.40" r="1.35" fill="#2e8a3a"/>
<path d="M250.10,551.70 A1.2,1.2 0 1 0 249.80,553.80M251.85,553.30 A1.2,1.2 0 1 0 251.55,555.40M253.60,554.90 A1.2,1.2 0 1 0 253.30,557.00M255.35,556.50 A1.2,1.2 0 1 0 255.05,558.60" fill="none" stroke="#3a9a3a" stroke-width="0.8"/>
<circle cx="256.70" cy="559.80" r="1.35" fill="#2e8a3a"/>
<ellipse cx="267.80" cy="559.60" rx="3.40" ry="2.60" fill="#6a2a9a" transform="rotate(-40 267.8 559.6)"/>
<ellipse cx="262.40" cy="565.70" rx="3.40" ry="2.60" fill="#6a2a9a" transform="rotate(-40 262.4 565.7)"/>
<ellipse cx="273.50" cy="565.70" rx="3.40" ry="2.60" fill="#6a2a9a" transform="rotate(-40 273.5 565.7)"/>
<ellipse cx="268.00" cy="571.20" rx="3.40" ry="2.60" fill="#6a2a9a" transform="rotate(-40 268.0 571.2)"/>
<text x="263.80" y="549.00" font-size="8.5" fill="#231f20" stroke="#231f20" stroke-width="0.2" textLength="22.9" lengthAdjust="spacingAndGlyphs">GAS6</text>
<path d="M280.00,571.60L300.50,593.80" fill="none" stroke="#d65f18" stroke-width="2.2" stroke-dasharray="3.4 2.0"/>
<path d="M272.60,579.60L293.50,602.20" fill="none" stroke="#d65f18" stroke-width="2.2" stroke-dasharray="3.4 2.0"/>
<line x1="277.50" y1="569.60" x2="280.50" y2="572.80" stroke="#4a90d9" stroke-width="0.7"/>
<line x1="272.00" y1="575.00" x2="274.80" y2="578.00" stroke="#4a90d9" stroke-width="0.7"/>
<line x1="286.00" y1="591.50" x2="293.50" y2="598.50" stroke="#4a90d9" stroke-width="0.7"/>
<line x1="279.50" y1="598.50" x2="284.50" y2="603.60" stroke="#4a90d9" stroke-width="0.7"/>
<line x1="313.50" y1="606.00" x2="316.50" y2="609.00" stroke="#4a90d9" stroke-width="0.7"/>
<line x1="305.50" y1="614.00" x2="309.00" y2="617.50" stroke="#4a90d9" stroke-width="0.7"/>
<path d="M283.82,609.47L280.97,607.52M279.64,607.70L276.79,605.76M287.42,604.58L284.69,602.46M283.35,602.56L280.62,600.45M291.30,599.91L288.70,597.64M287.36,597.65L284.76,595.38M295.46,595.48L293.00,593.06M291.66,593.00L289.20,590.57M299.87,591.31L297.56,588.75M296.23,588.60L293.92,586.04M304.53,587.42L302.38,584.71M301.05,584.49L298.91,581.79M309.41,583.80L307.43,580.98M306.11,580.68L304.13,577.85M314.49,580.49L312.69,577.55M311.40,577.17L309.59,574.23M319.77,577.49L318.14,574.45M316.88,573.99L315.25,570.95M325.22,574.81L323.78,571.67M322.54,571.14L321.10,568.01M330.82,572.46L329.57,569.24M328.36,568.64L327.11,565.42M336.55,570.45L335.49,567.16M334.33,566.49L333.27,563.20M342.39,568.78L341.53,565.44M340.41,564.70L339.55,561.36M348.32,567.47L347.66,564.09M346.59,563.28L345.93,559.89M354.31,566.52L353.86,563.10M352.84,562.23L352.38,558.81M360.36,565.93L360.11,562.49M359.14,561.56L358.89,558.12M366.43,565.70L366.38,562.25M365.47,561.26L365.43,557.81M372.50,565.84L372.66,562.39M371.81,561.35L371.98,557.90M378.55,566.34L378.92,562.91M378.13,561.82L378.50,558.39M384.56,567.20L385.13,563.80M384.41,562.66L384.99,559.26M390.51,568.42L391.29,565.06M390.63,563.88L391.41,560.52M396.37,569.99L397.35,566.68M396.77,565.47L397.75,562.16M402.13,571.91L403.31,568.67M402.80,567.42L403.98,564.18M407.77,574.18L409.13,571.01M408.70,569.73L410.07,566.57M413.25,576.77L414.81,573.69M414.46,572.39L416.01,569.32M418.58,579.69L420.31,576.71M420.04,575.40L421.78,572.42M423.72,582.93L425.63,580.06M425.43,578.73L427.34,575.85M428.65,586.47L430.73,583.71M430.62,582.37L432.70,579.62M433.37,590.29L435.61,587.67M435.57,586.33L437.81,583.70M437.84,594.39L440.24,591.91M440.28,590.57L442.68,588.08M442.07,598.76L444.61,596.42M444.73,595.08L447.27,592.75M446.02,603.37L448.69,601.19M448.90,599.86L451.58,597.68M449.69,608.20L452.49,606.19M452.78,604.87L455.58,602.86M453.07,613.25L455.98,611.41M456.35,610.11L459.26,608.27" fill="none" stroke="#e8a01a" stroke-width="3.0"/>
<circle cx="275.06" cy="604.03" r="2.30" fill="#fff" stroke="#d45a12" stroke-width="1.9"/>
<circle cx="285.55" cy="611.20" r="2.30" fill="#fff" stroke="#d45a12" stroke-width="1.9"/>
<circle cx="279.00" cy="598.62" r="2.30" fill="#fff" stroke="#d45a12" stroke-width="1.9"/>
<circle cx="289.04" cy="606.40" r="2.30" fill="#fff" stroke="#d45a12" stroke-width="1.9"/>
<circle cx="283.26" cy="593.46" r="2.30" fill="#fff" stroke="#d45a12" stroke-width="1.9"/>
<circle cx="292.81" cy="601.83" r="2.30" fill="#fff" stroke="#d45a12" stroke-width="1.9"/>
<circle cx="287.81" cy="588.56" r="2.30" fill="#fff" stroke="#d45a12" stroke-width="1.9"/>
<circle cx="296.85" cy="597.49" r="2.30" fill="#fff" stroke="#d45a12" stroke-width="1.9"/>
<circle cx="292.65" cy="583.95" r="2.30" fill="#fff" stroke="#d45a12" stroke-width="1.9"/>
<circle cx="301.14" cy="593.40" r="2.30" fill="#fff" stroke="#d45a12" stroke-width="1.9"/>
<circle cx="297.76" cy="579.63" r="2.30" fill="#fff" stroke="#d45a12" stroke-width="1.9"/>
<circle cx="305.67" cy="589.57" r="2.30" fill="#fff" stroke="#d45a12" stroke-width="1.9"/>
<circle cx="303.12" cy="575.63" r="2.30" fill="#fff" stroke="#d45a12" stroke-width="1.9"/>
<circle cx="310.42" cy="586.03" r="2.30" fill="#fff" stroke="#d45a12" stroke-width="1.9"/>
<circle cx="308.71" cy="571.95" r="2.30" fill="#fff" stroke="#d45a12" stroke-width="1.9"/>
<circle cx="315.37" cy="582.77" r="2.30" fill="#fff" stroke="#d45a12" stroke-width="1.9"/>
<circle cx="314.51" cy="568.62" r="2.30" fill="#fff" stroke="#d45a12" stroke-width="1.9"/>
<circle cx="320.51" cy="579.82" r="2.30" fill="#fff" stroke="#d45a12" stroke-width="1.9"/>
<circle cx="320.50" cy="565.64" r="2.30" fill="#fff" stroke="#d45a12" stroke-width="1.9"/>
<circle cx="325.82" cy="577.17" r="2.30" fill="#fff" stroke="#d45a12" stroke-width="1.9"/>
<circle cx="326.66" cy="563.02" r="2.30" fill="#fff" stroke="#d45a12" stroke-width="1.9"/>
<circle cx="331.27" cy="574.86" r="2.30" fill="#fff" stroke="#d45a12" stroke-width="1.9"/>
<circle cx="332.96" cy="560.78" r="2.30" fill="#fff" stroke="#d45a12" stroke-width="1.9"/>
<circle cx="336.86" cy="572.87" r="2.30" fill="#fff" stroke="#d45a12" stroke-width="1.9"/>
<circle cx="339.39" cy="558.92" r="2.30" fill="#fff" stroke="#d45a12" stroke-width="1.9"/>
<circle cx="342.55" cy="571.22" r="2.30" fill="#fff" stroke="#d45a12" stroke-width="1.9"/>
<circle cx="345.91" cy="557.45" r="2.30" fill="#fff" stroke="#d45a12" stroke-width="1.9"/>
<circle cx="348.33" cy="569.92" r="2.30" fill="#fff" stroke="#d45a12" stroke-width="1.9"/>
<circle cx="352.51" cy="556.37" r="2.30" fill="#fff" stroke="#d45a12" stroke-width="1.9"/>
<circle cx="354.18" cy="568.96" r="2.30" fill="#fff" stroke="#d45a12" stroke-width="1.9"/>
<circle cx="359.17" cy="555.69" r="2.30" fill="#fff" stroke="#d45a12" stroke-width="1.9"/>
<circle cx="360.08" cy="568.36" r="2.30" fill="#fff" stroke="#d45a12" stroke-width="1.9"/>
<circle cx="365.85" cy="555.41" r="2.30" fill="#fff" stroke="#d45a12" stroke-width="1.9"/>
<circle cx="366.00" cy="568.11" r="2.30" fill="#fff" stroke="#d45a12" stroke-width="1.9"/>
<circle cx="372.54" cy="555.53" r="2.30" fill="#fff" stroke="#d45a12" stroke-width="1.9"/>
<circle cx="371.93" cy="568.21" r="2.30" fill="#fff" stroke="#d45a12" stroke-width="1.9"/>
<circle cx="379.21" cy="556.05" r="2.30" fill="#fff" stroke="#d45a12" stroke-width="1.9"/>
<circle cx="377.84" cy="568.67" r="2.30" fill="#fff" stroke="#d45a12" stroke-width="1.9"/>
<circle cx="385.83" cy="556.97" r="2.30" fill="#fff" stroke="#d45a12" stroke-width="1.9"/>
<circle cx="383.71" cy="569.49" r="2.30" fill="#fff" stroke="#d45a12" stroke-width="1.9"/>
<circle cx="392.39" cy="558.28" r="2.30" fill="#fff" stroke="#d45a12" stroke-width="1.9"/>
<circle cx="389.53" cy="570.65" r="2.30" fill="#fff" stroke="#d45a12" stroke-width="1.9"/>
<circle cx="398.86" cy="559.99" r="2.30" fill="#fff" stroke="#d45a12" stroke-width="1.9"/>
<circle cx="395.26" cy="572.16" r="2.30" fill="#fff" stroke="#d45a12" stroke-width="1.9"/>
<circle cx="405.22" cy="562.07" r="2.30" fill="#fff" stroke="#d45a12" stroke-width="1.9"/>
<circle cx="400.89" cy="574.02" r="2.30" fill="#fff" stroke="#d45a12" stroke-width="1.9"/>
<circle cx="411.44" cy="564.54" r="2.30" fill="#fff" stroke="#d45a12" stroke-width="1.9"/>
<circle cx="406.40" cy="576.20" r="2.30" fill="#fff" stroke="#d45a12" stroke-width="1.9"/>
<circle cx="417.49" cy="567.38" r="2.30" fill="#fff" stroke="#d45a12" stroke-width="1.9"/>
<circle cx="411.77" cy="578.71" r="2.30" fill="#fff" stroke="#d45a12" stroke-width="1.9"/>
<circle cx="423.37" cy="570.57" r="2.30" fill="#fff" stroke="#d45a12" stroke-width="1.9"/>
<circle cx="416.98" cy="581.54" r="2.30" fill="#fff" stroke="#d45a12" stroke-width="1.9"/>
<circle cx="429.05" cy="574.11" r="2.30" fill="#fff" stroke="#d45a12" stroke-width="1.9"/>
<circle cx="422.01" cy="584.68" r="2.30" fill="#fff" stroke="#d45a12" stroke-width="1.9"/>
<circle cx="434.50" cy="577.98" r="2.30" fill="#fff" stroke="#d45a12" stroke-width="1.9"/>
<circle cx="426.84" cy="588.11" r="2.30" fill="#fff" stroke="#d45a12" stroke-width="1.9"/>
<circle cx="439.72" cy="582.17" r="2.30" fill="#fff" stroke="#d45a12" stroke-width="1.9"/>
<circle cx="431.46" cy="591.82" r="2.30" fill="#fff" stroke="#d45a12" stroke-width="1.9"/>
<circle cx="444.67" cy="586.67" r="2.30" fill="#fff" stroke="#d45a12" stroke-width="1.9"/>
<circle cx="435.85" cy="595.81" r="2.30" fill="#fff" stroke="#d45a12" stroke-width="1.9"/>
<circle cx="449.34" cy="591.45" r="2.30" fill="#fff" stroke="#d45a12" stroke-width="1.9"/>
<circle cx="439.99" cy="600.05" r="2.30" fill="#fff" stroke="#d45a12" stroke-width="1.9"/>
<circle cx="453.72" cy="596.51" r="2.30" fill="#fff" stroke="#d45a12" stroke-width="1.9"/>
<circle cx="443.88" cy="604.53" r="2.30" fill="#fff" stroke="#d45a12" stroke-width="1.9"/>
<circle cx="457.79" cy="601.82" r="2.30" fill="#fff" stroke="#d45a12" stroke-width="1.9"/>
<circle cx="447.48" cy="609.24" r="2.30" fill="#fff" stroke="#d45a12" stroke-width="1.9"/>
<circle cx="461.53" cy="607.37" r="2.30" fill="#fff" stroke="#d45a12" stroke-width="1.9"/>
<circle cx="450.80" cy="614.15" r="2.30" fill="#fff" stroke="#d45a12" stroke-width="1.9"/>
<line x1="296.20" y1="553.20" x2="283.40" y2="565.40" stroke="#d42a1a" stroke-width="2.7"/>
<line x1="277.80" y1="560.30" x2="288.90" y2="570.60" stroke="#d42a1a" stroke-width="2.8"/>
<ellipse cx="308.50" cy="547.10" rx="14.70" ry="8.40" fill="url(#gSlc)"/>
<text x="308.50" y="551.30" font-size="12.3" text-anchor="middle" fill="#111" stroke="#111" stroke-width="0.2" textLength="22.1" lengthAdjust="spacingAndGlyphs">SLC</text>
<rect x="304.30" y="597.90" width="11.4" height="5.8" rx="2.9" fill="url(#gKin)" transform="rotate(46 310.0 600.8)"/>
<rect x="296.80" y="604.20" width="11.4" height="5.8" rx="2.9" fill="url(#gKin)" transform="rotate(46 302.5 607.1)"/>
<circle cx="314.30" cy="612.80" r="3.70" fill="#e8b020" stroke="#6a5010" stroke-width="0.7"/>
<text x="314.30" y="615.10" font-size="6.0" text-anchor="middle" font-weight="bold" fill="#1a2a5a">P</text>
<text x="322.50" y="598.50" font-size="12.5" fill="#111" stroke="#111" stroke-width="0.2" textLength="23.5" lengthAdjust="spacingAndGlyphs">AXL</text>
<line x1="319.50" y1="607.90" x2="327.30" y2="607.90" stroke="#3c9a3c" stroke-width="1.95"/>
<path d="M331.00,607.90 L326.70,610.60 L326.70,605.20 Z" fill="#3c9a3c" stroke="none" stroke-width="1"/>
<ellipse cx="339.40" cy="607.90" rx="8.10" ry="5.50" fill="#f2e21a" stroke="#3a78c0" stroke-width="0.9"/>
<text x="339.40" y="610.28" font-size="6.6" text-anchor="middle" fill="#111" stroke="#111" stroke-width="0.2" textLength="14.7" lengthAdjust="spacingAndGlyphs">Grb2</text>
<line x1="347.80" y1="607.90" x2="356.80" y2="607.90" stroke="#3c9a3c" stroke-width="1.95"/>
<path d="M360.50,607.90 L356.20,610.60 L356.20,605.20 Z" fill="#3c9a3c" stroke="none" stroke-width="1"/>
<ellipse cx="369.00" cy="607.70" rx="8.20" ry="5.20" fill="#f2e21a" stroke="#3a78c0" stroke-width="0.9"/>
<text x="369.00" y="610.22" font-size="7.0" text-anchor="middle" fill="#111" stroke="#111" stroke-width="0.2" textLength="15.1" lengthAdjust="spacingAndGlyphs">RAS</text>
<line x1="369.00" y1="613.20" x2="369.00" y2="618.10" stroke="#3c9a3c" stroke-width="1.95"/>
<path d="M369.00,621.80 L366.30,617.50 L371.70,617.50 Z" fill="#3c9a3c" stroke="none" stroke-width="1"/>
<ellipse cx="368.10" cy="627.00" rx="7.70" ry="5.10" fill="#f5e400"/>
<text x="368.10" y="629.52" font-size="7.0" text-anchor="middle" fill="#111" stroke="#111" stroke-width="0.2" textLength="13.7" lengthAdjust="spacingAndGlyphs">RAF</text>
<line x1="369.00" y1="632.60" x2="369.00" y2="637.30" stroke="#3c9a3c" stroke-width="1.95"/>
<path d="M369.00,641.00 L366.30,636.70 L371.70,636.70 Z" fill="#3c9a3c" stroke="none" stroke-width="1"/>
<ellipse cx="369.00" cy="646.60" rx="9.00" ry="5.20" fill="url(#gBeige)"/>
<text x="369.00" y="649.26" font-size="7.4" text-anchor="middle" fill="#111" stroke="#111" stroke-width="0.2" textLength="16.1" lengthAdjust="spacingAndGlyphs">MEK</text>
<line x1="369.00" y1="652.00" x2="369.00" y2="654.50" stroke="#3c9a3c" stroke-width="1.95"/>
<path d="M369.00,658.20 L366.30,653.90 L371.70,653.90 Z" fill="#3c9a3c" stroke="none" stroke-width="1"/>
<ellipse cx="370.30" cy="664.30" rx="12.80" ry="7.30" fill="url(#gBeige)"/>
<text x="370.30" y="666.89" font-size="7.2" text-anchor="middle" fill="#111" stroke="#111" stroke-width="0.2" textLength="24.7" lengthAdjust="spacingAndGlyphs">ERK1/2</text>
<line x1="313.30" y1="617.50" x2="313.30" y2="626.50" stroke="#3c9a3c" stroke-width="1.95"/>
<path d="M313.30,630.20 L310.60,625.90 L316.00,625.90 Z" fill="#3c9a3c" stroke="none" stroke-width="1"/>
<ellipse cx="313.30" cy="635.80" rx="11.10" ry="5.00" fill="url(#gPi3k)"/>
<text x="313.30" y="638.82" font-size="8.4" text-anchor="middle" fill="#111" stroke="#111" stroke-width="0.2" textLength="18.3" lengthAdjust="spacingAndGlyphs">PI3K</text>
<line x1="313.30" y1="641.20" x2="313.30" y2="649.10" stroke="#3c9a3c" stroke-width="1.95"/>
<path d="M313.30,652.80 L310.60,648.50 L316.00,648.50 Z" fill="#3c9a3c" stroke="none" stroke-width="1"/>
<ellipse cx="313.30" cy="662.10" rx="11.30" ry="8.70" fill="url(#gAkt)"/>
<text x="313.30" y="665.34" font-size="9.0" text-anchor="middle" fill="#111" stroke="#111" stroke-width="0.2" textLength="17.7" lengthAdjust="spacingAndGlyphs">AKT</text>
<line x1="324.60" y1="663.90" x2="357.50" y2="663.90" stroke="#3c9a3c" stroke-width="1.95"/>
<line x1="340.30" y1="663.90" x2="340.30" y2="670.20" stroke="#3c9a3c" stroke-width="1.95"/>
<path d="M340.30,673.90 L337.60,669.60 L343.00,669.60 Z" fill="#3c9a3c" stroke="none" stroke-width="1"/>
<line x1="312.30" y1="674.50" x2="369.10" y2="674.50" stroke="#3c9a3c" stroke-width="1.95"/>
<line x1="312.30" y1="673.60" x2="312.30" y2="680.50" stroke="#3c9a3c" stroke-width="1.95"/>
<path d="M312.30,684.20 L309.60,679.90 L315.00,679.90 Z" fill="#3c9a3c" stroke="none" stroke-width="1"/>
<line x1="369.10" y1="673.60" x2="369.10" y2="680.50" stroke="#3c9a3c" stroke-width="1.95"/>
<path d="M369.10,684.20 L366.40,679.90 L371.80,679.90 Z" fill="#3c9a3c" stroke="none" stroke-width="1"/>
<ellipse cx="311.60" cy="692.00" rx="11.10" ry="6.70" fill="url(#gBim)"/>
<text x="311.60" y="695.30" font-size="8.0" text-anchor="middle" fill="#111" stroke="#111" stroke-width="0.2" textLength="14.4" lengthAdjust="spacingAndGlyphs">BIM</text>
<ellipse cx="367.70" cy="693.70" rx="12.10" ry="4.90" fill="url(#gBeige)" stroke="#b8d4ee" stroke-width="0.6"/>
<text x="367.70" y="696.30" font-size="7.5" text-anchor="middle" fill="#111" stroke="#111" stroke-width="0.2" textLength="19.1" lengthAdjust="spacingAndGlyphs">GSK3</text>
<line x1="380.50" y1="692.90" x2="388.50" y2="692.90" stroke="#3c9a3c" stroke-width="1.95"/>
<path d="M392.20,692.90 L387.90,695.60 L387.90,690.20 Z" fill="#3c9a3c" stroke="none" stroke-width="1"/>
<rect x="393.8" y="686.3" width="37.3" height="13.9" rx="2" fill="#f8dc98"/>
<text x="401.10" y="695.20" font-size="8.0" fill="#111" stroke="#111" stroke-width="0.2" textLength="27.4" lengthAdjust="spacingAndGlyphs">-catenin</text>
<line x1="414.00" y1="685.50" x2="414.00" y2="678.30" stroke="#3c9a3c" stroke-width="1.95"/>
<path d="M414.00,674.60 L416.70,678.90 L411.30,678.90 Z" fill="#3c9a3c" stroke="none" stroke-width="1"/>
<rect x="395.9" y="660.4" width="35.2" height="11.2" fill="#fff" stroke="#d8606a" stroke-width="1.2"/>
<text x="399.60" y="668.70" font-size="8.0" fill="#111" stroke="#111" stroke-width="0.2" textLength="27.9" lengthAdjust="spacingAndGlyphs">Stability</text>
<line x1="411.20" y1="705.40" x2="411.20" y2="714.60" stroke="#3c9a3c" stroke-width="1.95"/>
<path d="M411.20,718.30 L408.50,714.00 L413.90,714.00 Z" fill="#3c9a3c" stroke="none" stroke-width="1"/>
<line x1="364.40" y1="704.60" x2="364.40" y2="713.90" stroke="#3c9a3c" stroke-width="1.95"/>
<path d="M364.40,717.60 L361.70,713.30 L367.10,713.30 Z" fill="#3c9a3c" stroke="none" stroke-width="1"/>
<line x1="311.50" y1="704.80" x2="311.50" y2="714.10" stroke="#3c9a3c" stroke-width="1.95"/>
<path d="M311.50,717.80 L308.80,713.50 L314.20,713.50 Z" fill="#3c9a3c" stroke="none" stroke-width="1"/>
<rect x="435.85" y="639.75" width="76.0" height="51.8" fill="#fff" stroke="#4ab0e8" stroke-width="1.3"/>
<line x1="436.50" y1="667.40" x2="443.20" y2="667.40" stroke="#3c9a3c" stroke-width="1.95"/>
<path d="M446.90,667.40 L442.60,670.10 L442.60,664.70 Z" fill="#3c9a3c" stroke="none" stroke-width="1"/>
<text x="472.70" y="653.30" font-size="8.3" text-anchor="middle" fill="#111" stroke="#111" stroke-width="0.2" textLength="53.6" lengthAdjust="spacingAndGlyphs">Transcriptional</text>
<text x="473.80" y="663.10" font-size="8.3" text-anchor="middle" fill="#111" stroke="#111" stroke-width="0.2" textLength="36" lengthAdjust="spacingAndGlyphs">activation</text>
<text x="472.60" y="672.90" font-size="8.3" text-anchor="middle" fill="#111" stroke="#111" stroke-width="0.2" textLength="48.7" lengthAdjust="spacingAndGlyphs">(TCF1, LEF1,</text>
<text x="474.10" y="682.70" font-size="8.3" text-anchor="middle" fill="#111" stroke="#111" stroke-width="0.2" textLength="55.6" lengthAdjust="spacingAndGlyphs">CCND1, MYC)</text>
<line x1="501.40" y1="665.20" x2="501.40" y2="673.40" stroke="#d03020" stroke-width="2.0"/>
<path d="M501.40,678.00 L498.40,672.80 L504.40,672.80 Z" fill="#d03020" stroke="none" stroke-width="1"/>
<ellipse cx="237.80" cy="586.00" rx="12.95" ry="7.70" fill="url(#gVen)"/>
<text x="237.80" y="589.80" font-size="10.0" text-anchor="middle" fill="#e0401e" stroke="#e0401e" stroke-width="0.2" textLength="19.9" lengthAdjust="spacingAndGlyphs">VEN</text>
<line x1="235.80" y1="598.60" x2="240.54" y2="604.92" stroke="#dc3c1a" stroke-width="3.6"/>
<path d="M243.90,609.40 L236.66,607.08 L243.70,601.80 Z" fill="#dc3c1a" stroke="none" stroke-width="1"/>
<ellipse cx="250.60" cy="622.00" rx="13.70" ry="9.10" fill="#b8c9e9"/>
<text x="250.60" y="625.40" font-size="8.1" text-anchor="middle" fill="#222" stroke="#222" stroke-width="0.2" textLength="21.8" lengthAdjust="spacingAndGlyphs">BCL-2</text>
<ellipse cx="256.00" cy="610.70" rx="8.80" ry="6.00" fill="url(#gBim)"/>
<text x="256.00" y="613.30" font-size="7.4" text-anchor="middle" fill="#111" stroke="#111" stroke-width="0.2" textLength="13.9" lengthAdjust="spacingAndGlyphs">BIM</text>
<line x1="253.70" y1="632.80" x2="253.70" y2="638.90" stroke="#3c9a3c" stroke-width="1.95"/>
<path d="M253.70,642.60 L251.00,638.30 L256.40,638.30 Z" fill="#3c9a3c" stroke="none" stroke-width="1"/>
<ellipse cx="251.70" cy="655.50" rx="13.70" ry="8.50" fill="#b8c9e9"/>
<text x="243.00" y="659.40" font-size="8.1" fill="#222" stroke="#222" stroke-width="0.2" textLength="21.9" lengthAdjust="spacingAndGlyphs">BCL-2</text>
<ellipse cx="263.50" cy="647.90" rx="8.70" ry="5.80" fill="url(#gVen)"/>
<text x="263.50" y="651.30" font-size="8.0" text-anchor="middle" fill="#e0401e" stroke="#e0401e" stroke-width="0.2" textLength="15.8" lengthAdjust="spacingAndGlyphs">VEN</text>
<ellipse cx="276.90" cy="659.80" rx="9.10" ry="5.40" fill="url(#gBim)"/>
<text x="276.90" y="662.40" font-size="7.4" text-anchor="middle" fill="#111" stroke="#111" stroke-width="0.2" textLength="14.0" lengthAdjust="spacingAndGlyphs">BIM</text>
<line x1="275.60" y1="668.80" x2="275.60" y2="674.50" stroke="#3c9a3c" stroke-width="1.95"/>
<path d="M275.60,678.20 L272.90,673.90 L278.30,673.90 Z" fill="#3c9a3c" stroke="none" stroke-width="1"/>
<path d="M282.4,681.0 A11.9,8.9 0 1 0 286.3,690.5 L279.2,686.6 Z" fill="url(#gBax)" stroke="none" stroke-width="1"/>
<rect x="263.6" y="698.2" width="22.4" height="3.6" fill="url(#gYbar)" stroke="#f0b420" stroke-width="1.8"/>
<text x="267.20" y="688.40" font-size="6.2" fill="#333" stroke="#333" stroke-width="0.2" textLength="11.4" lengthAdjust="spacingAndGlyphs">BAX</text>
<text x="267.20" y="695.40" font-size="6.2" fill="#333" stroke="#333" stroke-width="0.2" textLength="11.4" lengthAdjust="spacingAndGlyphs">BAK</text>
<line x1="297.40" y1="680.20" x2="287.42" y2="683.55" stroke="#8cc43c" stroke-width="4.4"/>
<path d="M280.40,685.90 L286.20,678.05 L289.77,688.67 Z" fill="#8cc43c" stroke="none" stroke-width="1"/>
<line x1="305.40" y1="679.80" x2="292.95" y2="672.39" stroke="#3c9a3c" stroke-width="1.8"/>
<path d="M289.60,670.40 L294.80,670.47 L292.14,674.94 Z" fill="#3c9a3c" stroke="none" stroke-width="1"/>
<line x1="273.70" y1="704.20" x2="273.70" y2="710.10" stroke="#3c9a3c" stroke-width="1.95"/>
<path d="M273.70,713.80 L271.00,709.50 L276.40,709.50 Z" fill="#3c9a3c" stroke="none" stroke-width="1"/>
<ellipse cx="272.50" cy="726.30" rx="12.70" ry="10.00" fill="url(#gBax)"/>
<rect x="260.4" y="727.4" width="6.4" height="18.2" fill="url(#gYbarV)" stroke="#f0b420" stroke-width="1.8"/>
<text x="262.70" y="725.00" font-size="6.2" fill="#333" stroke="#333" stroke-width="0.2" textLength="11.4" lengthAdjust="spacingAndGlyphs">BAX</text>
<text x="264.40" y="733.00" font-size="6.2" fill="#333" stroke="#333" stroke-width="0.2" textLength="11.4" lengthAdjust="spacingAndGlyphs">BAK</text>
<ellipse cx="282.50" cy="723.50" rx="7.30" ry="4.00" fill="url(#gBim)"/>
<text x="282.50" y="725.60" font-size="6.2" text-anchor="middle" fill="#111" stroke="#111" stroke-width="0.2" textLength="11.6" lengthAdjust="spacingAndGlyphs">BIM</text>
<line x1="275.70" y1="740.60" x2="275.70" y2="746.30" stroke="#3c9a3c" stroke-width="1.95"/>
<path d="M275.70,750.00 L273.00,745.70 L278.40,745.70 Z" fill="#3c9a3c" stroke="none" stroke-width="1"/>
<ellipse cx="251.00" cy="760.50" rx="5.20" ry="5.00" fill="#d8461a"/>
<ellipse cx="257.50" cy="756.60" rx="5.00" ry="4.40" fill="#d8461a"/>
<ellipse cx="257.50" cy="764.60" rx="5.00" ry="4.40" fill="#d8461a"/>
<ellipse cx="265.50" cy="755.80" rx="5.00" ry="3.90" fill="#d8461a"/>
<ellipse cx="265.50" cy="765.40" rx="5.20" ry="4.00" fill="#d8461a"/>
<ellipse cx="273.50" cy="755.60" rx="5.00" ry="3.80" fill="#d8461a"/>
<ellipse cx="273.50" cy="765.60" rx="5.00" ry="3.80" fill="#d8461a"/>
<ellipse cx="281.50" cy="756.00" rx="5.00" ry="3.90" fill="#d8461a"/>
<ellipse cx="281.50" cy="765.20" rx="5.00" ry="3.90" fill="#d8461a"/>
<ellipse cx="288.80" cy="757.80" rx="4.60" ry="3.60" fill="#d8461a"/>
<ellipse cx="288.80" cy="763.80" rx="4.60" ry="3.40" fill="#d8461a"/>
<ellipse cx="295.00" cy="760.60" rx="4.40" ry="2.60" fill="#d8461a"/>
<ellipse cx="272.00" cy="760.60" rx="21.00" ry="6.50" fill="#d8461a"/>
<ellipse cx="271.00" cy="762.00" rx="9.00" ry="2.00" fill="#f6c0aa" opacity="0.7"/>
<ellipse cx="284.00" cy="758.60" rx="3.50" ry="1.10" fill="#f6c0aa" opacity="0.7"/>
<ellipse cx="258.50" cy="759.00" rx="3.00" ry="1.10" fill="#f6c0aa" opacity="0.7"/>
<text x="253.10" y="762.80" font-size="9.0" fill="#111" stroke="#111" stroke-width="0.2" textLength="40" lengthAdjust="spacingAndGlyphs">Apoptosis</text>
<text x="251.50" y="777.70" font-size="7.6" fill="#1a1a1a" stroke="#1a1a1a" stroke-width="0.2" textLength="48.5" lengthAdjust="spacingAndGlyphs">VEN-response</text>
<line x1="305.80" y1="773.80" x2="305.80" y2="766.10" stroke="#d03020" stroke-width="2.0"/>
<path d="M305.80,761.50 L308.80,766.70 L302.80,766.70 Z" fill="#d03020" stroke="none" stroke-width="1"/>
<ellipse cx="300.50" cy="730.50" rx="5.50" ry="5.20" fill="#2c984a"/>
<ellipse cx="306.50" cy="726.50" rx="6.50" ry="5.50" fill="#2c984a"/>
<ellipse cx="315.50" cy="725.00" rx="7.00" ry="5.00" fill="#2c984a"/>
<ellipse cx="325.00" cy="725.80" rx="6.50" ry="5.00" fill="#2c984a"/>
<ellipse cx="333.50" cy="727.50" rx="6.00" ry="5.00" fill="#2c984a"/>
<ellipse cx="336.00" cy="732.50" rx="4.50" ry="4.50" fill="#2c984a"/>
<ellipse cx="329.50" cy="735.50" rx="6.50" ry="5.00" fill="#2c984a"/>
<ellipse cx="319.00" cy="736.00" rx="7.00" ry="4.80" fill="#2c984a"/>
<ellipse cx="308.00" cy="735.50" rx="7.00" ry="5.00" fill="#2c984a"/>
<ellipse cx="299.50" cy="734.00" rx="4.00" ry="4.00" fill="#2c984a"/>
<ellipse cx="318.30" cy="730.00" rx="13.00" ry="7.00" fill="url(#gDeg)"/>
<text x="299.20" y="731.60" font-size="9.0" fill="#2a3580" stroke="#2a3580" stroke-width="0.2" textLength="49.8" lengthAdjust="spacingAndGlyphs">Degradation</text>
<text x="369.20" y="728.10" font-size="9.2" fill="#c83a2c" stroke="#c83a2c" stroke-width="0.2" textLength="36.5" lengthAdjust="spacingAndGlyphs">OXPHOS</text>
<line x1="414.90" y1="733.20" x2="414.90" y2="740.60" stroke="#d03020" stroke-width="2.0"/>
<path d="M414.90,745.20 L411.90,740.00 L417.90,740.00 Z" fill="#d03020" stroke="none" stroke-width="1"/>
<g transform="rotate(-12 384.2 744.2)">
<ellipse cx="384.40" cy="744.20" rx="25.00" ry="12.60" fill="#f4e6bc"/>
<ellipse cx="382.40" cy="744.40" rx="22.80" ry="11.60" fill="url(#gMito)"/>
<path d="M365.00,740.30 c0.6,-3.90 2.4,-3.90 2.6,0 c0.6,3.90 2.4,3.90 2.6,0 c0.6,-3.90 2.4,-3.90 2.6,0 c0.6,3.90 2.4,3.90 2.6,0 c0.6,-3.90 2.4,-3.90 2.6,0 c0.6,3.90 2.4,3.90 2.6,0 c0.6,-3.90 2.4,-3.90 2.6,0 c0.6,3.90 2.4,3.90 2.6,0 c0.6,-3.90 2.4,-3.90 2.6,0 c0.6,3.90 2.4,3.90 2.6,0 c0.6,-3.90 2.4,-3.90 2.6,0 c0.6,3.90 2.4,3.90 2.6,0 c0.6,-3.90 2.4,-3.90 2.6,0 c0.6,3.90 2.4,3.90 2.6,0M364.00,747.80 c0.6,-3.38 2.4,-3.38 2.6,0 c0.6,3.38 2.4,3.38 2.6,0 c0.6,-3.38 2.4,-3.38 2.6,0 c0.6,3.38 2.4,3.38 2.6,0 c0.6,-3.38 2.4,-3.38 2.6,0 c0.6,3.38 2.4,3.38 2.6,0 c0.6,-3.38 2.4,-3.38 2.6,0 c0.6,3.38 2.4,3.38 2.6,0 c0.6,-3.38 2.4,-3.38 2.6,0 c0.6,3.38 2.4,3.38 2.6,0 c0.6,-3.38 2.4,-3.38 2.6,0 c0.6,3.38 2.4,3.38 2.6,0 c0.6,-3.38 2.4,-3.38 2.6,0 c0.6,3.38 2.4,3.38 2.6,0" fill="none" stroke="#f7df9e" stroke-width="1.05"/>
</g>
<text x="339.20" y="766.30" font-size="8.0" fill="#222" stroke="#222" stroke-width="0.2" textLength="42.3" lengthAdjust="spacingAndGlyphs">LSC Survival</text>
<text x="339.20" y="775.00" font-size="8.0" fill="#222" stroke="#222" stroke-width="0.2" textLength="76.4" lengthAdjust="spacingAndGlyphs">Induction of Leukemia</text>
<line x1="421.30" y1="761.50" x2="421.30" y2="769.40" stroke="#d03020" stroke-width="2.0"/>
<path d="M421.30,774.00 L418.30,768.80 L424.30,768.80 Z" fill="#d03020" stroke="none" stroke-width="1"/>
</svg>
</body></html>
